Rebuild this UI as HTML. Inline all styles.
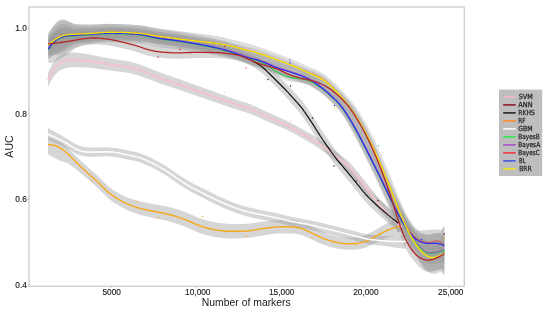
<!DOCTYPE html>
<html><head><meta charset="utf-8"><title>AUC vs number of markers</title>
<style>
html,body{margin:0;padding:0;background:#fff;}
body{width:550px;height:313px;overflow:hidden;font-family:"Liberation Sans",sans-serif;}
svg{display:block;}
</style></head><body>
<svg width="550" height="313" viewBox="0 0 550 313" font-family="Liberation Sans, sans-serif">
<rect width="550" height="313" fill="#ffffff"/>
<defs><linearGradient id="bg" gradientUnits="userSpaceOnUse" x1="0" y1="0" x2="550" y2="0">
<stop offset="0" stop-color="#999999" stop-opacity="0.4"/><stop offset="0.33" stop-color="#999999" stop-opacity="0.4"/>
<stop offset="0.45" stop-color="#999999" stop-opacity="0.31"/><stop offset="0.7" stop-color="#999999" stop-opacity="0.31"/>
<stop offset="0.745" stop-color="#999999" stop-opacity="0.4"/><stop offset="1" stop-color="#999999" stop-opacity="0.4"/></linearGradient>
<clipPath id="plot"><rect x="29" y="7" width="435" height="279"/></clipPath></defs>
<g clip-path="url(#plot)">
<g fill="#999999" fill-opacity="0.4" stroke="none">
<path d="M48.0,73.2 L49.0,71.0 L50.0,68.8 L51.0,66.7 L52.0,64.8 L53.0,63.1 L54.0,61.5 L55.0,60.1 L56.0,58.9 L57.0,57.9 L58.0,56.9 L59.0,56.1 L60.0,55.5 L61.0,54.9 L62.0,54.4 L63.0,53.9 L64.0,53.6 L65.0,53.3 L66.0,53.0 L67.0,52.8 L68.0,52.6 L69.0,52.5 L70.0,52.4 L71.0,52.4 L72.0,52.3 L73.0,52.4 L74.0,52.4 L75.0,52.5 L76.0,52.6 L77.0,52.7 L78.0,52.8 L79.0,53.0 L80.0,53.1 L81.0,53.2 L82.0,53.4 L83.0,53.5 L84.0,53.7 L85.0,53.8 L86.0,54.0 L87.0,54.1 L88.0,54.3 L89.0,54.5 L90.0,54.6 L91.0,54.8 L92.0,55.0 L93.0,55.2 L94.0,55.4 L95.0,55.6 L96.0,55.8 L97.0,56.0 L98.0,56.2 L99.0,56.4 L100.0,56.6 L101.0,56.8 L102.0,57.0 L103.0,57.2 L104.0,57.4 L105.0,57.6 L106.0,57.8 L107.0,58.0 L108.0,58.2 L109.0,58.3 L110.0,58.5 L111.0,58.7 L112.0,58.8 L113.0,59.0 L114.0,59.1 L115.0,59.3 L116.0,59.4 L117.0,59.6 L118.0,59.7 L119.0,59.9 L120.0,60.0 L121.0,60.2 L122.0,60.3 L123.0,60.5 L124.0,60.6 L125.0,60.8 L126.0,61.0 L127.0,61.2 L128.0,61.4 L129.0,61.6 L130.0,61.8 L131.0,62.0 L132.0,62.3 L133.0,62.5 L134.0,62.8 L135.0,63.1 L136.0,63.3 L137.0,63.6 L138.0,64.0 L139.0,64.3 L140.0,64.6 L141.0,65.0 L142.0,65.3 L143.0,65.7 L144.0,66.1 L145.0,66.5 L146.0,66.8 L147.0,67.2 L148.0,67.7 L149.0,68.1 L150.0,68.5 L151.0,68.9 L152.0,69.3 L153.0,69.7 L154.0,70.1 L155.0,70.5 L156.0,70.9 L157.0,71.3 L158.0,71.7 L159.0,72.0 L160.0,72.4 L161.0,72.8 L162.0,73.1 L163.0,73.5 L164.0,73.9 L165.0,74.2 L166.0,74.6 L167.0,74.9 L168.0,75.3 L169.0,75.6 L170.0,76.0 L171.0,76.3 L172.0,76.7 L173.0,77.0 L174.0,77.4 L175.0,77.7 L176.0,78.1 L177.0,78.4 L178.0,78.8 L179.0,79.1 L180.0,79.5 L181.0,79.8 L182.0,80.2 L183.0,80.6 L184.0,80.9 L185.0,81.3 L186.0,81.6 L187.0,82.0 L188.0,82.3 L189.0,82.7 L190.0,83.0 L191.0,83.4 L192.0,83.7 L193.0,84.1 L194.0,84.5 L195.0,84.8 L196.0,85.2 L197.0,85.5 L198.0,85.9 L199.0,86.2 L200.0,86.6 L201.0,87.0 L202.0,87.3 L203.0,87.7 L204.0,88.0 L205.0,88.4 L206.0,88.8 L207.0,89.1 L208.0,89.5 L209.0,89.8 L210.0,90.2 L211.0,90.6 L212.0,90.9 L213.0,91.3 L214.0,91.7 L215.0,92.0 L216.0,92.4 L217.0,92.7 L218.0,93.1 L219.0,93.5 L220.0,93.8 L221.0,94.2 L222.0,94.5 L223.0,94.9 L224.0,95.3 L225.0,95.6 L226.0,96.0 L227.0,96.4 L228.0,96.7 L229.0,97.1 L230.0,97.4 L231.0,97.8 L232.0,98.1 L233.0,98.5 L234.0,98.8 L235.0,99.2 L236.0,99.5 L237.0,99.9 L238.0,100.2 L239.0,100.5 L240.0,100.8 L241.0,101.2 L242.0,101.5 L243.0,101.8 L244.0,102.1 L245.0,102.4 L246.0,102.8 L247.0,103.1 L248.0,103.4 L249.0,103.8 L250.0,104.2 L251.0,104.6 L252.0,105.0 L253.0,105.4 L254.0,105.9 L255.0,106.3 L256.0,106.8 L257.0,107.2 L258.0,107.7 L259.0,108.2 L260.0,108.7 L261.0,109.1 L262.0,109.6 L263.0,110.1 L264.0,110.6 L265.0,111.0 L266.0,111.5 L267.0,112.0 L268.0,112.4 L269.0,112.9 L270.0,113.3 L271.0,113.8 L272.0,114.2 L273.0,114.7 L274.0,115.1 L275.0,115.5 L276.0,116.0 L277.0,116.4 L278.0,116.9 L279.0,117.3 L280.0,117.8 L281.0,118.2 L282.0,118.7 L283.0,119.1 L284.0,119.6 L285.0,120.1 L286.0,120.5 L287.0,121.0 L288.0,121.5 L289.0,122.0 L290.0,122.5 L291.0,123.0 L292.0,123.5 L293.0,124.1 L294.0,124.6 L295.0,125.1 L296.0,125.7 L297.0,126.2 L298.0,126.8 L299.0,127.4 L300.0,127.9 L301.0,128.5 L302.0,129.1 L303.0,129.6 L304.0,130.2 L305.0,130.8 L306.0,131.3 L307.0,131.9 L308.0,132.5 L309.0,133.0 L310.0,133.6 L311.0,134.2 L312.0,134.8 L313.0,135.3 L314.0,135.9 L315.0,136.5 L316.0,137.1 L317.0,137.8 L318.0,138.4 L319.0,139.1 L320.0,139.7 L321.0,140.4 L322.0,141.1 L323.0,141.8 L324.0,142.6 L325.0,143.3 L326.0,144.1 L327.0,144.8 L328.0,145.5 L329.0,146.3 L330.0,147.0 L331.0,147.8 L332.0,148.5 L333.0,149.3 L334.0,150.0 L335.0,150.8 L336.0,151.5 L337.0,152.3 L338.0,153.0 L339.0,153.8 L340.0,154.5 L341.0,155.3 L342.0,156.0 L343.0,156.8 L344.0,157.6 L345.0,158.4 L346.0,159.2 L347.0,160.1 L348.0,161.0 L349.0,162.0 L350.0,163.0 L351.0,164.1 L352.0,165.2 L353.0,166.3 L354.0,167.5 L355.0,168.7 L356.0,169.9 L357.0,171.1 L358.0,172.3 L359.0,173.5 L360.0,174.8 L361.0,176.0 L362.0,177.3 L363.0,178.5 L364.0,179.8 L365.0,181.1 L366.0,182.4 L367.0,183.6 L368.0,184.9 L369.0,186.1 L370.0,187.4 L371.0,188.7 L372.0,189.9 L373.0,191.1 L374.0,192.3 L375.0,193.6 L376.0,194.8 L377.0,195.9 L378.0,197.1 L379.0,198.2 L380.0,199.4 L381.0,200.5 L382.0,201.6 L383.0,202.6 L384.0,203.7 L385.0,204.7 L386.0,205.8 L387.0,206.8 L388.0,207.9 L389.0,208.9 L390.0,209.9 L391.0,210.9 L392.0,211.9 L393.0,212.9 L394.0,213.8 L395.0,214.8 L396.0,215.7 L397.0,216.6 L398.0,217.5 L399.0,218.3 L400.0,219.2 L401.0,220.0 L402.0,220.9 L402.0,233.9 L401.0,233.0 L400.0,232.2 L399.0,231.3 L398.0,230.3 L397.0,229.4 L396.0,228.4 L395.0,227.4 L394.0,226.4 L393.0,225.4 L392.0,224.4 L391.0,223.3 L390.0,222.3 L389.0,221.2 L388.0,220.1 L387.0,219.0 L386.0,217.9 L385.0,216.8 L384.0,215.7 L383.0,214.6 L382.0,213.5 L381.0,212.3 L380.0,211.1 L379.0,210.0 L378.0,208.8 L377.0,207.6 L376.0,206.3 L375.0,205.1 L374.0,203.8 L373.0,202.5 L372.0,201.3 L371.0,200.0 L370.0,198.7 L369.0,197.4 L368.0,196.0 L367.0,194.7 L366.0,193.4 L365.0,192.1 L364.0,190.8 L363.0,189.5 L362.0,188.2 L361.0,186.9 L360.0,185.6 L359.0,184.3 L358.0,183.0 L357.0,181.7 L356.0,180.5 L355.0,179.2 L354.0,178.0 L353.0,176.8 L352.0,175.6 L351.0,174.5 L350.0,173.4 L349.0,172.3 L348.0,171.3 L347.0,170.4 L346.0,169.5 L345.0,168.6 L344.0,167.7 L343.0,166.9 L342.0,166.1 L341.0,165.3 L340.0,164.5 L339.0,163.7 L338.0,163.0 L337.0,162.2 L336.0,161.4 L335.0,160.6 L334.0,159.8 L333.0,159.0 L332.0,158.2 L331.0,157.5 L330.0,156.7 L329.0,155.9 L328.0,155.1 L327.0,154.4 L326.0,153.6 L325.0,152.8 L324.0,152.0 L323.0,151.3 L322.0,150.5 L321.0,149.8 L320.0,149.1 L319.0,148.4 L318.0,147.7 L317.0,147.0 L316.0,146.4 L315.0,145.7 L314.0,145.1 L313.0,144.5 L312.0,143.9 L311.0,143.3 L310.0,142.7 L309.0,142.1 L308.0,141.5 L307.0,141.0 L306.0,140.4 L305.0,139.8 L304.0,139.2 L303.0,138.6 L302.0,138.1 L301.0,137.5 L300.0,136.9 L299.0,136.4 L298.0,135.8 L297.0,135.2 L296.0,134.7 L295.0,134.2 L294.0,133.6 L293.0,133.1 L292.0,132.6 L291.0,132.1 L290.0,131.6 L289.0,131.1 L288.0,130.6 L287.0,130.1 L286.0,129.6 L285.0,129.1 L284.0,128.7 L283.0,128.2 L282.0,127.8 L281.0,127.3 L280.0,126.9 L279.0,126.5 L278.0,126.0 L277.0,125.6 L276.0,125.2 L275.0,124.8 L274.0,124.3 L273.0,123.9 L272.0,123.5 L271.0,123.1 L270.0,122.6 L269.0,122.2 L268.0,121.8 L267.0,121.3 L266.0,120.9 L265.0,120.4 L264.0,119.9 L263.0,119.5 L262.0,119.0 L261.0,118.6 L260.0,118.1 L259.0,117.6 L258.0,117.2 L257.0,116.7 L256.0,116.3 L255.0,115.8 L254.0,115.4 L253.0,115.0 L252.0,114.6 L251.0,114.2 L250.0,113.8 L249.0,113.4 L248.0,113.1 L247.0,112.7 L246.0,112.4 L245.0,112.1 L244.0,111.8 L243.0,111.5 L242.0,111.2 L241.0,110.9 L240.0,110.6 L239.0,110.3 L238.0,110.0 L237.0,109.6 L236.0,109.3 L235.0,109.0 L234.0,108.7 L233.0,108.3 L232.0,108.0 L231.0,107.7 L230.0,107.3 L229.0,107.0 L228.0,106.6 L227.0,106.3 L226.0,105.9 L225.0,105.6 L224.0,105.2 L223.0,104.9 L222.0,104.5 L221.0,104.2 L220.0,103.8 L219.0,103.5 L218.0,103.2 L217.0,102.8 L216.0,102.5 L215.0,102.1 L214.0,101.8 L213.0,101.4 L212.0,101.1 L211.0,100.7 L210.0,100.4 L209.0,100.0 L208.0,99.7 L207.0,99.3 L206.0,99.0 L205.0,98.7 L204.0,98.3 L203.0,98.0 L202.0,97.6 L201.0,97.3 L200.0,96.9 L199.0,96.6 L198.0,96.2 L197.0,95.9 L196.0,95.6 L195.0,95.2 L194.0,94.9 L193.0,94.5 L192.0,94.2 L191.0,93.9 L190.0,93.5 L189.0,93.2 L188.0,92.8 L187.0,92.5 L186.0,92.2 L185.0,91.8 L184.0,91.5 L183.0,91.2 L182.0,90.8 L181.0,90.5 L180.0,90.2 L179.0,89.8 L178.0,89.5 L177.0,89.1 L176.0,88.8 L175.0,88.5 L174.0,88.1 L173.0,87.8 L172.0,87.5 L171.0,87.1 L170.0,86.8 L169.0,86.5 L168.0,86.1 L167.0,85.8 L166.0,85.5 L165.0,85.1 L164.0,84.8 L163.0,84.4 L162.0,84.1 L161.0,83.8 L160.0,83.4 L159.0,83.1 L158.0,82.7 L157.0,82.3 L156.0,82.0 L155.0,81.6 L154.0,81.2 L153.0,80.8 L152.0,80.4 L151.0,80.0 L150.0,79.6 L149.0,79.2 L148.0,78.8 L147.0,78.5 L146.0,78.1 L145.0,77.7 L144.0,77.3 L143.0,77.0 L142.0,76.6 L141.0,76.3 L140.0,75.9 L139.0,75.6 L138.0,75.3 L137.0,75.0 L136.0,74.7 L135.0,74.5 L134.0,74.2 L133.0,74.0 L132.0,73.7 L131.0,73.5 L130.0,73.3 L129.0,73.1 L128.0,72.9 L127.0,72.7 L126.0,72.6 L125.0,72.4 L124.0,72.3 L123.0,72.1 L122.0,72.0 L121.0,71.8 L120.0,71.7 L119.0,71.6 L118.0,71.5 L117.0,71.4 L116.0,71.2 L115.0,71.1 L114.0,71.0 L113.0,70.9 L112.0,70.8 L111.0,70.6 L110.0,70.5 L109.0,70.4 L108.0,70.2 L107.0,70.1 L106.0,70.0 L105.0,69.8 L104.0,69.7 L103.0,69.5 L102.0,69.4 L101.0,69.2 L100.0,69.1 L99.0,68.9 L98.0,68.8 L97.0,68.7 L96.0,68.5 L95.0,68.4 L94.0,68.3 L93.0,68.1 L92.0,68.0 L91.0,67.9 L90.0,67.8 L89.0,67.7 L88.0,67.7 L87.0,67.6 L86.0,67.5 L85.0,67.5 L84.0,67.4 L83.0,67.4 L82.0,67.4 L81.0,67.3 L80.0,67.3 L79.0,67.2 L78.0,67.2 L77.0,67.1 L76.0,67.1 L75.0,67.1 L74.0,67.1 L73.0,67.1 L72.0,67.1 L71.0,67.2 L70.0,67.3 L69.0,67.5 L68.0,67.7 L67.0,67.9 L66.0,68.1 L65.0,68.4 L64.0,68.7 L63.0,69.1 L62.0,69.5 L61.0,70.0 L60.0,70.6 L59.0,71.3 L58.0,72.0 L57.0,72.9 L56.0,73.9 L55.0,75.0 L54.0,76.3 L53.0,77.7 L52.0,79.4 L51.0,81.1 L50.0,83.1 L49.0,85.1 L48.0,87.2Z"/>
<path d="M48.3,34.8 L49.3,34.3 L50.3,33.8 L51.3,33.3 L52.3,32.8 L53.3,32.4 L54.3,32.0 L55.3,31.6 L56.3,31.3 L57.3,31.0 L58.3,30.8 L59.3,30.7 L60.3,30.6 L61.3,30.6 L62.3,30.6 L63.3,30.6 L64.3,30.7 L65.3,30.9 L66.3,31.2 L67.3,31.4 L68.3,31.7 L69.3,31.9 L70.3,32.0 L71.3,32.2 L72.3,32.4 L73.3,32.5 L74.3,32.6 L75.3,32.6 L76.3,32.6 L77.3,32.5 L78.3,32.5 L79.3,32.4 L80.3,32.3 L81.3,32.2 L82.3,32.1 L83.3,32.0 L84.3,31.9 L85.3,31.8 L86.3,31.7 L87.3,31.7 L88.3,31.6 L89.3,31.6 L90.3,31.5 L91.3,31.5 L92.3,31.5 L93.3,31.5 L94.3,31.5 L95.3,31.5 L96.3,31.6 L97.3,31.7 L98.3,31.7 L99.3,31.8 L100.3,31.9 L101.3,32.0 L102.3,32.1 L103.3,32.3 L104.3,32.4 L105.3,32.5 L106.3,32.7 L107.3,32.8 L108.3,33.0 L109.3,33.2 L110.3,33.3 L111.3,33.5 L112.3,33.7 L113.3,33.9 L114.3,34.1 L115.3,34.3 L116.3,34.6 L117.3,34.8 L118.3,35.0 L119.3,35.2 L120.3,35.5 L121.3,35.7 L122.3,35.9 L123.3,36.2 L124.3,36.4 L125.3,36.7 L126.3,36.9 L127.3,37.2 L128.3,37.5 L129.3,37.7 L130.3,38.0 L131.3,38.3 L132.3,38.5 L133.3,38.8 L134.3,39.1 L135.3,39.4 L136.3,39.7 L137.3,40.0 L138.3,40.3 L139.3,40.7 L140.3,41.0 L141.3,41.4 L142.3,41.7 L143.3,42.1 L144.3,42.5 L145.3,42.8 L146.3,43.1 L147.3,43.4 L148.3,43.7 L149.3,44.0 L150.3,44.3 L151.3,44.5 L152.3,44.7 L153.3,45.0 L154.3,45.1 L155.3,45.3 L156.3,45.5 L157.3,45.6 L158.3,45.8 L159.3,45.9 L160.3,46.0 L161.3,46.1 L162.3,46.2 L163.3,46.3 L164.3,46.4 L165.3,46.4 L166.3,46.5 L167.3,46.6 L168.3,46.7 L169.3,46.7 L170.3,46.8 L171.3,46.8 L172.3,46.9 L173.3,46.9 L174.3,47.0 L175.3,47.0 L176.3,47.0 L177.3,47.0 L178.3,47.0 L179.3,47.0 L180.3,47.0 L181.3,47.0 L182.3,47.0 L183.3,47.0 L184.3,46.9 L185.3,46.9 L186.3,46.9 L187.3,46.8 L188.3,46.8 L189.3,46.8 L190.3,46.7 L191.3,46.7 L192.3,46.7 L193.3,46.6 L194.3,46.6 L195.3,46.6 L196.3,46.6 L197.3,46.6 L198.3,46.6 L199.3,46.6 L200.3,46.6 L201.3,46.6 L202.3,46.6 L203.3,46.7 L204.3,46.7 L205.3,46.7 L206.3,46.7 L207.3,46.8 L208.3,46.8 L209.3,46.8 L210.3,46.9 L211.3,46.9 L212.3,47.0 L213.3,47.0 L214.3,47.0 L215.3,47.1 L216.3,47.1 L217.3,47.2 L218.3,47.2 L219.3,47.3 L220.3,47.4 L221.3,47.4 L222.3,47.5 L223.3,47.6 L224.3,47.7 L225.3,47.8 L226.3,48.0 L227.3,48.1 L228.3,48.3 L229.3,48.4 L230.3,48.6 L231.3,48.7 L232.3,48.9 L233.3,49.1 L234.3,49.3 L235.3,49.5 L236.3,49.7 L237.3,49.9 L238.3,50.2 L239.3,50.5 L240.3,50.8 L241.3,51.1 L242.3,51.5 L243.3,51.9 L244.3,52.3 L245.3,52.8 L246.3,53.2 L247.3,53.7 L248.3,54.1 L249.3,54.6 L250.3,55.0 L251.3,55.5 L252.3,55.9 L253.3,56.3 L254.3,56.8 L255.3,57.2 L256.3,57.6 L257.3,58.0 L258.3,58.4 L259.3,58.7 L260.3,59.0 L261.3,59.4 L262.3,59.7 L263.3,60.0 L264.3,60.3 L265.3,60.6 L266.3,60.9 L267.3,61.1 L268.3,61.4 L269.3,61.7 L270.3,62.0 L271.3,62.3 L272.3,62.6 L273.3,62.9 L274.3,63.2 L275.3,63.6 L276.3,63.9 L277.3,64.3 L278.3,64.7 L279.3,65.1 L280.3,65.6 L281.3,66.1 L282.3,66.6 L283.3,67.1 L284.3,67.6 L285.3,68.1 L286.3,68.6 L287.3,69.1 L288.3,69.5 L289.3,69.9 L290.3,70.3 L291.3,70.7 L292.3,71.1 L293.3,71.4 L294.3,71.7 L295.3,72.0 L296.3,72.3 L297.3,72.6 L298.3,72.9 L299.3,73.1 L300.3,73.4 L301.3,73.6 L302.3,73.9 L303.3,74.1 L304.3,74.3 L305.3,74.5 L306.3,74.8 L307.3,75.0 L308.3,75.2 L309.3,75.4 L310.3,75.6 L311.3,75.9 L312.3,76.1 L313.3,76.4 L314.3,76.7 L315.3,77.0 L316.3,77.3 L317.3,77.7 L318.3,78.1 L319.3,78.5 L320.3,78.9 L321.3,79.4 L322.3,79.8 L323.3,80.3 L324.3,80.8 L325.3,81.3 L326.3,81.9 L327.3,82.4 L328.3,83.0 L329.3,83.7 L330.3,84.3 L331.3,85.0 L332.3,85.7 L333.3,86.5 L334.3,87.2 L335.3,88.0 L336.3,88.9 L337.3,89.7 L338.3,90.6 L339.3,91.5 L340.3,92.3 L341.3,93.2 L342.3,94.1 L343.3,95.0 L344.3,95.9 L345.3,96.9 L346.3,97.9 L347.3,99.0 L348.3,100.1 L349.3,101.3 L350.3,102.6 L351.3,103.8 L352.3,105.2 L353.3,106.6 L354.3,108.0 L355.3,109.5 L356.3,111.0 L357.3,112.5 L358.3,114.1 L359.3,115.8 L360.3,117.4 L361.3,119.1 L362.3,120.9 L363.3,122.6 L364.3,124.5 L365.3,126.3 L366.3,128.2 L367.3,130.1 L368.3,132.1 L369.3,134.2 L370.3,136.2 L371.3,138.3 L372.3,140.5 L373.3,142.7 L374.3,144.9 L375.3,147.2 L376.3,149.5 L377.3,151.9 L378.3,154.3 L379.3,156.7 L380.3,159.2 L381.3,161.7 L382.3,164.3 L383.3,166.9 L384.3,169.5 L385.3,172.1 L386.3,174.8 L387.3,177.5 L388.3,180.3 L389.3,183.2 L390.3,186.1 L391.3,189.1 L392.3,192.1 L393.3,195.2 L394.3,198.4 L395.3,201.6 L396.3,204.8 L397.3,208.0 L398.3,211.1 L399.3,214.2 L400.3,217.1 L401.3,219.9 L402.3,222.6 L403.3,225.1 L404.3,227.4 L405.3,229.6 L406.3,231.7 L407.3,233.7 L408.3,235.5 L409.3,237.3 L410.3,238.9 L411.3,240.4 L412.3,241.8 L413.3,243.1 L414.3,244.2 L415.3,245.3 L416.3,246.2 L417.3,246.9 L418.3,247.4 L419.3,247.8 L420.3,248.0 L421.3,248.2 L422.3,248.4 L423.3,248.4 L424.3,248.5 L425.3,248.6 L426.3,248.6 L427.3,248.5 L428.3,248.4 L429.3,248.2 L430.3,248.0 L431.3,247.7 L432.3,247.3 L433.3,246.9 L434.3,246.5 L435.3,246.1 L436.3,245.7 L437.3,245.2 L438.3,244.7 L439.3,244.2 L440.3,243.6 L441.3,242.6 L442.3,241.2 L443.3,239.3 L444.3,237.3 L444.3,270.3 L443.3,269.4 L442.3,268.7 L441.3,268.4 L440.3,268.5 L439.3,269.0 L438.3,269.5 L437.3,270.0 L436.3,270.4 L435.3,270.9 L434.3,271.2 L433.3,271.6 L432.3,271.8 L431.3,272.0 L430.3,272.1 L429.3,272.0 L428.3,271.9 L427.3,271.8 L426.3,271.5 L425.3,271.1 L424.3,270.7 L423.3,270.1 L422.3,269.4 L421.3,268.6 L420.3,267.7 L419.3,266.8 L418.3,265.8 L417.3,264.8 L416.3,263.7 L415.3,262.6 L414.3,261.5 L413.3,260.4 L412.3,259.1 L411.3,257.8 L410.3,256.4 L409.3,254.9 L408.3,253.2 L407.3,251.5 L406.3,249.6 L405.3,247.6 L404.3,245.5 L403.3,243.2 L402.3,240.8 L401.3,238.2 L400.3,235.5 L399.3,232.7 L398.3,229.7 L397.3,226.7 L396.3,223.6 L395.3,220.4 L394.3,217.1 L393.3,213.9 L392.3,210.7 L391.3,207.5 L390.3,204.4 L389.3,201.4 L388.3,198.3 L387.3,195.4 L386.3,192.4 L385.3,189.6 L384.3,186.7 L383.3,183.9 L382.3,181.2 L381.3,178.4 L380.3,175.8 L379.3,173.2 L378.3,170.6 L377.3,168.1 L376.3,165.6 L375.3,163.2 L374.3,160.8 L373.3,158.4 L372.3,156.1 L371.3,153.9 L370.3,151.7 L369.3,149.5 L368.3,147.4 L367.3,145.3 L366.3,143.2 L365.3,141.2 L364.3,139.2 L363.3,137.3 L362.3,135.4 L361.3,133.5 L360.3,131.7 L359.3,129.9 L358.3,128.1 L357.3,126.3 L356.3,124.6 L355.3,122.9 L354.3,121.2 L353.3,119.5 L352.3,117.9 L351.3,116.4 L350.3,114.9 L349.3,113.4 L348.3,112.0 L347.3,110.7 L346.3,109.4 L345.3,108.2 L344.3,107.0 L343.3,105.9 L342.3,104.9 L341.3,103.9 L340.3,102.9 L339.3,101.9 L338.3,100.9 L337.3,100.0 L336.3,99.0 L335.3,98.1 L334.3,97.2 L333.3,96.4 L332.3,95.5 L331.3,94.7 L330.3,94.0 L329.3,93.3 L328.3,92.6 L327.3,92.0 L326.3,91.3 L325.3,90.7 L324.3,90.2 L323.3,89.6 L322.3,89.1 L321.3,88.7 L320.3,88.2 L319.3,87.8 L318.3,87.4 L317.3,87.0 L316.3,86.6 L315.3,86.3 L314.3,86.0 L313.3,85.7 L312.3,85.4 L311.3,85.2 L310.3,84.9 L309.3,84.7 L308.3,84.5 L307.3,84.3 L306.3,84.1 L305.3,83.8 L304.3,83.6 L303.3,83.4 L302.3,83.2 L301.3,82.9 L300.3,82.7 L299.3,82.4 L298.3,82.2 L297.3,81.9 L296.3,81.6 L295.3,81.3 L294.3,81.0 L293.3,80.7 L292.3,80.4 L291.3,80.0 L290.3,79.7 L289.3,79.3 L288.3,78.9 L287.3,78.4 L286.3,78.0 L285.3,77.5 L284.3,77.0 L283.3,76.5 L282.3,76.0 L281.3,75.5 L280.3,75.0 L279.3,74.6 L278.3,74.2 L277.3,73.8 L276.3,73.4 L275.3,73.1 L274.3,72.7 L273.3,72.4 L272.3,72.1 L271.3,71.9 L270.3,71.6 L269.3,71.3 L268.3,71.0 L267.3,70.8 L266.3,70.5 L265.3,70.2 L264.3,70.0 L263.3,69.7 L262.3,69.4 L261.3,69.1 L260.3,68.8 L259.3,68.5 L258.3,68.1 L257.3,67.8 L256.3,67.4 L255.3,67.0 L254.3,66.6 L253.3,66.2 L252.3,65.8 L251.3,65.4 L250.3,65.0 L249.3,64.5 L248.3,64.1 L247.3,63.7 L246.3,63.3 L245.3,62.9 L244.3,62.5 L243.3,62.1 L242.3,61.7 L241.3,61.3 L240.3,61.0 L239.3,60.7 L238.3,60.5 L237.3,60.3 L236.3,60.1 L235.3,59.9 L234.3,59.7 L233.3,59.5 L232.3,59.4 L231.3,59.3 L230.3,59.1 L229.3,59.0 L228.3,58.9 L227.3,58.8 L226.3,58.7 L225.3,58.6 L224.3,58.5 L223.3,58.4 L222.3,58.4 L221.3,58.3 L220.3,58.3 L219.3,58.2 L218.3,58.2 L217.3,58.2 L216.3,58.1 L215.3,58.1 L214.3,58.1 L213.3,58.1 L212.3,58.1 L211.3,58.1 L210.3,58.1 L209.3,58.0 L208.3,58.0 L207.3,58.0 L206.3,58.0 L205.3,58.0 L204.3,58.0 L203.3,58.0 L202.3,58.0 L201.3,58.0 L200.3,58.0 L199.3,58.0 L198.3,58.0 L197.3,58.0 L196.3,58.1 L195.3,58.1 L194.3,58.1 L193.3,58.2 L192.3,58.2 L191.3,58.2 L190.3,58.3 L189.3,58.3 L188.3,58.4 L187.3,58.4 L186.3,58.5 L185.3,58.5 L184.3,58.6 L183.3,58.6 L182.3,58.6 L181.3,58.7 L180.3,58.7 L179.3,58.7 L178.3,58.7 L177.3,58.7 L176.3,58.7 L175.3,58.7 L174.3,58.7 L173.3,58.7 L172.3,58.6 L171.3,58.6 L170.3,58.5 L169.3,58.5 L168.3,58.4 L167.3,58.4 L166.3,58.3 L165.3,58.2 L164.3,58.2 L163.3,58.1 L162.3,58.0 L161.3,57.9 L160.3,57.8 L159.3,57.7 L158.3,57.6 L157.3,57.5 L156.3,57.4 L155.3,57.2 L154.3,57.0 L153.3,56.8 L152.3,56.6 L151.3,56.4 L150.3,56.2 L149.3,55.9 L148.3,55.7 L147.3,55.4 L146.3,55.1 L145.3,54.8 L144.3,54.4 L143.3,54.1 L142.3,53.7 L141.3,53.4 L140.3,53.0 L139.3,52.7 L138.3,52.4 L137.3,52.1 L136.3,51.8 L135.3,51.5 L134.3,51.2 L133.3,50.9 L132.3,50.6 L131.3,50.4 L130.3,50.1 L129.3,49.9 L128.3,49.6 L127.3,49.4 L126.3,49.1 L125.3,48.9 L124.3,48.6 L123.3,48.4 L122.3,48.2 L121.3,47.9 L120.3,47.7 L119.3,47.5 L118.3,47.3 L117.3,47.1 L116.3,46.9 L115.3,46.7 L114.3,46.5 L113.3,46.3 L112.3,46.1 L111.3,46.0 L110.3,45.8 L109.3,45.6 L108.3,45.5 L107.3,45.3 L106.3,45.2 L105.3,45.1 L104.3,45.0 L103.3,44.9 L102.3,44.8 L101.3,44.7 L100.3,44.6 L99.3,44.6 L98.3,44.5 L97.3,44.5 L96.3,44.5 L95.3,44.4 L94.3,44.5 L93.3,44.5 L92.3,44.5 L91.3,44.6 L90.3,44.7 L89.3,44.8 L88.3,44.9 L87.3,45.0 L86.3,45.1 L85.3,45.3 L84.3,45.5 L83.3,45.6 L82.3,45.8 L81.3,46.0 L80.3,46.2 L79.3,46.5 L78.3,46.7 L77.3,47.0 L76.3,47.3 L75.3,47.6 L74.3,48.0 L73.3,48.4 L72.3,48.9 L71.3,49.4 L70.3,49.9 L69.3,50.4 L68.3,51.0 L67.3,51.5 L66.3,52.1 L65.3,52.7 L64.3,53.2 L63.3,53.6 L62.3,53.9 L61.3,54.2 L60.3,54.4 L59.3,54.6 L58.3,54.8 L57.3,54.8 L56.3,54.8 L55.3,54.7 L54.3,54.5 L53.3,54.4 L52.3,54.1 L51.3,53.9 L50.3,53.7 L49.3,53.4 L48.3,53.0Z" fill="url(#bg)" fill-opacity="1"/>
<path d="M48.3,39.9 L49.3,39.0 L50.3,38.0 L51.3,37.1 L52.3,36.2 L53.3,35.4 L54.3,34.6 L55.3,34.0 L56.3,33.4 L57.3,32.9 L58.3,32.5 L59.3,32.2 L60.3,31.9 L61.3,31.8 L62.3,31.7 L63.3,31.6 L64.3,31.6 L65.3,31.6 L66.3,31.6 L67.3,31.6 L68.3,31.7 L69.3,31.7 L70.3,31.7 L71.3,31.8 L72.3,31.8 L73.3,31.8 L74.3,31.8 L75.3,31.7 L76.3,31.7 L77.3,31.6 L78.3,31.6 L79.3,31.5 L80.3,31.5 L81.3,31.4 L82.3,31.4 L83.3,31.3 L84.3,31.3 L85.3,31.2 L86.3,31.2 L87.3,31.1 L88.3,31.1 L89.3,31.1 L90.3,31.0 L91.3,31.0 L92.3,30.9 L93.3,30.9 L94.3,30.9 L95.3,30.8 L96.3,30.8 L97.3,30.7 L98.3,30.7 L99.3,30.7 L100.3,30.7 L101.3,30.6 L102.3,30.6 L103.3,30.6 L104.3,30.6 L105.3,30.5 L106.3,30.5 L107.3,30.5 L108.3,30.5 L109.3,30.5 L110.3,30.5 L111.3,30.5 L112.3,30.5 L113.3,30.5 L114.3,30.5 L115.3,30.6 L116.3,30.6 L117.3,30.6 L118.3,30.6 L119.3,30.6 L120.3,30.7 L121.3,30.7 L122.3,30.7 L123.3,30.8 L124.3,30.8 L125.3,30.8 L126.3,30.9 L127.3,30.9 L128.3,31.0 L129.3,31.0 L130.3,31.1 L131.3,31.1 L132.3,31.2 L133.3,31.2 L134.3,31.3 L135.3,31.3 L136.3,31.4 L137.3,31.5 L138.3,31.6 L139.3,31.7 L140.3,31.8 L141.3,31.9 L142.3,32.0 L143.3,32.2 L144.3,32.3 L145.3,32.5 L146.3,32.7 L147.3,32.9 L148.3,33.1 L149.3,33.3 L150.3,33.5 L151.3,33.7 L152.3,33.9 L153.3,34.1 L154.3,34.3 L155.3,34.5 L156.3,34.7 L157.3,34.9 L158.3,35.0 L159.3,35.2 L160.3,35.4 L161.3,35.5 L162.3,35.7 L163.3,35.8 L164.3,36.0 L165.3,36.1 L166.3,36.3 L167.3,36.4 L168.3,36.5 L169.3,36.7 L170.3,36.8 L171.3,37.0 L172.3,37.1 L173.3,37.3 L174.3,37.4 L175.3,37.6 L176.3,37.7 L177.3,37.9 L178.3,38.1 L179.3,38.2 L180.3,38.4 L181.3,38.5 L182.3,38.7 L183.3,38.9 L184.3,39.0 L185.3,39.2 L186.3,39.4 L187.3,39.5 L188.3,39.7 L189.3,39.9 L190.3,40.1 L191.3,40.2 L192.3,40.4 L193.3,40.6 L194.3,40.8 L195.3,41.0 L196.3,41.2 L197.3,41.4 L198.3,41.6 L199.3,41.8 L200.3,42.0 L201.3,42.2 L202.3,42.4 L203.3,42.7 L204.3,42.9 L205.3,43.1 L206.3,43.4 L207.3,43.6 L208.3,43.9 L209.3,44.1 L210.3,44.4 L211.3,44.6 L212.3,44.8 L213.3,45.1 L214.3,45.3 L215.3,45.6 L216.3,45.8 L217.3,46.1 L218.3,46.3 L219.3,46.6 L220.3,46.8 L221.3,47.1 L222.3,47.3 L223.3,47.6 L224.3,47.8 L225.3,48.0 L226.3,48.3 L227.3,48.5 L228.3,48.8 L229.3,49.0 L230.3,49.3 L231.3,49.5 L232.3,49.8 L233.3,50.1 L234.3,50.3 L235.3,50.6 L236.3,50.9 L237.3,51.2 L238.3,51.5 L239.3,51.8 L240.3,52.1 L241.3,52.4 L242.3,52.7 L243.3,53.0 L244.3,53.3 L245.3,53.6 L246.3,53.9 L247.3,54.1 L248.3,54.4 L249.3,54.7 L250.3,55.0 L251.3,55.4 L252.3,55.7 L253.3,56.1 L254.3,56.5 L255.3,56.9 L256.3,57.3 L257.3,57.8 L258.3,58.4 L259.3,59.0 L260.3,59.6 L261.3,60.3 L262.3,61.1 L263.3,61.8 L264.3,62.6 L265.3,63.5 L266.3,64.3 L267.3,65.2 L268.3,66.2 L269.3,67.1 L270.3,68.1 L271.3,69.0 L272.3,70.0 L273.3,71.0 L274.3,71.9 L275.3,72.9 L276.3,73.9 L277.3,74.9 L278.3,75.8 L279.3,76.8 L280.3,77.8 L281.3,78.7 L282.3,79.7 L283.3,80.7 L284.3,81.7 L285.3,82.7 L286.3,83.7 L287.3,84.7 L288.3,85.8 L289.3,86.9 L290.3,87.9 L291.3,89.0 L292.3,90.1 L293.3,91.1 L294.3,92.2 L295.3,93.3 L296.3,94.3 L297.3,95.4 L298.3,96.5 L299.3,97.6 L300.3,98.8 L301.3,100.0 L302.3,101.3 L303.3,102.6 L304.3,103.9 L305.3,105.3 L306.3,106.7 L307.3,108.1 L308.3,109.6 L309.3,111.0 L310.3,112.5 L311.3,114.0 L312.3,115.5 L313.3,117.0 L314.3,118.6 L315.3,120.1 L316.3,121.7 L317.3,123.3 L318.3,124.9 L319.3,126.4 L320.3,128.0 L321.3,129.5 L322.3,131.0 L323.3,132.5 L324.3,134.0 L325.3,135.5 L326.3,137.0 L327.3,138.4 L328.3,139.9 L329.3,141.4 L330.3,142.8 L331.3,144.3 L332.3,145.7 L333.3,147.1 L334.3,148.4 L335.3,149.8 L336.3,151.1 L337.3,152.3 L338.3,153.6 L339.3,154.8 L340.3,156.0 L341.3,157.2 L342.3,158.4 L343.3,159.6 L344.3,160.8 L345.3,162.0 L346.3,163.2 L347.3,164.4 L348.3,165.6 L349.3,166.8 L350.3,168.0 L351.3,169.2 L352.3,170.4 L353.3,171.6 L354.3,172.9 L355.3,174.1 L356.3,175.4 L357.3,176.6 L358.3,177.9 L359.3,179.1 L360.3,180.4 L361.3,181.6 L362.3,182.8 L363.3,184.0 L364.3,185.1 L365.3,186.3 L366.3,187.4 L367.3,188.4 L368.3,189.5 L369.3,190.5 L370.3,191.4 L371.3,192.4 L372.3,193.3 L373.3,194.3 L374.3,195.2 L375.3,196.1 L376.3,197.0 L377.3,197.8 L378.3,198.7 L379.3,199.6 L380.3,200.4 L381.3,201.3 L382.3,202.1 L383.3,202.9 L384.3,203.8 L385.3,204.6 L386.3,205.4 L387.3,206.2 L388.3,207.0 L389.3,207.8 L390.3,208.6 L391.3,209.4 L392.3,210.2 L393.3,211.0 L394.3,211.8 L395.3,212.5 L396.3,213.3 L397.3,214.1 L398.3,214.9 L398.3,231.7 L397.3,230.8 L396.3,230.0 L395.3,229.1 L394.3,228.3 L393.3,227.4 L392.3,226.6 L391.3,225.7 L390.3,224.8 L389.3,224.0 L388.3,223.1 L387.3,222.2 L386.3,221.4 L385.3,220.5 L384.3,219.6 L383.3,218.7 L382.3,217.9 L381.3,217.0 L380.3,216.1 L379.3,215.2 L378.3,214.3 L377.3,213.4 L376.3,212.4 L375.3,211.5 L374.3,210.6 L373.3,209.6 L372.3,208.7 L371.3,207.7 L370.3,206.7 L369.3,205.7 L368.3,204.7 L367.3,203.6 L366.3,202.6 L365.3,201.4 L364.3,200.3 L363.3,199.1 L362.3,197.9 L361.3,196.7 L360.3,195.5 L359.3,194.2 L358.3,193.0 L357.3,191.7 L356.3,190.4 L355.3,189.2 L354.3,187.9 L353.3,186.7 L352.3,185.4 L351.3,184.2 L350.3,183.0 L349.3,181.8 L348.3,180.6 L347.3,179.4 L346.3,178.2 L345.3,177.0 L344.3,175.8 L343.3,174.6 L342.3,173.4 L341.3,172.2 L340.3,171.0 L339.3,169.8 L338.3,168.6 L337.3,167.4 L336.3,166.1 L335.3,164.9 L334.3,163.6 L333.3,162.3 L332.3,161.0 L331.3,159.7 L330.3,158.3 L329.3,156.9 L328.3,155.5 L327.3,154.1 L326.3,152.7 L325.3,151.3 L324.3,149.9 L323.3,148.4 L322.3,147.0 L321.3,145.5 L320.3,144.0 L319.3,142.4 L318.3,140.8 L317.3,139.2 L316.3,137.6 L315.3,136.0 L314.3,134.4 L313.3,132.8 L312.3,131.3 L311.3,129.7 L310.3,128.2 L309.3,126.6 L308.3,125.1 L307.3,123.6 L306.3,122.1 L305.3,120.6 L304.3,119.1 L303.3,117.7 L302.3,116.3 L301.3,114.9 L300.3,113.6 L299.3,112.4 L298.3,111.2 L297.3,110.0 L296.3,108.8 L295.3,107.7 L294.3,106.5 L293.3,105.4 L292.3,104.2 L291.3,103.1 L290.3,102.0 L289.3,100.8 L288.3,99.7 L287.3,98.6 L286.3,97.5 L285.3,96.4 L284.3,95.3 L283.3,94.3 L282.3,93.3 L281.3,92.2 L280.3,91.2 L279.3,90.2 L278.3,89.2 L277.3,88.1 L276.3,87.1 L275.3,86.1 L274.3,85.0 L273.3,84.0 L272.3,83.0 L271.3,81.9 L270.3,80.9 L269.3,79.9 L268.3,78.9 L267.3,77.9 L266.3,76.9 L265.3,76.0 L264.3,75.0 L263.3,74.1 L262.3,73.3 L261.3,72.4 L260.3,71.7 L259.3,70.9 L258.3,70.2 L257.3,69.4 L256.3,68.7 L255.3,68.1 L254.3,67.4 L253.3,66.8 L252.3,66.2 L251.3,65.6 L250.3,65.0 L249.3,64.4 L248.3,63.9 L247.3,63.3 L246.3,62.8 L245.3,62.3 L244.3,61.8 L243.3,61.4 L242.3,60.9 L241.3,60.5 L240.3,60.1 L239.3,59.7 L238.3,59.4 L237.3,59.1 L236.3,58.7 L235.3,58.4 L234.3,58.1 L233.3,57.8 L232.3,57.5 L231.3,57.2 L230.3,56.9 L229.3,56.6 L228.3,56.3 L227.3,56.0 L226.3,55.7 L225.3,55.5 L224.3,55.2 L223.3,54.9 L222.3,54.6 L221.3,54.4 L220.3,54.1 L219.3,53.8 L218.3,53.6 L217.3,53.3 L216.3,53.0 L215.3,52.7 L214.3,52.5 L213.3,52.2 L212.3,51.9 L211.3,51.7 L210.3,51.4 L209.3,51.2 L208.3,50.9 L207.3,50.7 L206.3,50.4 L205.3,50.2 L204.3,49.9 L203.3,49.7 L202.3,49.4 L201.3,49.2 L200.3,49.0 L199.3,48.8 L198.3,48.6 L197.3,48.4 L196.3,48.2 L195.3,48.0 L194.3,47.8 L193.3,47.6 L192.3,47.4 L191.3,47.2 L190.3,47.1 L189.3,46.9 L188.3,46.7 L187.3,46.5 L186.3,46.4 L185.3,46.2 L184.3,46.0 L183.3,45.9 L182.3,45.7 L181.3,45.5 L180.3,45.4 L179.3,45.2 L178.3,45.1 L177.3,44.9 L176.3,44.7 L175.3,44.6 L174.3,44.4 L173.3,44.3 L172.3,44.1 L171.3,44.0 L170.3,43.8 L169.3,43.7 L168.3,43.5 L167.3,43.4 L166.3,43.3 L165.3,43.1 L164.3,43.0 L163.3,42.8 L162.3,42.7 L161.3,42.5 L160.3,42.4 L159.3,42.2 L158.3,42.0 L157.3,41.9 L156.3,41.7 L155.3,41.5 L154.3,41.3 L153.3,41.1 L152.3,40.9 L151.3,40.7 L150.3,40.5 L149.3,40.3 L148.3,40.1 L147.3,39.9 L146.3,39.7 L145.3,39.5 L144.3,39.3 L143.3,39.2 L142.3,39.0 L141.3,38.9 L140.3,38.8 L139.3,38.7 L138.3,38.6 L137.3,38.5 L136.3,38.4 L135.3,38.3 L134.3,38.3 L133.3,38.2 L132.3,38.2 L131.3,38.1 L130.3,38.1 L129.3,38.0 L128.3,38.0 L127.3,37.9 L126.3,37.9 L125.3,37.8 L124.3,37.8 L123.3,37.8 L122.3,37.7 L121.3,37.7 L120.3,37.7 L119.3,37.6 L118.3,37.6 L117.3,37.6 L116.3,37.6 L115.3,37.6 L114.3,37.5 L113.3,37.5 L112.3,37.5 L111.3,37.5 L110.3,37.5 L109.3,37.5 L108.3,37.5 L107.3,37.5 L106.3,37.5 L105.3,37.6 L104.3,37.6 L103.3,37.6 L102.3,37.7 L101.3,37.7 L100.3,37.7 L99.3,37.8 L98.3,37.8 L97.3,37.9 L96.3,37.9 L95.3,38.0 L94.3,38.1 L93.3,38.1 L92.3,38.2 L91.3,38.3 L90.3,38.3 L89.3,38.4 L88.3,38.5 L87.3,38.6 L86.3,38.7 L85.3,38.7 L84.3,38.8 L83.3,38.9 L82.3,39.0 L81.3,39.1 L80.3,39.2 L79.3,39.3 L78.3,39.4 L77.3,39.5 L76.3,39.6 L75.3,39.7 L74.3,39.8 L73.3,40.0 L72.3,40.2 L71.3,40.4 L70.3,40.6 L69.3,40.9 L68.3,41.2 L67.3,41.5 L66.3,41.8 L65.3,42.1 L64.3,42.4 L63.3,42.7 L62.3,43.1 L61.3,43.4 L60.3,43.7 L59.3,44.1 L58.3,44.4 L57.3,44.8 L56.3,45.3 L55.3,45.8 L54.3,46.3 L53.3,46.9 L52.3,47.5 L51.3,48.1 L50.3,48.8 L49.3,49.4 L48.3,50.1Z"/>
<path d="M48.0,137.5 L49.0,137.7 L50.0,137.9 L51.0,138.2 L52.0,138.4 L53.0,138.7 L54.0,139.1 L55.0,139.4 L56.0,139.9 L57.0,140.3 L58.0,140.8 L59.0,141.4 L60.0,142.0 L61.0,142.6 L62.0,143.2 L63.0,143.9 L64.0,144.7 L65.0,145.5 L66.0,146.3 L67.0,147.2 L68.0,148.1 L69.0,149.0 L70.0,150.0 L71.0,150.9 L72.0,151.9 L73.0,152.9 L74.0,153.9 L75.0,155.0 L76.0,156.0 L77.0,157.0 L78.0,158.0 L79.0,158.9 L80.0,159.9 L81.0,160.9 L82.0,161.8 L83.0,162.8 L84.0,163.7 L85.0,164.6 L86.0,165.6 L87.0,166.5 L88.0,167.4 L89.0,168.3 L90.0,169.1 L91.0,170.0 L92.0,170.9 L93.0,171.7 L94.0,172.6 L95.0,173.5 L96.0,174.4 L97.0,175.3 L98.0,176.2 L99.0,177.2 L100.0,178.2 L101.0,179.2 L102.0,180.2 L103.0,181.3 L104.0,182.3 L105.0,183.3 L106.0,184.2 L107.0,185.1 L108.0,186.0 L109.0,186.9 L110.0,187.7 L111.0,188.4 L112.0,189.1 L113.0,189.8 L114.0,190.5 L115.0,191.1 L116.0,191.7 L117.0,192.3 L118.0,192.9 L119.0,193.5 L120.0,194.0 L121.0,194.5 L122.0,195.0 L123.0,195.5 L124.0,196.0 L125.0,196.5 L126.0,196.9 L127.0,197.3 L128.0,197.7 L129.0,198.1 L130.0,198.5 L131.0,198.8 L132.0,199.1 L133.0,199.5 L134.0,199.8 L135.0,200.1 L136.0,200.4 L137.0,200.6 L138.0,200.9 L139.0,201.1 L140.0,201.4 L141.0,201.6 L142.0,201.8 L143.0,202.0 L144.0,202.2 L145.0,202.4 L146.0,202.6 L147.0,202.8 L148.0,203.0 L149.0,203.2 L150.0,203.4 L151.0,203.6 L152.0,203.8 L153.0,204.0 L154.0,204.2 L155.0,204.3 L156.0,204.5 L157.0,204.7 L158.0,204.8 L159.0,205.0 L160.0,205.2 L161.0,205.4 L162.0,205.6 L163.0,205.7 L164.0,205.9 L165.0,206.1 L166.0,206.4 L167.0,206.6 L168.0,206.8 L169.0,207.0 L170.0,207.3 L171.0,207.5 L172.0,207.8 L173.0,208.1 L174.0,208.4 L175.0,208.7 L176.0,209.0 L177.0,209.3 L178.0,209.6 L179.0,209.9 L180.0,210.2 L181.0,210.6 L182.0,210.9 L183.0,211.3 L184.0,211.6 L185.0,212.0 L186.0,212.4 L187.0,212.8 L188.0,213.2 L189.0,213.6 L190.0,214.0 L191.0,214.5 L192.0,214.9 L193.0,215.4 L194.0,215.8 L195.0,216.3 L196.0,216.7 L197.0,217.1 L198.0,217.5 L199.0,217.9 L200.0,218.3 L201.0,218.6 L202.0,218.9 L203.0,219.3 L204.0,219.6 L205.0,219.9 L206.0,220.1 L207.0,220.4 L208.0,220.7 L209.0,220.9 L210.0,221.2 L211.0,221.4 L212.0,221.6 L213.0,221.8 L214.0,222.0 L215.0,222.2 L216.0,222.4 L217.0,222.6 L218.0,222.7 L219.0,222.9 L220.0,223.0 L221.0,223.2 L222.0,223.3 L223.0,223.4 L224.0,223.5 L225.0,223.6 L226.0,223.7 L227.0,223.7 L228.0,223.8 L229.0,223.8 L230.0,223.9 L231.0,223.9 L232.0,223.9 L233.0,223.9 L234.0,223.9 L235.0,223.9 L236.0,223.9 L237.0,223.9 L238.0,223.9 L239.0,223.9 L240.0,223.9 L241.0,223.9 L242.0,223.9 L243.0,223.9 L244.0,223.9 L245.0,223.8 L246.0,223.8 L247.0,223.7 L248.0,223.7 L249.0,223.6 L250.0,223.5 L251.0,223.4 L252.0,223.3 L253.0,223.1 L254.0,223.0 L255.0,222.8 L256.0,222.6 L257.0,222.5 L258.0,222.3 L259.0,222.2 L260.0,222.0 L261.0,221.8 L262.0,221.7 L263.0,221.5 L264.0,221.4 L265.0,221.2 L266.0,221.1 L267.0,221.0 L268.0,220.9 L269.0,220.8 L270.0,220.7 L271.0,220.6 L272.0,220.5 L273.0,220.4 L274.0,220.4 L275.0,220.3 L276.0,220.3 L277.0,220.2 L278.0,220.2 L279.0,220.1 L280.0,220.1 L281.0,220.1 L282.0,220.1 L283.0,220.1 L284.0,220.1 L285.0,220.1 L286.0,220.1 L287.0,220.1 L288.0,220.1 L289.0,220.1 L290.0,220.2 L291.0,220.3 L292.0,220.3 L293.0,220.4 L294.0,220.5 L295.0,220.7 L296.0,220.8 L297.0,221.0 L298.0,221.2 L299.0,221.4 L300.0,221.7 L301.0,222.0 L302.0,222.3 L303.0,222.7 L304.0,223.1 L305.0,223.5 L306.0,223.9 L307.0,224.4 L308.0,224.8 L309.0,225.3 L310.0,225.8 L311.0,226.3 L312.0,226.8 L313.0,227.3 L314.0,227.8 L315.0,228.3 L316.0,228.8 L317.0,229.3 L318.0,229.8 L319.0,230.3 L320.0,230.7 L321.0,231.2 L322.0,231.6 L323.0,232.0 L324.0,232.4 L325.0,232.8 L326.0,233.2 L327.0,233.6 L328.0,233.9 L329.0,234.3 L330.0,234.6 L331.0,234.9 L332.0,235.2 L333.0,235.4 L334.0,235.7 L335.0,235.9 L336.0,236.1 L337.0,236.4 L338.0,236.6 L339.0,236.7 L340.0,236.9 L341.0,237.1 L342.0,237.2 L343.0,237.4 L344.0,237.5 L345.0,237.6 L346.0,237.7 L347.0,237.8 L348.0,237.8 L349.0,237.8 L350.0,237.8 L351.0,237.8 L352.0,237.8 L353.0,237.7 L354.0,237.6 L355.0,237.6 L356.0,237.5 L357.0,237.3 L358.0,237.2 L359.0,237.0 L360.0,236.8 L361.0,236.6 L362.0,236.3 L363.0,236.0 L364.0,235.7 L365.0,235.3 L366.0,234.9 L367.0,234.5 L368.0,234.0 L369.0,233.6 L370.0,233.1 L371.0,232.6 L372.0,232.0 L373.0,231.5 L374.0,230.9 L375.0,230.3 L376.0,229.7 L377.0,229.1 L378.0,228.5 L379.0,227.9 L380.0,227.3 L381.0,226.7 L382.0,226.1 L383.0,225.5 L384.0,224.9 L385.0,224.3 L386.0,223.7 L387.0,223.2 L388.0,222.7 L389.0,222.2 L390.0,221.7 L391.0,221.2 L392.0,220.7 L393.0,220.3 L394.0,219.9 L395.0,219.5 L396.0,219.1 L397.0,218.7 L398.0,218.3 L399.0,218.0 L400.0,217.6 L400.0,235.1 L399.0,235.2 L398.0,235.3 L397.0,235.4 L396.0,235.6 L395.0,235.7 L394.0,235.9 L393.0,236.1 L392.0,236.3 L391.0,236.6 L390.0,236.8 L389.0,237.1 L388.0,237.4 L387.0,237.8 L386.0,238.1 L385.0,238.5 L384.0,238.9 L383.0,239.4 L382.0,239.8 L381.0,240.3 L380.0,240.7 L379.0,241.2 L378.0,241.7 L377.0,242.2 L376.0,242.8 L375.0,243.3 L374.0,243.8 L373.0,244.3 L372.0,244.8 L371.0,245.3 L370.0,245.8 L369.0,246.2 L368.0,246.6 L367.0,247.0 L366.0,247.4 L365.0,247.7 L364.0,248.0 L363.0,248.3 L362.0,248.6 L361.0,248.8 L360.0,249.0 L359.0,249.2 L358.0,249.3 L357.0,249.4 L356.0,249.5 L355.0,249.6 L354.0,249.7 L353.0,249.7 L352.0,249.8 L351.0,249.8 L350.0,249.8 L349.0,249.8 L348.0,249.8 L347.0,249.8 L346.0,249.7 L345.0,249.6 L344.0,249.5 L343.0,249.4 L342.0,249.3 L341.0,249.2 L340.0,249.0 L339.0,248.8 L338.0,248.7 L337.0,248.5 L336.0,248.3 L335.0,248.1 L334.0,247.9 L333.0,247.6 L332.0,247.4 L331.0,247.1 L330.0,246.8 L329.0,246.5 L328.0,246.2 L327.0,245.9 L326.0,245.6 L325.0,245.2 L324.0,244.8 L323.0,244.5 L322.0,244.1 L321.0,243.7 L320.0,243.2 L319.0,242.8 L318.0,242.4 L317.0,241.9 L316.0,241.4 L315.0,240.9 L314.0,240.5 L313.0,240.0 L312.0,239.5 L311.0,239.0 L310.0,238.6 L309.0,238.1 L308.0,237.7 L307.0,237.2 L306.0,236.8 L305.0,236.4 L304.0,236.0 L303.0,235.6 L302.0,235.3 L301.0,235.0 L300.0,234.7 L299.0,234.5 L298.0,234.2 L297.0,234.1 L296.0,233.9 L295.0,233.8 L294.0,233.7 L293.0,233.6 L292.0,233.5 L291.0,233.4 L290.0,233.4 L289.0,233.4 L288.0,233.4 L287.0,233.4 L286.0,233.4 L285.0,233.4 L284.0,233.4 L283.0,233.4 L282.0,233.5 L281.0,233.5 L280.0,233.5 L279.0,233.6 L278.0,233.6 L277.0,233.7 L276.0,233.8 L275.0,233.8 L274.0,233.9 L273.0,234.0 L272.0,234.1 L271.0,234.2 L270.0,234.3 L269.0,234.5 L268.0,234.6 L267.0,234.7 L266.0,234.9 L265.0,235.0 L264.0,235.2 L263.0,235.4 L262.0,235.5 L261.0,235.7 L260.0,235.9 L259.0,236.1 L258.0,236.3 L257.0,236.5 L256.0,236.6 L255.0,236.8 L254.0,237.0 L253.0,237.2 L252.0,237.3 L251.0,237.5 L250.0,237.6 L249.0,237.7 L248.0,237.8 L247.0,237.9 L246.0,238.0 L245.0,238.1 L244.0,238.1 L243.0,238.2 L242.0,238.2 L241.0,238.3 L240.0,238.3 L239.0,238.3 L238.0,238.3 L237.0,238.3 L236.0,238.4 L235.0,238.4 L234.0,238.4 L233.0,238.4 L232.0,238.4 L231.0,238.4 L230.0,238.4 L229.0,238.4 L228.0,238.4 L227.0,238.3 L226.0,238.3 L225.0,238.2 L224.0,238.1 L223.0,238.0 L222.0,237.9 L221.0,237.8 L220.0,237.7 L219.0,237.6 L218.0,237.4 L217.0,237.3 L216.0,237.1 L215.0,236.9 L214.0,236.8 L213.0,236.6 L212.0,236.4 L211.0,236.1 L210.0,235.9 L209.0,235.7 L208.0,235.5 L207.0,235.2 L206.0,234.9 L205.0,234.7 L204.0,234.4 L203.0,234.1 L202.0,233.7 L201.0,233.4 L200.0,233.1 L199.0,232.7 L198.0,232.3 L197.0,231.9 L196.0,231.5 L195.0,231.0 L194.0,230.6 L193.0,230.1 L192.0,229.7 L191.0,229.2 L190.0,228.8 L189.0,228.3 L188.0,227.9 L187.0,227.5 L186.0,227.1 L185.0,226.7 L184.0,226.3 L183.0,225.9 L182.0,225.5 L181.0,225.2 L180.0,224.8 L179.0,224.5 L178.0,224.1 L177.0,223.8 L176.0,223.4 L175.0,223.1 L174.0,222.8 L173.0,222.5 L172.0,222.2 L171.0,221.9 L170.0,221.6 L169.0,221.4 L168.0,221.1 L167.0,220.8 L166.0,220.6 L165.0,220.4 L164.0,220.1 L163.0,219.9 L162.0,219.7 L161.0,219.5 L160.0,219.3 L159.0,219.1 L158.0,218.9 L157.0,218.7 L156.0,218.5 L155.0,218.3 L154.0,218.1 L153.0,217.9 L152.0,217.6 L151.0,217.4 L150.0,217.2 L149.0,217.0 L148.0,216.8 L147.0,216.5 L146.0,216.3 L145.0,216.1 L144.0,215.8 L143.0,215.6 L142.0,215.3 L141.0,215.0 L140.0,214.8 L139.0,214.5 L138.0,214.2 L137.0,213.8 L136.0,213.5 L135.0,213.2 L134.0,212.8 L133.0,212.4 L132.0,212.0 L131.0,211.6 L130.0,211.2 L129.0,210.8 L128.0,210.4 L127.0,209.9 L126.0,209.4 L125.0,208.9 L124.0,208.4 L123.0,207.9 L122.0,207.4 L121.0,206.8 L120.0,206.3 L119.0,205.7 L118.0,205.1 L117.0,204.5 L116.0,203.8 L115.0,203.2 L114.0,202.5 L113.0,201.9 L112.0,201.2 L111.0,200.4 L110.0,199.7 L109.0,198.9 L108.0,198.0 L107.0,197.1 L106.0,196.2 L105.0,195.3 L104.0,194.3 L103.0,193.3 L102.0,192.2 L101.0,191.2 L100.0,190.2 L99.0,189.2 L98.0,188.2 L97.0,187.3 L96.0,186.4 L95.0,185.5 L94.0,184.6 L93.0,183.7 L92.0,182.9 L91.0,182.0 L90.0,181.1 L89.0,180.3 L88.0,179.4 L87.0,178.5 L86.0,177.7 L85.0,176.8 L84.0,176.0 L83.0,175.1 L82.0,174.2 L81.0,173.4 L80.0,172.5 L79.0,171.6 L78.0,170.8 L77.0,169.9 L76.0,169.1 L75.0,168.3 L74.0,167.6 L73.0,166.9 L72.0,166.2 L71.0,165.5 L70.0,164.8 L69.0,164.2 L68.0,163.6 L67.0,163.1 L66.0,162.6 L65.0,162.2 L64.0,161.9 L63.0,161.6 L62.0,161.3 L61.0,161.0 L60.0,160.6 L59.0,160.3 L58.0,159.8 L57.0,159.3 L56.0,158.8 L55.0,158.2 L54.0,157.7 L53.0,157.1 L52.0,156.6 L51.0,156.1 L50.0,155.5 L49.0,154.8 L48.0,154.2Z"/>
<path d="M48.0,128.0 L49.0,128.6 L50.0,129.1 L51.0,129.7 L52.0,130.2 L53.0,130.8 L54.0,131.4 L55.0,131.9 L56.0,132.5 L57.0,133.0 L58.0,133.6 L59.0,134.2 L60.0,134.7 L61.0,135.3 L62.0,135.8 L63.0,136.4 L64.0,136.9 L65.0,137.5 L66.0,138.1 L67.0,138.7 L68.0,139.3 L69.0,139.9 L70.0,140.5 L71.0,141.2 L72.0,141.8 L73.0,142.5 L74.0,143.1 L75.0,143.7 L76.0,144.2 L77.0,144.7 L78.0,145.2 L79.0,145.6 L80.0,145.9 L81.0,146.2 L82.0,146.5 L83.0,146.8 L84.0,147.0 L85.0,147.1 L86.0,147.3 L87.0,147.4 L88.0,147.5 L89.0,147.5 L90.0,147.6 L91.0,147.6 L92.0,147.6 L93.0,147.6 L94.0,147.6 L95.0,147.5 L96.0,147.5 L97.0,147.5 L98.0,147.5 L99.0,147.5 L100.0,147.4 L101.0,147.4 L102.0,147.4 L103.0,147.4 L104.0,147.4 L105.0,147.3 L106.0,147.3 L107.0,147.3 L108.0,147.3 L109.0,147.4 L110.0,147.4 L111.0,147.5 L112.0,147.6 L113.0,147.7 L114.0,147.8 L115.0,147.9 L116.0,148.1 L117.0,148.2 L118.0,148.4 L119.0,148.6 L120.0,148.8 L121.0,149.0 L122.0,149.2 L123.0,149.4 L124.0,149.7 L125.0,149.9 L126.0,150.1 L127.0,150.3 L128.0,150.5 L129.0,150.7 L130.0,150.8 L131.0,151.0 L132.0,151.2 L133.0,151.4 L134.0,151.6 L135.0,151.9 L136.0,152.1 L137.0,152.4 L138.0,152.6 L139.0,152.9 L140.0,153.3 L141.0,153.6 L142.0,154.0 L143.0,154.4 L144.0,154.8 L145.0,155.2 L146.0,155.6 L147.0,156.1 L148.0,156.5 L149.0,157.0 L150.0,157.5 L151.0,157.9 L152.0,158.4 L153.0,158.9 L154.0,159.4 L155.0,159.9 L156.0,160.4 L157.0,161.0 L158.0,161.5 L159.0,162.1 L160.0,162.6 L161.0,163.2 L162.0,163.8 L163.0,164.4 L164.0,165.0 L165.0,165.6 L166.0,166.2 L167.0,166.8 L168.0,167.5 L169.0,168.1 L170.0,168.8 L171.0,169.5 L172.0,170.2 L173.0,170.8 L174.0,171.5 L175.0,172.2 L176.0,172.9 L177.0,173.6 L178.0,174.3 L179.0,175.0 L180.0,175.7 L181.0,176.3 L182.0,177.0 L183.0,177.6 L184.0,178.3 L185.0,178.9 L186.0,179.5 L187.0,180.1 L188.0,180.7 L189.0,181.3 L190.0,181.8 L191.0,182.4 L192.0,182.9 L193.0,183.4 L194.0,183.9 L195.0,184.4 L196.0,184.9 L197.0,185.4 L198.0,185.9 L199.0,186.4 L200.0,187.0 L201.0,187.5 L202.0,188.0 L203.0,188.5 L204.0,189.1 L205.0,189.6 L206.0,190.1 L207.0,190.6 L208.0,191.1 L209.0,191.6 L210.0,192.1 L211.0,192.6 L212.0,193.1 L213.0,193.6 L214.0,194.1 L215.0,194.6 L216.0,195.0 L217.0,195.5 L218.0,196.0 L219.0,196.4 L220.0,196.9 L221.0,197.3 L222.0,197.8 L223.0,198.2 L224.0,198.6 L225.0,199.1 L226.0,199.5 L227.0,199.9 L228.0,200.3 L229.0,200.8 L230.0,201.2 L231.0,201.6 L232.0,202.0 L233.0,202.4 L234.0,202.7 L235.0,203.1 L236.0,203.5 L237.0,203.8 L238.0,204.2 L239.0,204.5 L240.0,204.9 L241.0,205.2 L242.0,205.5 L243.0,205.8 L244.0,206.1 L245.0,206.4 L246.0,206.7 L247.0,206.9 L248.0,207.2 L249.0,207.5 L250.0,207.7 L251.0,208.0 L252.0,208.2 L253.0,208.4 L254.0,208.6 L255.0,208.8 L256.0,209.1 L257.0,209.3 L258.0,209.5 L259.0,209.7 L260.0,209.9 L261.0,210.1 L262.0,210.3 L263.0,210.5 L264.0,210.7 L265.0,210.9 L266.0,211.1 L267.0,211.3 L268.0,211.5 L269.0,211.7 L270.0,211.9 L271.0,212.1 L272.0,212.3 L273.0,212.5 L274.0,212.7 L275.0,212.9 L276.0,213.1 L277.0,213.3 L278.0,213.5 L279.0,213.8 L280.0,214.0 L281.0,214.3 L282.0,214.5 L283.0,214.8 L284.0,215.1 L285.0,215.3 L286.0,215.6 L287.0,215.8 L288.0,216.1 L289.0,216.3 L290.0,216.5 L291.0,216.7 L292.0,216.9 L293.0,217.1 L294.0,217.3 L295.0,217.5 L296.0,217.7 L297.0,217.9 L298.0,218.1 L299.0,218.2 L300.0,218.4 L301.0,218.6 L302.0,218.8 L303.0,219.0 L304.0,219.1 L305.0,219.3 L306.0,219.5 L307.0,219.7 L308.0,219.9 L309.0,220.1 L310.0,220.3 L311.0,220.6 L312.0,220.8 L313.0,221.0 L314.0,221.2 L315.0,221.4 L316.0,221.7 L317.0,221.9 L318.0,222.1 L319.0,222.4 L320.0,222.6 L321.0,222.9 L322.0,223.1 L323.0,223.3 L324.0,223.6 L325.0,223.8 L326.0,224.1 L327.0,224.3 L328.0,224.5 L329.0,224.8 L330.0,225.0 L331.0,225.3 L332.0,225.5 L333.0,225.7 L334.0,226.0 L335.0,226.2 L336.0,226.5 L337.0,226.7 L338.0,227.0 L339.0,227.2 L340.0,227.5 L341.0,227.7 L342.0,228.0 L343.0,228.2 L344.0,228.5 L345.0,228.7 L346.0,228.9 L347.0,229.2 L348.0,229.4 L349.0,229.7 L350.0,230.0 L351.0,230.2 L352.0,230.5 L353.0,230.8 L354.0,231.0 L355.0,231.3 L356.0,231.6 L357.0,231.9 L358.0,232.1 L359.0,232.4 L360.0,232.7 L361.0,232.9 L362.0,233.1 L363.0,233.4 L364.0,233.6 L365.0,233.8 L366.0,234.0 L367.0,234.2 L368.0,234.3 L369.0,234.5 L370.0,234.6 L371.0,234.8 L372.0,234.9 L373.0,235.0 L374.0,235.1 L375.0,235.2 L376.0,235.4 L377.0,235.5 L378.0,235.6 L379.0,235.7 L380.0,235.7 L381.0,235.8 L382.0,235.9 L383.0,235.9 L384.0,236.0 L385.0,236.0 L386.0,236.0 L387.0,236.0 L388.0,235.9 L389.0,235.9 L390.0,235.9 L391.0,235.8 L392.0,235.7 L393.0,235.7 L394.0,235.6 L395.0,235.5 L396.0,235.4 L397.0,235.3 L398.0,235.2 L399.0,235.0 L400.0,234.9 L401.0,234.7 L402.0,234.5 L403.0,234.4 L404.0,234.2 L405.0,234.0 L406.0,233.8 L406.0,248.8 L405.0,248.7 L404.0,248.6 L403.0,248.6 L402.0,248.5 L401.0,248.3 L400.0,248.2 L399.0,248.1 L398.0,248.0 L397.0,247.8 L396.0,247.7 L395.0,247.5 L394.0,247.3 L393.0,247.2 L392.0,247.0 L391.0,246.9 L390.0,246.7 L389.0,246.5 L388.0,246.4 L387.0,246.2 L386.0,246.1 L385.0,245.9 L384.0,245.8 L383.0,245.7 L382.0,245.6 L381.0,245.5 L380.0,245.3 L379.0,245.2 L378.0,245.1 L377.0,245.0 L376.0,244.9 L375.0,244.8 L374.0,244.7 L373.0,244.5 L372.0,244.4 L371.0,244.3 L370.0,244.1 L369.0,244.0 L368.0,243.8 L367.0,243.6 L366.0,243.5 L365.0,243.3 L364.0,243.0 L363.0,242.8 L362.0,242.6 L361.0,242.3 L360.0,242.1 L359.0,241.8 L358.0,241.5 L357.0,241.2 L356.0,241.0 L355.0,240.7 L354.0,240.4 L353.0,240.1 L352.0,239.8 L351.0,239.6 L350.0,239.3 L349.0,239.0 L348.0,238.8 L347.0,238.5 L346.0,238.3 L345.0,238.0 L344.0,237.8 L343.0,237.5 L342.0,237.3 L341.0,237.0 L340.0,236.7 L339.0,236.5 L338.0,236.2 L337.0,236.0 L336.0,235.7 L335.0,235.5 L334.0,235.2 L333.0,235.0 L332.0,234.8 L331.0,234.5 L330.0,234.3 L329.0,234.0 L328.0,233.8 L327.0,233.5 L326.0,233.3 L325.0,233.0 L324.0,232.8 L323.0,232.6 L322.0,232.3 L321.0,232.1 L320.0,231.8 L319.0,231.6 L318.0,231.4 L317.0,231.1 L316.0,230.9 L315.0,230.7 L314.0,230.4 L313.0,230.2 L312.0,230.0 L311.0,229.8 L310.0,229.5 L309.0,229.3 L308.0,229.1 L307.0,228.9 L306.0,228.7 L305.0,228.5 L304.0,228.3 L303.0,228.2 L302.0,228.0 L301.0,227.8 L300.0,227.6 L299.0,227.4 L298.0,227.3 L297.0,227.1 L296.0,226.9 L295.0,226.7 L294.0,226.5 L293.0,226.3 L292.0,226.2 L291.0,225.9 L290.0,225.7 L289.0,225.5 L288.0,225.3 L287.0,225.0 L286.0,224.8 L285.0,224.5 L284.0,224.3 L283.0,224.0 L282.0,223.7 L281.0,223.5 L280.0,223.2 L279.0,223.0 L278.0,222.7 L277.0,222.5 L276.0,222.3 L275.0,222.1 L274.0,221.9 L273.0,221.7 L272.0,221.5 L271.0,221.3 L270.0,221.1 L269.0,220.9 L268.0,220.7 L267.0,220.5 L266.0,220.3 L265.0,220.1 L264.0,219.9 L263.0,219.8 L262.0,219.6 L261.0,219.4 L260.0,219.2 L259.0,219.0 L258.0,218.8 L257.0,218.5 L256.0,218.3 L255.0,218.1 L254.0,217.9 L253.0,217.7 L252.0,217.5 L251.0,217.2 L250.0,217.0 L249.0,216.8 L248.0,216.5 L247.0,216.3 L246.0,216.0 L245.0,215.7 L244.0,215.4 L243.0,215.1 L242.0,214.8 L241.0,214.5 L240.0,214.2 L239.0,213.9 L238.0,213.5 L237.0,213.2 L236.0,212.8 L235.0,212.5 L234.0,212.1 L233.0,211.7 L232.0,211.3 L231.0,210.9 L230.0,210.5 L229.0,210.1 L228.0,209.7 L227.0,209.3 L226.0,208.9 L225.0,208.4 L224.0,208.0 L223.0,207.6 L222.0,207.1 L221.0,206.7 L220.0,206.2 L219.0,205.8 L218.0,205.3 L217.0,204.9 L216.0,204.4 L215.0,203.9 L214.0,203.5 L213.0,203.0 L212.0,202.5 L211.0,202.0 L210.0,201.5 L209.0,201.0 L208.0,200.5 L207.0,200.0 L206.0,199.5 L205.0,199.0 L204.0,198.5 L203.0,197.9 L202.0,197.4 L201.0,196.9 L200.0,196.4 L199.0,195.8 L198.0,195.3 L197.0,194.8 L196.0,194.3 L195.0,193.8 L194.0,193.3 L193.0,192.8 L192.0,192.3 L191.0,191.7 L190.0,191.2 L189.0,190.7 L188.0,190.1 L187.0,189.5 L186.0,188.9 L185.0,188.3 L184.0,187.6 L183.0,187.0 L182.0,186.3 L181.0,185.7 L180.0,185.0 L179.0,184.3 L178.0,183.6 L177.0,183.0 L176.0,182.3 L175.0,181.6 L174.0,180.9 L173.0,180.2 L172.0,179.5 L171.0,178.8 L170.0,178.1 L169.0,177.4 L168.0,176.8 L167.0,176.1 L166.0,175.5 L165.0,174.8 L164.0,174.2 L163.0,173.6 L162.0,173.0 L161.0,172.4 L160.0,171.9 L159.0,171.3 L158.0,170.7 L157.0,170.2 L156.0,169.7 L155.0,169.1 L154.0,168.6 L153.0,168.1 L152.0,167.6 L151.0,167.1 L150.0,166.6 L149.0,166.2 L148.0,165.7 L147.0,165.2 L146.0,164.8 L145.0,164.4 L144.0,163.9 L143.0,163.5 L142.0,163.1 L141.0,162.7 L140.0,162.4 L139.0,162.0 L138.0,161.7 L137.0,161.5 L136.0,161.2 L135.0,160.9 L134.0,160.7 L133.0,160.5 L132.0,160.3 L131.0,160.1 L130.0,159.9 L129.0,159.7 L128.0,159.5 L127.0,159.3 L126.0,159.1 L125.0,158.9 L124.0,158.7 L123.0,158.5 L122.0,158.3 L121.0,158.0 L120.0,157.8 L119.0,157.6 L118.0,157.4 L117.0,157.3 L116.0,157.1 L115.0,156.9 L114.0,156.8 L113.0,156.7 L112.0,156.6 L111.0,156.5 L110.0,156.4 L109.0,156.4 L108.0,156.3 L107.0,156.3 L106.0,156.3 L105.0,156.4 L104.0,156.4 L103.0,156.4 L102.0,156.4 L101.0,156.4 L100.0,156.5 L99.0,156.5 L98.0,156.5 L97.0,156.6 L96.0,156.6 L95.0,156.6 L94.0,156.7 L93.0,156.7 L92.0,156.7 L91.0,156.7 L90.0,156.7 L89.0,156.7 L88.0,156.7 L87.0,156.6 L86.0,156.5 L85.0,156.4 L84.0,156.2 L83.0,156.0 L82.0,155.8 L81.0,155.6 L80.0,155.3 L79.0,155.0 L78.0,154.6 L77.0,154.2 L76.0,153.7 L75.0,153.2 L74.0,152.6 L73.0,152.0 L72.0,151.4 L71.0,150.7 L70.0,150.1 L69.0,149.5 L68.0,148.9 L67.0,148.4 L66.0,147.9 L65.0,147.4 L64.0,146.9 L63.0,146.4 L62.0,146.0 L61.0,145.5 L60.0,145.1 L59.0,144.6 L58.0,144.2 L57.0,143.8 L56.0,143.3 L55.0,142.9 L54.0,142.5 L53.0,142.1 L52.0,141.7 L51.0,141.2 L50.0,140.8 L49.0,140.4 L48.0,140.0Z"/>
<path d="M48.3,41.6 L49.3,39.8 L50.3,38.1 L51.3,36.5 L52.3,35.0 L53.3,33.6 L54.3,32.4 L55.3,31.3 L56.3,30.3 L57.3,29.5 L58.3,28.8 L59.3,28.3 L60.3,27.9 L61.3,27.6 L62.3,27.3 L63.3,27.2 L64.3,27.1 L65.3,27.2 L66.3,27.4 L67.3,27.6 L68.3,27.9 L69.3,28.1 L70.3,28.3 L71.3,28.5 L72.3,28.7 L73.3,28.9 L74.3,29.1 L75.3,29.2 L76.3,29.3 L77.3,29.3 L78.3,29.3 L79.3,29.3 L80.3,29.3 L81.3,29.3 L82.3,29.3 L83.3,29.3 L84.3,29.3 L85.3,29.3 L86.3,29.2 L87.3,29.2 L88.3,29.2 L89.3,29.2 L90.3,29.1 L91.3,29.1 L92.3,29.1 L93.3,29.0 L94.3,29.0 L95.3,28.9 L96.3,28.9 L97.3,28.8 L98.3,28.7 L99.3,28.7 L100.3,28.6 L101.3,28.6 L102.3,28.5 L103.3,28.5 L104.3,28.4 L105.3,28.4 L106.3,28.4 L107.3,28.4 L108.3,28.3 L109.3,28.3 L110.3,28.3 L111.3,28.3 L112.3,28.3 L113.3,28.4 L114.3,28.4 L115.3,28.4 L116.3,28.4 L117.3,28.5 L118.3,28.5 L119.3,28.5 L120.3,28.5 L121.3,28.6 L122.3,28.6 L123.3,28.7 L124.3,28.7 L125.3,28.8 L126.3,28.8 L127.3,28.9 L128.3,28.9 L129.3,29.0 L130.3,29.0 L131.3,29.1 L132.3,29.1 L133.3,29.2 L134.3,29.2 L135.3,29.3 L136.3,29.4 L137.3,29.5 L138.3,29.6 L139.3,29.7 L140.3,29.8 L141.3,29.9 L142.3,30.1 L143.3,30.3 L144.3,30.5 L145.3,30.7 L146.3,30.9 L147.3,31.1 L148.3,31.4 L149.3,31.6 L150.3,31.9 L151.3,32.1 L152.3,32.3 L153.3,32.6 L154.3,32.8 L155.3,33.0 L156.3,33.2 L157.3,33.4 L158.3,33.6 L159.3,33.7 L160.3,33.9 L161.3,34.0 L162.3,34.2 L163.3,34.3 L164.3,34.4 L165.3,34.6 L166.3,34.7 L167.3,34.8 L168.3,35.0 L169.3,35.1 L170.3,35.2 L171.3,35.3 L172.3,35.5 L173.3,35.6 L174.3,35.7 L175.3,35.9 L176.3,36.0 L177.3,36.1 L178.3,36.3 L179.3,36.4 L180.3,36.6 L181.3,36.8 L182.3,36.9 L183.3,37.1 L184.3,37.3 L185.3,37.4 L186.3,37.6 L187.3,37.8 L188.3,38.0 L189.3,38.1 L190.3,38.3 L191.3,38.5 L192.3,38.7 L193.3,38.9 L194.3,39.0 L195.3,39.2 L196.3,39.4 L197.3,39.6 L198.3,39.8 L199.3,40.0 L200.3,40.2 L201.3,40.4 L202.3,40.6 L203.3,40.8 L204.3,41.0 L205.3,41.2 L206.3,41.4 L207.3,41.6 L208.3,41.8 L209.3,42.0 L210.3,42.2 L211.3,42.4 L212.3,42.6 L213.3,42.8 L214.3,43.1 L215.3,43.3 L216.3,43.5 L217.3,43.8 L218.3,44.0 L219.3,44.3 L220.3,44.6 L221.3,44.8 L222.3,45.1 L223.3,45.4 L224.3,45.7 L225.3,46.0 L226.3,46.3 L227.3,46.6 L228.3,46.9 L229.3,47.2 L230.3,47.6 L231.3,47.9 L232.3,48.2 L233.3,48.5 L234.3,48.9 L235.3,49.2 L236.3,49.6 L237.3,49.9 L238.3,50.3 L239.3,50.6 L240.3,51.0 L241.3,51.4 L242.3,51.8 L243.3,52.1 L244.3,52.5 L245.3,52.9 L246.3,53.2 L247.3,53.6 L248.3,53.9 L249.3,54.2 L250.3,54.5 L251.3,54.8 L252.3,55.1 L253.3,55.3 L254.3,55.6 L255.3,55.9 L256.3,56.2 L257.3,56.6 L258.3,56.9 L259.3,57.3 L260.3,57.7 L261.3,58.2 L262.3,58.6 L263.3,59.2 L264.3,59.7 L265.3,60.2 L266.3,60.8 L267.3,61.4 L268.3,62.0 L269.3,62.7 L270.3,63.3 L271.3,64.0 L272.3,64.7 L273.3,65.3 L274.3,66.0 L275.3,66.6 L276.3,67.3 L277.3,67.9 L278.3,68.5 L279.3,69.1 L280.3,69.6 L281.3,70.1 L282.3,70.6 L283.3,71.1 L284.3,71.5 L285.3,71.9 L286.3,72.2 L287.3,72.6 L288.3,72.9 L289.3,73.1 L290.3,73.4 L291.3,73.6 L292.3,73.7 L293.3,73.9 L294.3,74.0 L295.3,74.2 L296.3,74.3 L297.3,74.4 L298.3,74.5 L299.3,74.6 L300.3,74.7 L301.3,74.8 L302.3,75.0 L303.3,75.1 L304.3,75.3 L305.3,75.6 L306.3,75.8 L307.3,76.1 L308.3,76.5 L309.3,76.8 L310.3,77.3 L311.3,77.7 L312.3,78.2 L313.3,78.7 L314.3,79.3 L315.3,79.9 L316.3,80.5 L317.3,81.2 L318.3,81.9 L319.3,82.6 L320.3,83.3 L321.3,84.0 L322.3,84.8 L323.3,85.6 L324.3,86.3 L325.3,87.2 L326.3,88.0 L327.3,88.8 L328.3,89.7 L329.3,90.6 L330.3,91.5 L331.3,92.4 L332.3,93.3 L333.3,94.2 L334.3,95.1 L335.3,96.0 L336.3,97.0 L337.3,97.9 L338.3,99.0 L339.3,100.1 L340.3,101.2 L341.3,102.4 L342.3,103.7 L343.3,105.0 L344.3,106.4 L345.3,107.8 L346.3,109.2 L347.3,110.7 L348.3,112.2 L349.3,113.7 L350.3,115.2 L351.3,116.8 L352.3,118.4 L353.3,120.0 L354.3,121.6 L355.3,123.3 L356.3,125.0 L357.3,126.8 L358.3,128.5 L359.3,130.3 L360.3,132.2 L361.3,134.0 L362.3,135.9 L363.3,137.8 L364.3,139.7 L365.3,141.6 L366.3,143.5 L367.3,145.5 L368.3,147.4 L369.3,149.3 L370.3,151.2 L371.3,153.2 L372.3,155.1 L373.3,157.1 L374.3,159.1 L375.3,161.0 L376.3,163.0 L377.3,165.0 L378.3,167.0 L379.3,169.0 L380.3,171.0 L381.3,172.9 L382.3,174.9 L383.3,176.9 L384.3,178.9 L385.3,180.9 L386.3,182.9 L387.3,184.9 L388.3,186.9 L389.3,188.9 L390.3,190.9 L391.3,192.9 L392.3,194.9 L393.3,196.9 L394.3,198.9 L395.3,200.9 L396.3,202.9 L397.3,204.8 L398.3,206.7 L399.3,208.6 L400.3,210.5 L401.3,212.3 L402.3,214.1 L403.3,215.9 L404.3,217.6 L405.3,219.3 L406.3,221.1 L407.3,222.8 L408.3,224.5 L409.3,226.1 L410.3,227.7 L411.3,229.3 L412.3,230.9 L413.3,232.3 L414.3,233.6 L415.3,234.8 L416.3,236.0 L417.3,237.0 L418.3,237.9 L419.3,238.7 L420.3,239.3 L421.3,239.9 L422.3,240.5 L423.3,241.0 L424.3,241.6 L425.3,242.2 L426.3,242.7 L427.3,243.0 L428.3,243.1 L429.3,243.1 L430.3,243.0 L431.3,242.8 L432.3,242.7 L433.3,242.5 L434.3,242.3 L435.3,242.1 L436.3,242.0 L437.3,241.8 L438.3,241.5 L439.3,241.3 L440.3,240.9 L441.3,240.2 L442.3,239.1 L443.3,237.5 L444.3,235.9 L444.3,264.5 L443.3,263.6 L442.3,262.9 L441.3,262.5 L440.3,262.5 L439.3,262.7 L438.3,263.0 L437.3,263.2 L436.3,263.4 L435.3,263.6 L434.3,263.7 L433.3,263.8 L432.3,263.9 L431.3,263.9 L430.3,263.9 L429.3,263.8 L428.3,263.5 L427.3,263.1 L426.3,262.5 L425.3,261.7 L424.3,260.8 L423.3,259.8 L422.3,258.7 L421.3,257.6 L420.3,256.4 L419.3,255.1 L418.3,253.8 L417.3,252.5 L416.3,251.2 L415.3,249.9 L414.3,248.6 L413.3,247.3 L412.3,245.9 L411.3,244.4 L410.3,242.9 L409.3,241.4 L408.3,239.8 L407.3,238.2 L406.3,236.6 L405.3,234.9 L404.3,233.3 L403.3,231.6 L402.3,229.9 L401.3,228.2 L400.3,226.5 L399.3,224.7 L398.3,222.9 L397.3,221.0 L396.3,219.1 L395.3,217.1 L394.3,215.1 L393.3,213.1 L392.3,211.0 L391.3,208.9 L390.3,206.8 L389.3,204.7 L388.3,202.5 L387.3,200.4 L386.3,198.2 L385.3,196.0 L384.3,193.9 L383.3,191.7 L382.3,189.5 L381.3,187.4 L380.3,185.3 L379.3,183.2 L378.3,181.1 L377.3,179.0 L376.3,176.9 L375.3,174.8 L374.3,172.8 L373.3,170.7 L372.3,168.7 L371.3,166.6 L370.3,164.6 L369.3,162.6 L368.3,160.6 L367.3,158.6 L366.3,156.5 L365.3,154.5 L364.3,152.5 L363.3,150.5 L362.3,148.5 L361.3,146.5 L360.3,144.6 L359.3,142.6 L358.3,140.6 L357.3,138.7 L356.3,136.8 L355.3,134.9 L354.3,133.1 L353.3,131.3 L352.3,129.4 L351.3,127.7 L350.3,125.9 L349.3,124.2 L348.3,122.5 L347.3,120.8 L346.3,119.2 L345.3,117.5 L344.3,116.0 L343.3,114.5 L342.3,113.0 L341.3,111.7 L340.3,110.3 L339.3,109.1 L338.3,107.9 L337.3,106.8 L336.3,105.8 L335.3,104.7 L334.3,103.7 L333.3,102.8 L332.3,101.8 L331.3,100.8 L330.3,99.9 L329.3,98.9 L328.3,98.0 L327.3,97.1 L326.3,96.2 L325.3,95.3 L324.3,94.5 L323.3,93.7 L322.3,92.9 L321.3,92.1 L320.3,91.4 L319.3,90.6 L318.3,89.9 L317.3,89.2 L316.3,88.6 L315.3,88.0 L314.3,87.4 L313.3,86.8 L312.3,86.3 L311.3,85.8 L310.3,85.3 L309.3,84.9 L308.3,84.5 L307.3,84.2 L306.3,83.9 L305.3,83.6 L304.3,83.4 L303.3,83.2 L302.3,83.0 L301.3,82.9 L300.3,82.8 L299.3,82.6 L298.3,82.5 L297.3,82.4 L296.3,82.3 L295.3,82.2 L294.3,82.1 L293.3,82.0 L292.3,81.8 L291.3,81.7 L290.3,81.5 L289.3,81.2 L288.3,81.0 L287.3,80.7 L286.3,80.4 L285.3,80.0 L284.3,79.6 L283.3,79.2 L282.3,78.8 L281.3,78.3 L280.3,77.8 L279.3,77.3 L278.3,76.7 L277.3,76.1 L276.3,75.5 L275.3,74.9 L274.3,74.2 L273.3,73.6 L272.3,72.9 L271.3,72.3 L270.3,71.6 L269.3,71.0 L268.3,70.4 L267.3,69.8 L266.3,69.2 L265.3,68.6 L264.3,68.1 L263.3,67.6 L262.3,67.1 L261.3,66.6 L260.3,66.2 L259.3,65.8 L258.3,65.4 L257.3,65.1 L256.3,64.7 L255.3,64.4 L254.3,64.2 L253.3,63.9 L252.3,63.6 L251.3,63.4 L250.3,63.1 L249.3,62.9 L248.3,62.6 L247.3,62.3 L246.3,62.0 L245.3,61.6 L244.3,61.3 L243.3,60.9 L242.3,60.6 L241.3,60.2 L240.3,59.9 L239.3,59.5 L238.3,59.2 L237.3,58.9 L236.3,58.5 L235.3,58.2 L234.3,57.9 L233.3,57.6 L232.3,57.3 L231.3,57.0 L230.3,56.7 L229.3,56.4 L228.3,56.1 L227.3,55.8 L226.3,55.5 L225.3,55.3 L224.3,55.0 L223.3,54.7 L222.3,54.5 L221.3,54.2 L220.3,54.0 L219.3,53.7 L218.3,53.5 L217.3,53.3 L216.3,53.1 L215.3,52.9 L214.3,52.7 L213.3,52.5 L212.3,52.3 L211.3,52.1 L210.3,51.9 L209.3,51.7 L208.3,51.5 L207.3,51.3 L206.3,51.1 L205.3,50.9 L204.3,50.8 L203.3,50.6 L202.3,50.4 L201.3,50.2 L200.3,50.1 L199.3,49.9 L198.3,49.7 L197.3,49.5 L196.3,49.4 L195.3,49.2 L194.3,49.0 L193.3,48.8 L192.3,48.7 L191.3,48.5 L190.3,48.3 L189.3,48.1 L188.3,48.0 L187.3,47.8 L186.3,47.7 L185.3,47.5 L184.3,47.3 L183.3,47.2 L182.3,47.0 L181.3,46.9 L180.3,46.7 L179.3,46.6 L178.3,46.4 L177.3,46.3 L176.3,46.1 L175.3,46.0 L174.3,45.9 L173.3,45.8 L172.3,45.6 L171.3,45.5 L170.3,45.4 L169.3,45.3 L168.3,45.2 L167.3,45.0 L166.3,44.9 L165.3,44.8 L164.3,44.7 L163.3,44.6 L162.3,44.4 L161.3,44.3 L160.3,44.2 L159.3,44.0 L158.3,43.8 L157.3,43.7 L156.3,43.5 L155.3,43.3 L154.3,43.1 L153.3,42.9 L152.3,42.7 L151.3,42.4 L150.3,42.2 L149.3,42.0 L148.3,41.7 L147.3,41.5 L146.3,41.3 L145.3,41.1 L144.3,40.9 L143.3,40.7 L142.3,40.5 L141.3,40.3 L140.3,40.2 L139.3,40.1 L138.3,40.0 L137.3,39.9 L136.3,39.8 L135.3,39.8 L134.3,39.7 L133.3,39.7 L132.3,39.6 L131.3,39.6 L130.3,39.5 L129.3,39.5 L128.3,39.4 L127.3,39.4 L126.3,39.4 L125.3,39.3 L124.3,39.3 L123.3,39.3 L122.3,39.2 L121.3,39.2 L120.3,39.2 L119.3,39.2 L118.3,39.1 L117.3,39.1 L116.3,39.1 L115.3,39.1 L114.3,39.1 L113.3,39.1 L112.3,39.1 L111.3,39.1 L110.3,39.1 L109.3,39.1 L108.3,39.2 L107.3,39.2 L106.3,39.2 L105.3,39.3 L104.3,39.4 L103.3,39.4 L102.3,39.5 L101.3,39.6 L100.3,39.7 L99.3,39.7 L98.3,39.8 L97.3,39.9 L96.3,40.0 L95.3,40.1 L94.3,40.2 L93.3,40.3 L92.3,40.4 L91.3,40.5 L90.3,40.5 L89.3,40.6 L88.3,40.7 L87.3,40.8 L86.3,40.9 L85.3,40.9 L84.3,41.0 L83.3,41.1 L82.3,41.2 L81.3,41.3 L80.3,41.4 L79.3,41.6 L78.3,41.7 L77.3,41.8 L76.3,42.0 L75.3,42.2 L74.3,42.4 L73.3,42.7 L72.3,43.0 L71.3,43.4 L70.3,43.8 L69.3,44.2 L68.3,44.6 L67.3,45.1 L66.3,45.6 L65.3,46.1 L64.3,46.6 L63.3,47.1 L62.3,47.6 L61.3,48.0 L60.3,48.5 L59.3,49.0 L58.3,49.6 L57.3,50.1 L56.3,50.7 L55.3,51.3 L54.3,51.9 L53.3,52.6 L52.3,53.5 L51.3,54.4 L50.3,55.4 L49.3,56.4 L48.3,57.4Z" fill="url(#bg)" fill-opacity="1"/>
<path d="M48.3,34.9 L49.3,33.0 L50.3,31.1 L51.3,29.3 L52.3,27.6 L53.3,26.1 L54.3,24.7 L55.3,23.4 L56.3,22.3 L57.3,21.4 L58.3,20.7 L59.3,20.2 L60.3,19.8 L61.3,19.6 L62.3,19.4 L63.3,19.4 L64.3,19.5 L65.3,19.8 L66.3,20.3 L67.3,20.7 L68.3,21.2 L69.3,21.6 L70.3,22.1 L71.3,22.5 L72.3,23.0 L73.3,23.4 L74.3,23.7 L75.3,23.9 L76.3,24.1 L77.3,24.2 L78.3,24.3 L79.3,24.3 L80.3,24.4 L81.3,24.4 L82.3,24.4 L83.3,24.4 L84.3,24.4 L85.3,24.5 L86.3,24.5 L87.3,24.4 L88.3,24.4 L89.3,24.4 L90.3,24.4 L91.3,24.4 L92.3,24.4 L93.3,24.4 L94.3,24.3 L95.3,24.3 L96.3,24.2 L97.3,24.2 L98.3,24.2 L99.3,24.1 L100.3,24.1 L101.3,24.0 L102.3,24.0 L103.3,23.9 L104.3,23.9 L105.3,23.9 L106.3,23.9 L107.3,23.8 L108.3,23.8 L109.3,23.8 L110.3,23.8 L111.3,23.8 L112.3,23.9 L113.3,23.9 L114.3,23.9 L115.3,23.9 L116.3,24.0 L117.3,24.0 L118.3,24.0 L119.3,24.1 L120.3,24.1 L121.3,24.1 L122.3,24.2 L123.3,24.2 L124.3,24.3 L125.3,24.3 L126.3,24.4 L127.3,24.4 L128.3,24.5 L129.3,24.6 L130.3,24.6 L131.3,24.7 L132.3,24.7 L133.3,24.8 L134.3,24.9 L135.3,24.9 L136.3,25.0 L137.3,25.1 L138.3,25.2 L139.3,25.3 L140.3,25.4 L141.3,25.6 L142.3,25.7 L143.3,25.9 L144.3,26.1 L145.3,26.3 L146.3,26.5 L147.3,26.8 L148.3,27.0 L149.3,27.2 L150.3,27.5 L151.3,27.7 L152.3,27.9 L153.3,28.2 L154.3,28.4 L155.3,28.6 L156.3,28.8 L157.3,29.0 L158.3,29.2 L159.3,29.3 L160.3,29.5 L161.3,29.6 L162.3,29.8 L163.3,29.9 L164.3,30.0 L165.3,30.2 L166.3,30.3 L167.3,30.4 L168.3,30.6 L169.3,30.7 L170.3,30.8 L171.3,31.0 L172.3,31.1 L173.3,31.2 L174.3,31.4 L175.3,31.5 L176.3,31.6 L177.3,31.8 L178.3,31.9 L179.3,32.1 L180.3,32.2 L181.3,32.4 L182.3,32.6 L183.3,32.7 L184.3,32.9 L185.3,33.1 L186.3,33.2 L187.3,33.4 L188.3,33.6 L189.3,33.8 L190.3,33.9 L191.3,34.1 L192.3,34.3 L193.3,34.5 L194.3,34.7 L195.3,34.9 L196.3,35.0 L197.3,35.2 L198.3,35.4 L199.3,35.6 L200.3,35.8 L201.3,36.0 L202.3,36.2 L203.3,36.4 L204.3,36.6 L205.3,36.8 L206.3,37.0 L207.3,37.2 L208.3,37.4 L209.3,37.6 L210.3,37.8 L211.3,38.0 L212.3,38.2 L213.3,38.4 L214.3,38.7 L215.3,38.9 L216.3,39.1 L217.3,39.4 L218.3,39.6 L219.3,39.9 L220.3,40.2 L221.3,40.4 L222.3,40.7 L223.3,41.0 L224.3,41.3 L225.3,41.6 L226.3,41.9 L227.3,42.2 L228.3,42.5 L229.3,42.8 L230.3,43.2 L231.3,43.5 L232.3,43.8 L233.3,44.2 L234.3,44.5 L235.3,44.9 L236.3,45.2 L237.3,45.5 L238.3,45.9 L239.3,46.3 L240.3,46.6 L241.3,47.0 L242.3,47.4 L243.3,47.8 L244.3,48.1 L245.3,48.5 L246.3,48.8 L247.3,49.2 L248.3,49.5 L249.3,49.8 L250.3,50.1 L251.3,50.4 L252.3,50.6 L253.3,50.9 L254.3,51.2 L255.3,51.5 L256.3,51.7 L257.3,52.0 L258.3,52.4 L259.3,52.7 L260.3,53.0 L261.3,53.4 L262.3,53.8 L263.3,54.2 L264.3,54.6 L265.3,55.0 L266.3,55.4 L267.3,55.8 L268.3,56.3 L269.3,56.7 L270.3,57.1 L271.3,57.6 L272.3,58.0 L273.3,58.4 L274.3,58.8 L275.3,59.2 L276.3,59.6 L277.3,60.0 L278.3,60.4 L279.3,60.7 L280.3,61.1 L281.3,61.4 L282.3,61.8 L283.3,62.1 L284.3,62.4 L285.3,62.7 L286.3,63.1 L287.3,63.4 L288.3,63.7 L289.3,64.1 L290.3,64.4 L291.3,64.7 L292.3,65.1 L293.3,65.4 L294.3,65.8 L295.3,66.1 L296.3,66.5 L297.3,66.8 L298.3,67.2 L299.3,67.5 L300.3,67.9 L301.3,68.3 L302.3,68.7 L303.3,69.1 L304.3,69.5 L305.3,70.0 L306.3,70.4 L307.3,70.9 L308.3,71.4 L309.3,71.9 L310.3,72.4 L311.3,73.0 L312.3,73.6 L313.3,74.2 L314.3,74.8 L315.3,75.4 L316.3,76.1 L317.3,76.8 L318.3,77.5 L319.3,78.2 L320.3,78.9 L321.3,79.7 L322.3,80.4 L323.3,81.2 L324.3,81.9 L325.3,82.7 L326.3,83.6 L327.3,84.4 L328.3,85.2 L329.3,86.1 L330.3,87.0 L331.3,87.8 L332.3,88.7 L333.3,89.6 L334.3,90.5 L335.3,91.4 L336.3,92.3 L337.3,93.3 L338.3,94.3 L339.3,95.4 L340.3,96.5 L341.3,97.6 L342.3,98.8 L343.3,100.1 L344.3,101.4 L345.3,102.7 L346.3,104.0 L347.3,105.4 L348.3,106.8 L349.3,108.2 L350.3,109.7 L351.3,111.1 L352.3,112.6 L353.3,114.2 L354.3,115.7 L355.3,117.3 L356.3,118.9 L357.3,120.6 L358.3,122.3 L359.3,124.0 L360.3,125.8 L361.3,127.5 L362.3,129.4 L363.3,131.2 L364.3,133.1 L365.3,134.9 L366.3,136.8 L367.3,138.7 L368.3,140.6 L369.3,142.5 L370.3,144.4 L371.3,146.3 L372.3,148.2 L373.3,150.1 L374.3,152.1 L375.3,154.0 L376.3,156.0 L377.3,158.0 L378.3,159.9 L379.3,161.9 L380.3,163.9 L381.3,165.8 L382.3,167.8 L383.3,169.8 L384.3,171.7 L385.3,173.7 L386.3,175.7 L387.3,177.7 L388.3,179.7 L389.3,181.6 L390.3,183.7 L391.3,185.7 L392.3,187.7 L393.3,189.7 L394.3,191.7 L395.3,193.8 L396.3,195.8 L397.3,197.8 L398.3,199.8 L399.3,201.8 L400.3,203.8 L401.3,205.7 L402.3,207.6 L403.3,209.4 L404.3,211.2 L405.3,213.0 L406.3,214.7 L407.3,216.4 L408.3,217.9 L409.3,219.4 L410.3,220.8 L411.3,222.2 L412.3,223.5 L413.3,224.9 L414.3,226.2 L415.3,227.5 L416.3,228.7 L417.3,229.8 L418.3,230.8 L419.3,231.6 L420.3,232.2 L421.3,232.7 L422.3,233.1 L423.3,233.5 L424.3,233.9 L425.3,234.3 L426.3,234.6 L427.3,234.8 L428.3,234.9 L429.3,234.8 L430.3,234.6 L431.3,234.4 L432.3,234.1 L433.3,234.0 L434.3,233.8 L435.3,233.6 L436.3,233.5 L437.3,233.3 L438.3,233.1 L439.3,232.8 L440.3,232.4 L441.3,231.3 L442.3,229.6 L443.3,227.2 L444.3,224.6 L444.3,273.9 L443.3,272.1 L442.3,270.6 L441.3,269.8 L440.3,269.6 L439.3,269.8 L438.3,270.0 L437.3,270.3 L436.3,270.4 L435.3,270.6 L434.3,270.7 L433.3,270.7 L432.3,270.7 L431.3,270.7 L430.3,270.5 L429.3,270.3 L428.3,270.0 L427.3,269.5 L426.3,268.8 L425.3,268.0 L424.3,267.0 L423.3,265.8 L422.3,264.5 L421.3,263.2 L420.3,261.7 L419.3,260.0 L418.3,258.3 L417.3,256.6 L416.3,254.9 L415.3,253.4 L414.3,252.0 L413.3,250.7 L412.3,249.4 L411.3,248.2 L410.3,246.9 L409.3,245.7 L408.3,244.3 L407.3,242.9 L406.3,241.4 L405.3,239.8 L404.3,238.2 L403.3,236.5 L402.3,234.9 L401.3,233.1 L400.3,231.3 L399.3,229.5 L398.3,227.6 L397.3,225.7 L396.3,223.8 L395.3,221.7 L394.3,219.7 L393.3,217.6 L392.3,215.4 L391.3,213.3 L390.3,211.0 L389.3,208.8 L388.3,206.6 L387.3,204.3 L386.3,202.0 L385.3,199.7 L384.3,197.5 L383.3,195.2 L382.3,193.0 L381.3,190.8 L380.3,188.6 L379.3,186.4 L378.3,184.3 L377.3,182.1 L376.3,180.0 L375.3,177.8 L374.3,175.7 L373.3,173.6 L372.3,171.5 L371.3,169.5 L370.3,167.4 L369.3,165.4 L368.3,163.3 L367.3,161.3 L366.3,159.2 L365.3,157.2 L364.3,155.1 L363.3,153.1 L362.3,151.1 L361.3,149.1 L360.3,147.1 L359.3,145.1 L358.3,143.1 L357.3,141.2 L356.3,139.2 L355.3,137.3 L354.3,135.4 L353.3,133.6 L352.3,131.7 L351.3,129.9 L350.3,128.1 L349.3,126.3 L348.3,124.6 L347.3,122.8 L346.3,121.2 L345.3,119.5 L344.3,117.9 L343.3,116.4 L342.3,114.9 L341.3,113.5 L340.3,112.2 L339.3,111.0 L338.3,109.8 L337.3,108.6 L336.3,107.5 L335.3,106.5 L334.3,105.4 L333.3,104.4 L332.3,103.4 L331.3,102.4 L330.3,101.4 L329.3,100.5 L328.3,99.5 L327.3,98.6 L326.3,97.7 L325.3,96.8 L324.3,96.0 L323.3,95.1 L322.3,94.3 L321.3,93.6 L320.3,92.8 L319.3,92.1 L318.3,91.4 L317.3,90.7 L316.3,90.0 L315.3,89.3 L314.3,88.7 L313.3,88.1 L312.3,87.5 L311.3,86.9 L310.3,86.3 L309.3,85.8 L308.3,85.3 L307.3,84.8 L306.3,84.3 L305.3,83.9 L304.3,83.4 L303.3,83.0 L302.3,82.6 L301.3,82.2 L300.3,81.8 L299.3,81.4 L298.3,81.1 L297.3,80.7 L296.3,80.4 L295.3,80.0 L294.3,79.7 L293.3,79.3 L292.3,79.0 L291.3,78.7 L290.3,78.3 L289.3,78.0 L288.3,77.7 L287.3,77.4 L286.3,77.1 L285.3,76.8 L284.3,76.5 L283.3,76.1 L282.3,75.8 L281.3,75.5 L280.3,75.2 L279.3,74.9 L278.3,74.5 L277.3,74.2 L276.3,73.8 L275.3,73.5 L274.3,73.1 L273.3,72.7 L272.3,72.3 L271.3,71.9 L270.3,71.5 L269.3,71.0 L268.3,70.6 L267.3,70.2 L266.3,69.8 L265.3,69.4 L264.3,69.0 L263.3,68.6 L262.3,68.3 L261.3,67.9 L260.3,67.6 L259.3,67.3 L258.3,67.0 L257.3,66.7 L256.3,66.4 L255.3,66.1 L254.3,65.9 L253.3,65.7 L252.3,65.4 L251.3,65.2 L250.3,65.0 L249.3,64.7 L248.3,64.4 L247.3,64.2 L246.3,63.9 L245.3,63.6 L244.3,63.2 L243.3,62.9 L242.3,62.6 L241.3,62.2 L240.3,61.9 L239.3,61.6 L238.3,61.3 L237.3,61.0 L236.3,60.7 L235.3,60.4 L234.3,60.1 L233.3,59.8 L232.3,59.5 L231.3,59.2 L230.3,58.9 L229.3,58.7 L228.3,58.4 L227.3,58.1 L226.3,57.9 L225.3,57.6 L224.3,57.4 L223.3,57.1 L222.3,56.9 L221.3,56.6 L220.3,56.4 L219.3,56.2 L218.3,56.0 L217.3,55.8 L216.3,55.6 L215.3,55.4 L214.3,55.2 L213.3,55.0 L212.3,54.8 L211.3,54.6 L210.3,54.5 L209.3,54.3 L208.3,54.1 L207.3,54.0 L206.3,53.8 L205.3,53.6 L204.3,53.5 L203.3,53.3 L202.3,53.1 L201.3,53.0 L200.3,52.8 L199.3,52.6 L198.3,52.5 L197.3,52.3 L196.3,52.2 L195.3,52.0 L194.3,51.8 L193.3,51.7 L192.3,51.5 L191.3,51.3 L190.3,51.2 L189.3,51.0 L188.3,50.9 L187.3,50.7 L186.3,50.6 L185.3,50.4 L184.3,50.2 L183.3,50.1 L182.3,49.9 L181.3,49.8 L180.3,49.7 L179.3,49.5 L178.3,49.4 L177.3,49.2 L176.3,49.1 L175.3,49.0 L174.3,48.9 L173.3,48.7 L172.3,48.6 L171.3,48.5 L170.3,48.4 L169.3,48.3 L168.3,48.2 L167.3,48.0 L166.3,47.9 L165.3,47.8 L164.3,47.7 L163.3,47.6 L162.3,47.4 L161.3,47.3 L160.3,47.2 L159.3,47.0 L158.3,46.9 L157.3,46.7 L156.3,46.5 L155.3,46.3 L154.3,46.1 L153.3,45.9 L152.3,45.7 L151.3,45.5 L150.3,45.3 L149.3,45.0 L148.3,44.8 L147.3,44.6 L146.3,44.4 L145.3,44.2 L144.3,44.0 L143.3,43.8 L142.3,43.6 L141.3,43.5 L140.3,43.4 L139.3,43.3 L138.3,43.2 L137.3,43.1 L136.3,43.0 L135.3,43.0 L134.3,42.9 L133.3,42.9 L132.3,42.8 L131.3,42.8 L130.3,42.7 L129.3,42.7 L128.3,42.6 L127.3,42.6 L126.3,42.6 L125.3,42.5 L124.3,42.5 L123.3,42.5 L122.3,42.5 L121.3,42.4 L120.3,42.4 L119.3,42.4 L118.3,42.4 L117.3,42.4 L116.3,42.4 L115.3,42.4 L114.3,42.4 L113.3,42.4 L112.3,42.4 L111.3,42.4 L110.3,42.4 L109.3,42.4 L108.3,42.5 L107.3,42.5 L106.3,42.6 L105.3,42.6 L104.3,42.7 L103.3,42.8 L102.3,42.8 L101.3,42.9 L100.3,43.0 L99.3,43.1 L98.3,43.2 L97.3,43.3 L96.3,43.4 L95.3,43.5 L94.3,43.6 L93.3,43.7 L92.3,43.8 L91.3,43.9 L90.3,44.0 L89.3,44.1 L88.3,44.3 L87.3,44.4 L86.3,44.5 L85.3,44.6 L84.3,44.8 L83.3,45.0 L82.3,45.3 L81.3,45.6 L80.3,46.0 L79.3,46.4 L78.3,46.9 L77.3,47.4 L76.3,47.9 L75.3,48.4 L74.3,49.0 L73.3,49.7 L72.3,50.4 L71.3,51.2 L70.3,52.0 L69.3,52.7 L68.3,53.5 L67.3,54.3 L66.3,55.1 L65.3,55.9 L64.3,56.6 L63.3,57.2 L62.3,57.8 L61.3,58.3 L60.3,58.9 L59.3,59.4 L58.3,60.0 L57.3,60.5 L56.3,61.0 L55.3,61.4 L54.3,61.9 L53.3,62.3 L52.3,62.7 L51.3,62.9 L50.3,62.9 L49.3,62.7 L48.3,62.5Z" fill="url(#bg)" fill-opacity="1"/>
<path d="M48.3,38.5 L49.3,37.5 L50.3,36.5 L51.3,35.6 L52.3,34.6 L53.3,33.7 L54.3,32.7 L55.3,31.9 L56.3,31.0 L57.3,30.3 L58.3,29.7 L59.3,29.2 L60.3,28.7 L61.3,28.4 L62.3,28.1 L63.3,27.9 L64.3,27.9 L65.3,27.9 L66.3,28.0 L67.3,28.1 L68.3,28.3 L69.3,28.4 L70.3,28.6 L71.3,28.7 L72.3,28.9 L73.3,29.0 L74.3,29.1 L75.3,29.2 L76.3,29.2 L77.3,29.2 L78.3,29.3 L79.3,29.3 L80.3,29.3 L81.3,29.3 L82.3,29.3 L83.3,29.3 L84.3,29.2 L85.3,29.2 L86.3,29.2 L87.3,29.2 L88.3,29.2 L89.3,29.2 L90.3,29.1 L91.3,29.1 L92.3,29.1 L93.3,29.0 L94.3,28.9 L95.3,28.9 L96.3,28.8 L97.3,28.8 L98.3,28.7 L99.3,28.6 L100.3,28.5 L101.3,28.5 L102.3,28.4 L103.3,28.3 L104.3,28.3 L105.3,28.2 L106.3,28.2 L107.3,28.1 L108.3,28.1 L109.3,28.1 L110.3,28.1 L111.3,28.1 L112.3,28.1 L113.3,28.1 L114.3,28.1 L115.3,28.1 L116.3,28.2 L117.3,28.2 L118.3,28.2 L119.3,28.2 L120.3,28.3 L121.3,28.3 L122.3,28.4 L123.3,28.4 L124.3,28.4 L125.3,28.5 L126.3,28.5 L127.3,28.6 L128.3,28.6 L129.3,28.7 L130.3,28.7 L131.3,28.8 L132.3,28.8 L133.3,28.9 L134.3,29.0 L135.3,29.0 L136.3,29.1 L137.3,29.2 L138.3,29.2 L139.3,29.3 L140.3,29.4 L141.3,29.5 L142.3,29.7 L143.3,29.8 L144.3,29.9 L145.3,30.1 L146.3,30.2 L147.3,30.4 L148.3,30.6 L149.3,30.8 L150.3,30.9 L151.3,31.1 L152.3,31.3 L153.3,31.5 L154.3,31.6 L155.3,31.8 L156.3,32.0 L157.3,32.1 L158.3,32.3 L159.3,32.4 L160.3,32.6 L161.3,32.7 L162.3,32.8 L163.3,33.0 L164.3,33.1 L165.3,33.2 L166.3,33.4 L167.3,33.5 L168.3,33.6 L169.3,33.8 L170.3,33.9 L171.3,34.0 L172.3,34.2 L173.3,34.3 L174.3,34.4 L175.3,34.6 L176.3,34.7 L177.3,34.8 L178.3,34.9 L179.3,35.1 L180.3,35.2 L181.3,35.3 L182.3,35.4 L183.3,35.6 L184.3,35.7 L185.3,35.8 L186.3,35.9 L187.3,36.1 L188.3,36.2 L189.3,36.3 L190.3,36.4 L191.3,36.6 L192.3,36.7 L193.3,36.8 L194.3,36.9 L195.3,37.1 L196.3,37.2 L197.3,37.3 L198.3,37.4 L199.3,37.5 L200.3,37.7 L201.3,37.8 L202.3,37.9 L203.3,38.0 L204.3,38.1 L205.3,38.2 L206.3,38.4 L207.3,38.5 L208.3,38.6 L209.3,38.7 L210.3,38.8 L211.3,39.0 L212.3,39.1 L213.3,39.2 L214.3,39.3 L215.3,39.5 L216.3,39.6 L217.3,39.8 L218.3,39.9 L219.3,40.1 L220.3,40.3 L221.3,40.5 L222.3,40.7 L223.3,40.9 L224.3,41.1 L225.3,41.3 L226.3,41.5 L227.3,41.7 L228.3,42.0 L229.3,42.2 L230.3,42.4 L231.3,42.7 L232.3,42.9 L233.3,43.2 L234.3,43.4 L235.3,43.6 L236.3,43.9 L237.3,44.1 L238.3,44.4 L239.3,44.7 L240.3,44.9 L241.3,45.2 L242.3,45.4 L243.3,45.7 L244.3,45.9 L245.3,46.2 L246.3,46.5 L247.3,46.7 L248.3,47.0 L249.3,47.3 L250.3,47.6 L251.3,47.9 L252.3,48.1 L253.3,48.4 L254.3,48.7 L255.3,49.0 L256.3,49.3 L257.3,49.6 L258.3,50.0 L259.3,50.3 L260.3,50.6 L261.3,50.9 L262.3,51.3 L263.3,51.6 L264.3,52.0 L265.3,52.3 L266.3,52.7 L267.3,53.1 L268.3,53.4 L269.3,53.8 L270.3,54.2 L271.3,54.5 L272.3,54.9 L273.3,55.3 L274.3,55.7 L275.3,56.0 L276.3,56.4 L277.3,56.8 L278.3,57.1 L279.3,57.5 L280.3,57.9 L281.3,58.2 L282.3,58.6 L283.3,59.0 L284.3,59.3 L285.3,59.7 L286.3,60.1 L287.3,60.5 L288.3,60.8 L289.3,61.2 L290.3,61.6 L291.3,62.0 L292.3,62.4 L293.3,62.8 L294.3,63.3 L295.3,63.7 L296.3,64.1 L297.3,64.6 L298.3,65.0 L299.3,65.4 L300.3,65.9 L301.3,66.3 L302.3,66.7 L303.3,67.2 L304.3,67.6 L305.3,68.0 L306.3,68.4 L307.3,68.8 L308.3,69.2 L309.3,69.6 L310.3,70.0 L311.3,70.4 L312.3,70.8 L313.3,71.1 L314.3,71.5 L315.3,71.9 L316.3,72.4 L317.3,72.8 L318.3,73.3 L319.3,73.7 L320.3,74.3 L321.3,74.8 L322.3,75.4 L323.3,76.0 L324.3,76.7 L325.3,77.4 L326.3,78.2 L327.3,79.0 L328.3,79.9 L329.3,80.8 L330.3,81.7 L331.3,82.7 L332.3,83.7 L333.3,84.7 L334.3,85.7 L335.3,86.8 L336.3,87.8 L337.3,88.9 L338.3,89.9 L339.3,91.0 L340.3,92.1 L341.3,93.2 L342.3,94.4 L343.3,95.5 L344.3,96.6 L345.3,97.8 L346.3,99.0 L347.3,100.2 L348.3,101.4 L349.3,102.7 L350.3,104.0 L351.3,105.3 L352.3,106.6 L353.3,108.0 L354.3,109.4 L355.3,110.9 L356.3,112.4 L357.3,113.9 L358.3,115.4 L359.3,117.0 L360.3,118.7 L361.3,120.3 L362.3,122.1 L363.3,123.8 L364.3,125.6 L365.3,127.4 L366.3,129.2 L367.3,131.1 L368.3,133.0 L369.3,134.9 L370.3,136.9 L371.3,138.9 L372.3,140.9 L373.3,142.9 L374.3,145.0 L375.3,147.1 L376.3,149.3 L377.3,151.5 L378.3,153.7 L379.3,155.9 L380.3,158.2 L381.3,160.5 L382.3,162.8 L383.3,165.1 L384.3,167.4 L385.3,169.8 L386.3,172.2 L387.3,174.6 L388.3,177.1 L389.3,179.5 L390.3,182.0 L391.3,184.5 L392.3,187.0 L393.3,189.6 L394.3,192.2 L395.3,194.7 L396.3,197.3 L397.3,199.9 L398.3,202.4 L399.3,204.9 L400.3,207.4 L401.3,209.9 L402.3,212.3 L403.3,214.6 L404.3,216.7 L405.3,218.6 L406.3,220.3 L407.3,221.9 L408.3,223.4 L409.3,224.8 L410.3,226.2 L411.3,227.4 L412.3,228.5 L413.3,229.6 L414.3,230.6 L415.3,231.5 L416.3,232.3 L417.3,233.0 L418.3,233.5 L419.3,233.8 L420.3,234.0 L421.3,234.1 L422.3,234.2 L423.3,234.3 L424.3,234.4 L425.3,234.5 L426.3,234.6 L427.3,234.6 L428.3,234.6 L429.3,234.5 L430.3,234.2 L431.3,233.9 L432.3,233.5 L433.3,233.2 L434.3,232.9 L435.3,232.7 L436.3,232.7 L437.3,232.9 L438.3,233.1 L439.3,233.4 L440.3,233.7 L441.3,234.0 L442.3,234.2 L443.3,234.4 L444.3,234.4 L444.3,256.4 L443.3,254.4 L442.3,252.6 L441.3,251.2 L440.3,250.3 L439.3,249.9 L438.3,249.6 L437.3,249.4 L436.3,249.2 L435.3,249.2 L434.3,249.4 L433.3,249.6 L432.3,249.9 L431.3,250.1 L430.3,250.3 L429.3,250.4 L428.3,250.3 L427.3,250.1 L426.3,249.9 L425.3,249.6 L424.3,249.2 L423.3,248.8 L422.3,248.3 L421.3,247.7 L420.3,247.1 L419.3,246.5 L418.3,245.7 L417.3,244.9 L416.3,244.0 L415.3,243.1 L414.3,242.1 L413.3,241.1 L412.3,240.1 L411.3,239.0 L410.3,237.8 L409.3,236.6 L408.3,235.2 L407.3,233.8 L406.3,232.2 L405.3,230.6 L404.3,228.7 L403.3,226.7 L402.3,224.5 L401.3,222.1 L400.3,219.7 L399.3,217.3 L398.3,214.8 L397.3,212.3 L396.3,209.8 L395.3,207.2 L394.3,204.6 L393.3,202.0 L392.3,199.4 L391.3,196.8 L390.3,194.2 L389.3,191.6 L388.3,189.1 L387.3,186.5 L386.3,184.0 L385.3,181.4 L384.3,178.9 L383.3,176.5 L382.3,174.0 L381.3,171.6 L380.3,169.2 L379.3,166.9 L378.3,164.5 L377.3,162.3 L376.3,160.0 L375.3,157.8 L374.3,155.6 L373.3,153.4 L372.3,151.3 L371.3,149.2 L370.3,147.2 L369.3,145.1 L368.3,143.1 L367.3,141.2 L366.3,139.2 L365.3,137.3 L364.3,135.4 L363.3,133.6 L362.3,131.8 L361.3,130.0 L360.3,128.2 L359.3,126.5 L358.3,124.8 L357.3,123.1 L356.3,121.4 L355.3,119.8 L354.3,118.2 L353.3,116.7 L352.3,115.2 L351.3,113.7 L350.3,112.2 L349.3,110.8 L348.3,109.3 L347.3,108.0 L346.3,106.6 L345.3,105.3 L344.3,104.0 L343.3,102.8 L342.3,101.5 L341.3,100.3 L340.3,99.1 L339.3,98.0 L338.3,96.8 L337.3,95.7 L336.3,94.6 L335.3,93.5 L334.3,92.4 L333.3,91.3 L332.3,90.2 L331.3,89.2 L330.3,88.2 L329.3,87.2 L328.3,86.2 L327.3,85.3 L326.3,84.5 L325.3,83.7 L324.3,82.9 L323.3,82.3 L322.3,81.6 L321.3,81.0 L320.3,80.5 L319.3,79.9 L318.3,79.5 L317.3,79.0 L316.3,78.6 L315.3,78.1 L314.3,77.7 L313.3,77.3 L312.3,77.0 L311.3,76.6 L310.3,76.2 L309.3,75.8 L308.3,75.4 L307.3,75.0 L306.3,74.6 L305.3,74.2 L304.3,73.8 L303.3,73.4 L302.3,72.9 L301.3,72.5 L300.3,72.1 L299.3,71.6 L298.3,71.2 L297.3,70.8 L296.3,70.3 L295.3,69.9 L294.3,69.5 L293.3,69.1 L292.3,68.6 L291.3,68.2 L290.3,67.8 L289.3,67.5 L288.3,67.1 L287.3,66.7 L286.3,66.3 L285.3,66.0 L284.3,65.6 L283.3,65.2 L282.3,64.9 L281.3,64.5 L280.3,64.2 L279.3,63.8 L278.3,63.5 L277.3,63.1 L276.3,62.7 L275.3,62.4 L274.3,62.0 L273.3,61.6 L272.3,61.3 L271.3,60.9 L270.3,60.6 L269.3,60.2 L268.3,59.8 L267.3,59.5 L266.3,59.1 L265.3,58.8 L264.3,58.4 L263.3,58.1 L262.3,57.7 L261.3,57.4 L260.3,57.1 L259.3,56.8 L258.3,56.5 L257.3,56.2 L256.3,55.9 L255.3,55.6 L254.3,55.3 L253.3,55.0 L252.3,54.7 L251.3,54.5 L250.3,54.2 L249.3,53.9 L248.3,53.7 L247.3,53.4 L246.3,53.2 L245.3,52.9 L244.3,52.7 L243.3,52.4 L242.3,52.2 L241.3,52.0 L240.3,51.7 L239.3,51.5 L238.3,51.3 L237.3,51.0 L236.3,50.8 L235.3,50.6 L234.3,50.3 L233.3,50.1 L232.3,49.9 L231.3,49.7 L230.3,49.5 L229.3,49.2 L228.3,49.0 L227.3,48.8 L226.3,48.6 L225.3,48.4 L224.3,48.2 L223.3,48.1 L222.3,47.9 L221.3,47.7 L220.3,47.5 L219.3,47.4 L218.3,47.2 L217.3,47.1 L216.3,47.0 L215.3,46.8 L214.3,46.7 L213.3,46.6 L212.3,46.5 L211.3,46.4 L210.3,46.3 L209.3,46.2 L208.3,46.1 L207.3,46.0 L206.3,45.9 L205.3,45.8 L204.3,45.7 L203.3,45.6 L202.3,45.5 L201.3,45.4 L200.3,45.3 L199.3,45.1 L198.3,45.0 L197.3,44.9 L196.3,44.8 L195.3,44.7 L194.3,44.6 L193.3,44.5 L192.3,44.4 L191.3,44.3 L190.3,44.1 L189.3,44.0 L188.3,43.9 L187.3,43.8 L186.3,43.7 L185.3,43.6 L184.3,43.4 L183.3,43.3 L182.3,43.2 L181.3,43.1 L180.3,43.0 L179.3,42.9 L178.3,42.7 L177.3,42.6 L176.3,42.5 L175.3,42.4 L174.3,42.2 L173.3,42.1 L172.3,42.0 L171.3,41.9 L170.3,41.7 L169.3,41.6 L168.3,41.5 L167.3,41.4 L166.3,41.2 L165.3,41.1 L164.3,41.0 L163.3,40.9 L162.3,40.7 L161.3,40.6 L160.3,40.5 L159.3,40.3 L158.3,40.2 L157.3,40.0 L156.3,39.9 L155.3,39.7 L154.3,39.6 L153.3,39.4 L152.3,39.2 L151.3,39.1 L150.3,38.9 L149.3,38.7 L148.3,38.5 L147.3,38.4 L146.3,38.2 L145.3,38.1 L144.3,37.9 L143.3,37.8 L142.3,37.7 L141.3,37.5 L140.3,37.4 L139.3,37.3 L138.3,37.3 L137.3,37.2 L136.3,37.1 L135.3,37.1 L134.3,37.0 L133.3,37.0 L132.3,36.9 L131.3,36.9 L130.3,36.8 L129.3,36.8 L128.3,36.7 L127.3,36.7 L126.3,36.7 L125.3,36.6 L124.3,36.6 L123.3,36.5 L122.3,36.5 L121.3,36.5 L120.3,36.5 L119.3,36.4 L118.3,36.4 L117.3,36.4 L116.3,36.4 L115.3,36.4 L114.3,36.4 L113.3,36.4 L112.3,36.4 L111.3,36.4 L110.3,36.4 L109.3,36.4 L108.3,36.4 L107.3,36.5 L106.3,36.5 L105.3,36.6 L104.3,36.6 L103.3,36.7 L102.3,36.8 L101.3,36.9 L100.3,37.0 L99.3,37.1 L98.3,37.2 L97.3,37.3 L96.3,37.4 L95.3,37.5 L94.3,37.6 L93.3,37.7 L92.3,37.8 L91.3,37.8 L90.3,37.9 L89.3,38.0 L88.3,38.0 L87.3,38.1 L86.3,38.2 L85.3,38.2 L84.3,38.3 L83.3,38.3 L82.3,38.4 L81.3,38.5 L80.3,38.6 L79.3,38.7 L78.3,38.8 L77.3,38.9 L76.3,39.0 L75.3,39.2 L74.3,39.3 L73.3,39.6 L72.3,39.9 L71.3,40.2 L70.3,40.5 L69.3,40.8 L68.3,41.2 L67.3,41.5 L66.3,42.0 L65.3,42.4 L64.3,42.9 L63.3,43.3 L62.3,43.7 L61.3,44.1 L60.3,44.6 L59.3,45.1 L58.3,45.6 L57.3,46.2 L56.3,46.7 L55.3,47.2 L54.3,47.8 L53.3,48.3 L52.3,48.8 L51.3,49.3 L50.3,49.8 L49.3,50.3 L48.3,50.7Z" fill="url(#bg)" fill-opacity="1"/>
<path d="M48.3,38.6 L49.3,36.8 L50.3,35.0 L51.3,33.3 L52.3,31.7 L53.3,30.2 L54.3,28.9 L55.3,27.7 L56.3,26.7 L57.3,25.8 L58.3,25.2 L59.3,24.6 L60.3,24.2 L61.3,23.9 L62.3,23.7 L63.3,23.6 L64.3,23.7 L65.3,23.8 L66.3,24.1 L67.3,24.5 L68.3,24.8 L69.3,25.1 L70.3,25.4 L71.3,25.7 L72.3,26.0 L73.3,26.3 L74.3,26.5 L75.3,26.7 L76.3,26.8 L77.3,26.9 L78.3,26.9 L79.3,26.9 L80.3,27.0 L81.3,27.0 L82.3,27.0 L83.3,27.0 L84.3,27.0 L85.3,27.0 L86.3,27.0 L87.3,26.9 L88.3,26.9 L89.3,26.9 L90.3,26.9 L91.3,26.8 L92.3,26.8 L93.3,26.8 L94.3,26.7 L95.3,26.7 L96.3,26.6 L97.3,26.6 L98.3,26.5 L99.3,26.5 L100.3,26.4 L101.3,26.4 L102.3,26.3 L103.3,26.3 L104.3,26.3 L105.3,26.2 L106.3,26.2 L107.3,26.2 L108.3,26.2 L109.3,26.2 L110.3,26.2 L111.3,26.2 L112.3,26.2 L113.3,26.2 L114.3,26.2 L115.3,26.3 L116.3,26.3 L117.3,26.3 L118.3,26.3 L119.3,26.4 L120.3,26.4 L121.3,26.5 L122.3,26.5 L123.3,26.5 L124.3,26.6 L125.3,26.6 L126.3,26.7 L127.3,26.7 L128.3,26.8 L129.3,26.8 L130.3,26.9 L131.3,27.0 L132.3,27.0 L133.3,27.1 L134.3,27.1 L135.3,27.2 L136.3,27.3 L137.3,27.4 L138.3,27.5 L139.3,27.6 L140.3,27.7 L141.3,27.8 L142.3,28.0 L143.3,28.2 L144.3,28.4 L145.3,28.6 L146.3,28.8 L147.3,29.0 L148.3,29.3 L149.3,29.5 L150.3,29.8 L151.3,30.0 L152.3,30.3 L153.3,30.5 L154.3,30.7 L155.3,30.9 L156.3,31.1 L157.3,31.3 L158.3,31.5 L159.3,31.7 L160.3,31.8 L161.3,32.0 L162.3,32.1 L163.3,32.2 L164.3,32.4 L165.3,32.5 L166.3,32.6 L167.3,32.8 L168.3,32.9 L169.3,33.0 L170.3,33.1 L171.3,33.3 L172.3,33.4 L173.3,33.5 L174.3,33.7 L175.3,33.8 L176.3,33.9 L177.3,34.1 L178.3,34.2 L179.3,34.4 L180.3,34.5 L181.3,34.7 L182.3,34.9 L183.3,35.0 L184.3,35.2 L185.3,35.4 L186.3,35.6 L187.3,35.7 L188.3,35.9 L189.3,36.1 L190.3,36.3 L191.3,36.5 L192.3,36.6 L193.3,36.8 L194.3,37.0 L195.3,37.2 L196.3,37.4 L197.3,37.6 L198.3,37.8 L199.3,38.0 L200.3,38.2 L201.3,38.4 L202.3,38.6 L203.3,38.8 L204.3,38.9 L205.3,39.1 L206.3,39.4 L207.3,39.6 L208.3,39.8 L209.3,40.0 L210.3,40.2 L211.3,40.4 L212.3,40.6 L213.3,40.9 L214.3,41.1 L215.3,41.3 L216.3,41.6 L217.3,41.8 L218.3,42.1 L219.3,42.3 L220.3,42.6 L221.3,42.9 L222.3,43.2 L223.3,43.5 L224.3,43.7 L225.3,44.1 L226.3,44.4 L227.3,44.7 L228.3,45.0 L229.3,45.3 L230.3,45.6 L231.3,46.0 L232.3,46.3 L233.3,46.6 L234.3,47.0 L235.3,47.3 L236.3,47.7 L237.3,48.0 L238.3,48.4 L239.3,48.8 L240.3,49.1 L241.3,49.5 L242.3,49.9 L243.3,50.3 L244.3,50.7 L245.3,51.0 L246.3,51.4 L247.3,51.7 L248.3,52.0 L249.3,52.3 L250.3,52.6 L251.3,52.9 L252.3,53.2 L253.3,53.4 L254.3,53.7 L255.3,54.0 L256.3,54.2 L257.3,54.5 L258.3,54.8 L259.3,55.2 L260.3,55.5 L261.3,55.9 L262.3,56.2 L263.3,56.6 L264.3,57.0 L265.3,57.5 L266.3,57.9 L267.3,58.3 L268.3,58.8 L269.3,59.2 L270.3,59.6 L271.3,60.1 L272.3,60.5 L273.3,60.9 L274.3,61.3 L275.3,61.8 L276.3,62.1 L277.3,62.5 L278.3,62.9 L279.3,63.2 L280.3,63.6 L281.3,63.9 L282.3,64.2 L283.3,64.6 L284.3,64.9 L285.3,65.2 L286.3,65.5 L287.3,65.8 L288.3,66.2 L289.3,66.5 L290.3,66.8 L291.3,67.1 L292.3,67.5 L293.3,67.8 L294.3,68.1 L295.3,68.5 L296.3,68.8 L297.3,69.2 L298.3,69.5 L299.3,69.9 L300.3,70.2 L301.3,70.6 L302.3,71.0 L303.3,71.4 L304.3,71.8 L305.3,72.3 L306.3,72.7 L307.3,73.2 L308.3,73.7 L309.3,74.2 L310.3,74.7 L311.3,75.3 L312.3,75.9 L313.3,76.5 L314.3,77.2 L315.3,77.8 L316.3,78.5 L317.3,79.2 L318.3,80.0 L319.3,80.7 L320.3,81.4 L321.3,82.2 L322.3,83.0 L323.3,83.8 L324.3,84.6 L325.3,85.4 L326.3,86.2 L327.3,87.0 L328.3,87.9 L329.3,88.8 L330.3,89.7 L331.3,90.5 L332.3,91.4 L333.3,92.3 L334.3,93.2 L335.3,94.2 L336.3,95.1 L337.3,96.1 L338.3,97.1 L339.3,98.2 L340.3,99.3 L341.3,100.5 L342.3,101.7 L343.3,103.0 L344.3,104.4 L345.3,105.8 L346.3,107.2 L347.3,108.6 L348.3,110.1 L349.3,111.6 L350.3,113.1 L351.3,114.6 L352.3,116.2 L353.3,117.8 L354.3,119.4 L355.3,121.0 L356.3,122.7 L357.3,124.4 L358.3,126.2 L359.3,128.0 L360.3,129.8 L361.3,131.6 L362.3,133.5 L363.3,135.3 L364.3,137.2 L365.3,139.1 L366.3,141.0 L367.3,142.9 L368.3,144.8 L369.3,146.8 L370.3,148.7 L371.3,150.6 L372.3,152.5 L373.3,154.5 L374.3,156.4 L375.3,158.4 L376.3,160.4 L377.3,162.3 L378.3,164.3 L379.3,166.3 L380.3,168.2 L381.3,170.2 L382.3,172.2 L383.3,174.2 L384.3,176.1 L385.3,178.1 L386.3,180.1 L387.3,182.0 L388.3,184.0 L389.3,186.0 L390.3,188.0 L391.3,190.0 L392.3,191.9 L393.3,193.9 L394.3,195.9 L395.3,197.9 L396.3,199.9 L397.3,201.8 L398.3,203.8 L399.3,205.7 L400.3,207.6 L401.3,209.4 L402.3,211.2 L403.3,213.0 L404.3,214.7 L405.3,216.3 L406.3,217.9 L407.3,219.5 L408.3,220.9 L409.3,222.4 L410.3,223.7 L411.3,224.9 L412.3,226.1 L413.3,227.1 L414.3,228.1 L415.3,228.9 L416.3,229.5 L417.3,229.9 L418.3,230.2 L419.3,230.4 L420.3,230.4 L421.3,230.4 L422.3,230.4 L423.3,230.3 L424.3,230.3 L425.3,230.2 L426.3,230.2 L427.3,230.2 L428.3,230.1 L429.3,230.0 L430.3,229.8 L431.3,229.7 L432.3,229.6 L433.3,229.4 L434.3,229.4 L435.3,229.3 L436.3,229.4 L437.3,229.4 L438.3,229.6 L439.3,229.8 L440.3,229.9 L441.3,229.8 L442.3,229.2 L443.3,228.1 L444.3,226.9 L444.3,264.3 L443.3,262.2 L442.3,260.3 L441.3,259.0 L440.3,258.2 L439.3,257.8 L438.3,257.6 L437.3,257.5 L436.3,257.4 L435.3,257.4 L434.3,257.4 L433.3,257.3 L432.3,257.3 L431.3,257.2 L430.3,257.1 L429.3,257.0 L428.3,256.7 L427.3,256.5 L426.3,256.2 L425.3,255.8 L424.3,255.4 L423.3,254.9 L422.3,254.2 L421.3,253.5 L420.3,252.7 L419.3,251.9 L418.3,251.1 L417.3,250.2 L416.3,249.4 L415.3,248.5 L414.3,247.6 L413.3,246.7 L412.3,245.7 L411.3,244.7 L410.3,243.5 L409.3,242.3 L408.3,241.0 L407.3,239.6 L406.3,238.2 L405.3,236.7 L404.3,235.1 L403.3,233.5 L402.3,231.9 L401.3,230.2 L400.3,228.5 L399.3,226.7 L398.3,224.9 L397.3,223.0 L396.3,221.1 L395.3,219.1 L394.3,217.1 L393.3,215.1 L392.3,213.0 L391.3,210.9 L390.3,208.8 L389.3,206.6 L388.3,204.4 L387.3,202.2 L386.3,200.0 L385.3,197.8 L384.3,195.7 L383.3,193.5 L382.3,191.3 L381.3,189.1 L380.3,187.0 L379.3,184.9 L378.3,182.8 L377.3,180.7 L376.3,178.6 L375.3,176.5 L374.3,174.4 L373.3,172.3 L372.3,170.3 L371.3,168.2 L370.3,166.2 L369.3,164.1 L368.3,162.1 L367.3,160.1 L366.3,158.0 L365.3,156.0 L364.3,154.0 L363.3,152.0 L362.3,150.0 L361.3,148.0 L360.3,146.0 L359.3,144.0 L358.3,142.0 L357.3,140.1 L356.3,138.1 L355.3,136.2 L354.3,134.4 L353.3,132.5 L352.3,130.7 L351.3,128.8 L350.3,127.0 L349.3,125.3 L348.3,123.6 L347.3,121.9 L346.3,120.2 L345.3,118.5 L344.3,117.0 L343.3,115.4 L342.3,114.0 L341.3,112.6 L340.3,111.3 L339.3,110.0 L338.3,108.8 L337.3,107.7 L336.3,106.6 L335.3,105.6 L334.3,104.6 L333.3,103.6 L332.3,102.6 L331.3,101.6 L330.3,100.6 L329.3,99.7 L328.3,98.8 L327.3,97.8 L326.3,96.9 L325.3,96.0 L324.3,95.2 L323.3,94.4 L322.3,93.5 L321.3,92.8 L320.3,92.0 L319.3,91.2 L318.3,90.5 L317.3,89.8 L316.3,89.1 L315.3,88.4 L314.3,87.7 L313.3,87.1 L312.3,86.4 L311.3,85.9 L310.3,85.3 L309.3,84.7 L308.3,84.2 L307.3,83.7 L306.3,83.3 L305.3,82.8 L304.3,82.4 L303.3,81.9 L302.3,81.5 L301.3,81.2 L300.3,80.8 L299.3,80.4 L298.3,80.1 L297.3,79.7 L296.3,79.4 L295.3,79.0 L294.3,78.7 L293.3,78.4 L292.3,78.0 L291.3,77.7 L290.3,77.4 L289.3,77.1 L288.3,76.8 L287.3,76.5 L286.3,76.1 L285.3,75.8 L284.3,75.5 L283.3,75.2 L282.3,74.9 L281.3,74.6 L280.3,74.3 L279.3,74.0 L278.3,73.6 L277.3,73.3 L276.3,72.9 L275.3,72.5 L274.3,72.1 L273.3,71.7 L272.3,71.3 L271.3,70.9 L270.3,70.5 L269.3,70.1 L268.3,69.7 L267.3,69.2 L266.3,68.8 L265.3,68.4 L264.3,68.0 L263.3,67.6 L262.3,67.2 L261.3,66.9 L260.3,66.5 L259.3,66.2 L258.3,65.9 L257.3,65.6 L256.3,65.4 L255.3,65.1 L254.3,64.9 L253.3,64.6 L252.3,64.4 L251.3,64.1 L250.3,63.9 L249.3,63.6 L248.3,63.4 L247.3,63.1 L246.3,62.8 L245.3,62.5 L244.3,62.1 L243.3,61.8 L242.3,61.4 L241.3,61.1 L240.3,60.7 L239.3,60.4 L238.3,60.1 L237.3,59.7 L236.3,59.4 L235.3,59.1 L234.3,58.8 L233.3,58.5 L232.3,58.2 L231.3,57.9 L230.3,57.6 L229.3,57.3 L228.3,57.0 L227.3,56.7 L226.3,56.5 L225.3,56.2 L224.3,55.9 L223.3,55.7 L222.3,55.4 L221.3,55.2 L220.3,54.9 L219.3,54.7 L218.3,54.5 L217.3,54.3 L216.3,54.0 L215.3,53.8 L214.3,53.6 L213.3,53.4 L212.3,53.2 L211.3,53.0 L210.3,52.9 L209.3,52.7 L208.3,52.5 L207.3,52.3 L206.3,52.1 L205.3,52.0 L204.3,51.8 L203.3,51.6 L202.3,51.4 L201.3,51.3 L200.3,51.1 L199.3,50.9 L198.3,50.7 L197.3,50.6 L196.3,50.4 L195.3,50.2 L194.3,50.0 L193.3,49.9 L192.3,49.7 L191.3,49.5 L190.3,49.4 L189.3,49.2 L188.3,49.0 L187.3,48.9 L186.3,48.7 L185.3,48.5 L184.3,48.4 L183.3,48.2 L182.3,48.1 L181.3,47.9 L180.3,47.8 L179.3,47.6 L178.3,47.5 L177.3,47.3 L176.3,47.2 L175.3,47.1 L174.3,46.9 L173.3,46.8 L172.3,46.7 L171.3,46.6 L170.3,46.5 L169.3,46.3 L168.3,46.2 L167.3,46.1 L166.3,46.0 L165.3,45.9 L164.3,45.8 L163.3,45.6 L162.3,45.5 L161.3,45.4 L160.3,45.2 L159.3,45.1 L158.3,44.9 L157.3,44.8 L156.3,44.6 L155.3,44.4 L154.3,44.2 L153.3,44.0 L152.3,43.7 L151.3,43.5 L150.3,43.3 L149.3,43.1 L148.3,42.8 L147.3,42.6 L146.3,42.4 L145.3,42.2 L144.3,42.0 L143.3,41.8 L142.3,41.6 L141.3,41.4 L140.3,41.3 L139.3,41.2 L138.3,41.1 L137.3,41.0 L136.3,40.9 L135.3,40.9 L134.3,40.8 L133.3,40.8 L132.3,40.7 L131.3,40.7 L130.3,40.6 L129.3,40.6 L128.3,40.6 L127.3,40.5 L126.3,40.5 L125.3,40.4 L124.3,40.4 L123.3,40.4 L122.3,40.4 L121.3,40.3 L120.3,40.3 L119.3,40.3 L118.3,40.3 L117.3,40.3 L116.3,40.3 L115.3,40.3 L114.3,40.2 L113.3,40.2 L112.3,40.3 L111.3,40.3 L110.3,40.3 L109.3,40.3 L108.3,40.3 L107.3,40.4 L106.3,40.4 L105.3,40.5 L104.3,40.5 L103.3,40.6 L102.3,40.7 L101.3,40.8 L100.3,40.9 L99.3,40.9 L98.3,41.0 L97.3,41.1 L96.3,41.2 L95.3,41.3 L94.3,41.4 L93.3,41.5 L92.3,41.6 L91.3,41.7 L90.3,41.8 L89.3,41.9 L88.3,42.0 L87.3,42.1 L86.3,42.2 L85.3,42.2 L84.3,42.3 L83.3,42.4 L82.3,42.6 L81.3,42.7 L80.3,42.8 L79.3,42.9 L78.3,43.1 L77.3,43.2 L76.3,43.4 L75.3,43.7 L74.3,43.9 L73.3,44.3 L72.3,44.7 L71.3,45.2 L70.3,45.7 L69.3,46.1 L68.3,46.7 L67.3,47.2 L66.3,47.9 L65.3,48.5 L64.3,49.1 L63.3,49.7 L62.3,50.2 L61.3,50.7 L60.3,51.2 L59.3,51.7 L58.3,52.3 L57.3,52.8 L56.3,53.3 L55.3,53.8 L54.3,54.4 L53.3,55.1 L52.3,55.8 L51.3,56.6 L50.3,57.5 L49.3,58.4 L48.3,59.4Z" fill="url(#bg)" fill-opacity="1"/>
<path d="M48.3,32.4 L49.3,31.2 L50.3,29.9 L51.3,28.7 L52.3,27.5 L53.3,26.4 L54.3,25.2 L55.3,24.2 L56.3,23.2 L57.3,22.4 L58.3,21.7 L59.3,21.2 L60.3,20.8 L61.3,20.5 L62.3,20.3 L63.3,20.3 L64.3,20.4 L65.3,20.7 L66.3,21.0 L67.3,21.4 L68.3,21.8 L69.3,22.2 L70.3,22.6 L71.3,23.0 L72.3,23.4 L73.3,23.7 L74.3,24.0 L75.3,24.2 L76.3,24.3 L77.3,24.4 L78.3,24.5 L79.3,24.6 L80.3,24.6 L81.3,24.6 L82.3,24.7 L83.3,24.7 L84.3,24.7 L85.3,24.7 L86.3,24.7 L87.3,24.8 L88.3,24.8 L89.3,24.7 L90.3,24.7 L91.3,24.7 L92.3,24.7 L93.3,24.7 L94.3,24.6 L95.3,24.6 L96.3,24.5 L97.3,24.5 L98.3,24.4 L99.3,24.4 L100.3,24.3 L101.3,24.2 L102.3,24.2 L103.3,24.1 L104.3,24.1 L105.3,24.0 L106.3,24.0 L107.3,24.0 L108.3,23.9 L109.3,23.9 L110.3,23.9 L111.3,23.9 L112.3,24.0 L113.3,24.0 L114.3,24.0 L115.3,24.0 L116.3,24.1 L117.3,24.1 L118.3,24.1 L119.3,24.2 L120.3,24.2 L121.3,24.2 L122.3,24.3 L123.3,24.3 L124.3,24.4 L125.3,24.4 L126.3,24.5 L127.3,24.5 L128.3,24.6 L129.3,24.6 L130.3,24.7 L131.3,24.8 L132.3,24.8 L133.3,24.9 L134.3,24.9 L135.3,25.0 L136.3,25.1 L137.3,25.1 L138.3,25.2 L139.3,25.3 L140.3,25.4 L141.3,25.5 L142.3,25.7 L143.3,25.8 L144.3,25.9 L145.3,26.1 L146.3,26.3 L147.3,26.4 L148.3,26.6 L149.3,26.8 L150.3,27.0 L151.3,27.1 L152.3,27.3 L153.3,27.5 L154.3,27.7 L155.3,27.8 L156.3,28.0 L157.3,28.2 L158.3,28.3 L159.3,28.5 L160.3,28.6 L161.3,28.8 L162.3,28.9 L163.3,29.0 L164.3,29.2 L165.3,29.3 L166.3,29.5 L167.3,29.6 L168.3,29.7 L169.3,29.9 L170.3,30.0 L171.3,30.1 L172.3,30.3 L173.3,30.4 L174.3,30.5 L175.3,30.7 L176.3,30.8 L177.3,30.9 L178.3,31.0 L179.3,31.2 L180.3,31.3 L181.3,31.4 L182.3,31.6 L183.3,31.7 L184.3,31.8 L185.3,32.0 L186.3,32.1 L187.3,32.2 L188.3,32.3 L189.3,32.5 L190.3,32.6 L191.3,32.7 L192.3,32.8 L193.3,33.0 L194.3,33.1 L195.3,33.2 L196.3,33.4 L197.3,33.5 L198.3,33.6 L199.3,33.7 L200.3,33.9 L201.3,34.0 L202.3,34.1 L203.3,34.2 L204.3,34.3 L205.3,34.5 L206.3,34.6 L207.3,34.7 L208.3,34.8 L209.3,35.0 L210.3,35.1 L211.3,35.2 L212.3,35.4 L213.3,35.5 L214.3,35.7 L215.3,35.8 L216.3,36.0 L217.3,36.1 L218.3,36.3 L219.3,36.5 L220.3,36.7 L221.3,36.9 L222.3,37.1 L223.3,37.3 L224.3,37.5 L225.3,37.7 L226.3,37.9 L227.3,38.2 L228.3,38.4 L229.3,38.7 L230.3,38.9 L231.3,39.2 L232.3,39.4 L233.3,39.7 L234.3,39.9 L235.3,40.2 L236.3,40.4 L237.3,40.7 L238.3,41.0 L239.3,41.2 L240.3,41.5 L241.3,41.8 L242.3,42.0 L243.3,42.3 L244.3,42.6 L245.3,42.8 L246.3,43.1 L247.3,43.4 L248.3,43.7 L249.3,44.0 L250.3,44.3 L251.3,44.5 L252.3,44.8 L253.3,45.1 L254.3,45.4 L255.3,45.8 L256.3,46.1 L257.3,46.4 L258.3,46.7 L259.3,47.0 L260.3,47.4 L261.3,47.7 L262.3,48.0 L263.3,48.4 L264.3,48.7 L265.3,49.1 L266.3,49.5 L267.3,49.8 L268.3,50.2 L269.3,50.6 L270.3,51.0 L271.3,51.3 L272.3,51.7 L273.3,52.1 L274.3,52.5 L275.3,52.9 L276.3,53.2 L277.3,53.6 L278.3,54.0 L279.3,54.4 L280.3,54.7 L281.3,55.1 L282.3,55.5 L283.3,55.8 L284.3,56.2 L285.3,56.6 L286.3,57.0 L287.3,57.3 L288.3,57.7 L289.3,58.1 L290.3,58.5 L291.3,58.9 L292.3,59.4 L293.3,59.8 L294.3,60.2 L295.3,60.7 L296.3,61.1 L297.3,61.5 L298.3,62.0 L299.3,62.5 L300.3,62.9 L301.3,63.4 L302.3,63.8 L303.3,64.3 L304.3,64.8 L305.3,65.2 L306.3,65.7 L307.3,66.1 L308.3,66.5 L309.3,67.0 L310.3,67.4 L311.3,67.8 L312.3,68.3 L313.3,68.7 L314.3,69.1 L315.3,69.6 L316.3,70.1 L317.3,70.5 L318.3,71.0 L319.3,71.5 L320.3,72.0 L321.3,72.6 L322.3,73.2 L323.3,73.8 L324.3,74.4 L325.3,75.1 L326.3,75.9 L327.3,76.6 L328.3,77.4 L329.3,78.3 L330.3,79.2 L331.3,80.1 L332.3,81.0 L333.3,81.9 L334.3,82.9 L335.3,83.8 L336.3,84.8 L337.3,85.8 L338.3,86.8 L339.3,87.8 L340.3,88.9 L341.3,89.9 L342.3,90.9 L343.3,92.0 L344.3,93.1 L345.3,94.2 L346.3,95.3 L347.3,96.4 L348.3,97.5 L349.3,98.7 L350.3,99.9 L351.3,101.1 L352.3,102.4 L353.3,103.7 L354.3,105.1 L355.3,106.4 L356.3,107.8 L357.3,109.3 L358.3,110.8 L359.3,112.3 L360.3,113.9 L361.3,115.5 L362.3,117.2 L363.3,118.9 L364.3,120.6 L365.3,122.4 L366.3,124.2 L367.3,126.0 L368.3,127.9 L369.3,129.8 L370.3,131.7 L371.3,133.7 L372.3,135.7 L373.3,137.7 L374.3,139.7 L375.3,141.8 L376.3,143.9 L377.3,146.1 L378.3,148.3 L379.3,150.4 L380.3,152.7 L381.3,154.9 L382.3,157.1 L383.3,159.4 L384.3,161.7 L385.3,164.0 L386.3,166.3 L387.3,168.7 L388.3,171.1 L389.3,173.5 L390.3,175.9 L391.3,178.4 L392.3,180.8 L393.3,183.4 L394.3,185.9 L395.3,188.5 L396.3,191.1 L397.3,193.6 L398.3,196.2 L399.3,198.8 L400.3,201.3 L401.3,203.8 L402.3,206.2 L403.3,208.6 L404.3,210.9 L405.3,213.2 L406.3,215.4 L407.3,217.5 L408.3,219.6 L409.3,221.5 L410.3,223.5 L411.3,225.3 L412.3,227.1 L413.3,228.8 L414.3,230.4 L415.3,232.0 L416.3,233.3 L417.3,234.5 L418.3,235.5 L419.3,236.4 L420.3,237.2 L421.3,237.8 L422.3,238.4 L423.3,238.9 L424.3,239.4 L425.3,239.9 L426.3,240.3 L427.3,240.6 L428.3,240.9 L429.3,241.1 L430.3,241.2 L431.3,241.2 L432.3,241.2 L433.3,241.1 L434.3,240.9 L435.3,240.7 L436.3,240.4 L437.3,240.1 L438.3,239.8 L439.3,239.4 L440.3,238.9 L441.3,237.9 L442.3,236.3 L443.3,234.1 L444.3,231.7 L444.3,275.7 L443.3,274.2 L442.3,273.0 L441.3,272.2 L440.3,272.1 L439.3,272.4 L438.3,272.8 L437.3,273.1 L436.3,273.4 L435.3,273.7 L434.3,273.8 L433.3,273.9 L432.3,273.8 L431.3,273.6 L430.3,273.3 L429.3,272.8 L428.3,272.3 L427.3,271.6 L426.3,270.8 L425.3,270.0 L424.3,269.0 L423.3,267.8 L422.3,266.5 L421.3,265.0 L420.3,263.4 L419.3,261.8 L418.3,260.1 L417.3,258.4 L416.3,256.7 L415.3,255.1 L414.3,253.5 L413.3,251.9 L412.3,250.2 L411.3,248.5 L410.3,246.8 L409.3,245.0 L408.3,243.2 L407.3,241.2 L406.3,239.2 L405.3,237.2 L404.3,235.0 L403.3,232.8 L402.3,230.6 L401.3,228.3 L400.3,225.9 L399.3,223.5 L398.3,221.0 L397.3,218.5 L396.3,216.0 L395.3,213.5 L394.3,210.9 L393.3,208.3 L392.3,205.6 L391.3,203.0 L390.3,200.4 L389.3,197.7 L388.3,195.1 L387.3,192.4 L386.3,189.8 L385.3,187.2 L384.3,184.7 L383.3,182.1 L382.3,179.6 L381.3,177.2 L380.3,174.7 L379.3,172.3 L378.3,170.0 L377.3,167.6 L376.3,165.4 L375.3,163.1 L374.3,160.9 L373.3,158.7 L372.3,156.5 L371.3,154.4 L370.3,152.3 L369.3,150.2 L368.3,148.2 L367.3,146.2 L366.3,144.2 L365.3,142.3 L364.3,140.4 L363.3,138.5 L362.3,136.6 L361.3,134.8 L360.3,133.0 L359.3,131.2 L358.3,129.4 L357.3,127.7 L356.3,126.0 L355.3,124.3 L354.3,122.7 L353.3,121.0 L352.3,119.4 L351.3,117.9 L350.3,116.3 L349.3,114.8 L348.3,113.4 L347.3,111.9 L346.3,110.5 L345.3,109.2 L344.3,107.9 L343.3,106.6 L342.3,105.3 L341.3,104.1 L340.3,102.9 L339.3,101.7 L338.3,100.6 L337.3,99.5 L336.3,98.4 L335.3,97.3 L334.3,96.2 L333.3,95.2 L332.3,94.1 L331.3,93.1 L330.3,92.1 L329.3,91.1 L328.3,90.2 L327.3,89.3 L326.3,88.5 L325.3,87.7 L324.3,87.0 L323.3,86.3 L322.3,85.6 L321.3,85.0 L320.3,84.5 L319.3,83.9 L318.3,83.4 L317.3,82.9 L316.3,82.5 L315.3,82.0 L314.3,81.5 L313.3,81.1 L312.3,80.7 L311.3,80.2 L310.3,79.8 L309.3,79.4 L308.3,78.9 L307.3,78.5 L306.3,78.1 L305.3,77.6 L304.3,77.2 L303.3,76.7 L302.3,76.2 L301.3,75.8 L300.3,75.3 L299.3,74.9 L298.3,74.4 L297.3,74.0 L296.3,73.5 L295.3,73.1 L294.3,72.6 L293.3,72.2 L292.3,71.8 L291.3,71.4 L290.3,71.0 L289.3,70.6 L288.3,70.2 L287.3,69.8 L286.3,69.5 L285.3,69.1 L284.3,68.7 L283.3,68.4 L282.3,68.0 L281.3,67.7 L280.3,67.3 L279.3,67.0 L278.3,66.6 L277.3,66.3 L276.3,65.9 L275.3,65.5 L274.3,65.2 L273.3,64.8 L272.3,64.5 L271.3,64.1 L270.3,63.8 L269.3,63.4 L268.3,63.0 L267.3,62.7 L266.3,62.3 L265.3,62.0 L264.3,61.7 L263.3,61.3 L262.3,61.0 L261.3,60.7 L260.3,60.3 L259.3,60.0 L258.3,59.7 L257.3,59.4 L256.3,59.1 L255.3,58.9 L254.3,58.6 L253.3,58.3 L252.3,58.0 L251.3,57.8 L250.3,57.5 L249.3,57.3 L248.3,57.0 L247.3,56.8 L246.3,56.5 L245.3,56.3 L244.3,56.1 L243.3,55.8 L242.3,55.6 L241.3,55.4 L240.3,55.1 L239.3,54.9 L238.3,54.7 L237.3,54.5 L236.3,54.3 L235.3,54.0 L234.3,53.8 L233.3,53.6 L232.3,53.4 L231.3,53.2 L230.3,53.0 L229.3,52.8 L228.3,52.6 L227.3,52.4 L226.3,52.2 L225.3,52.0 L224.3,51.8 L223.3,51.6 L222.3,51.5 L221.3,51.3 L220.3,51.2 L219.3,51.0 L218.3,50.9 L217.3,50.8 L216.3,50.6 L215.3,50.5 L214.3,50.4 L213.3,50.3 L212.3,50.2 L211.3,50.1 L210.3,50.0 L209.3,49.9 L208.3,49.8 L207.3,49.7 L206.3,49.6 L205.3,49.5 L204.3,49.4 L203.3,49.3 L202.3,49.2 L201.3,49.2 L200.3,49.1 L199.3,49.0 L198.3,48.8 L197.3,48.7 L196.3,48.6 L195.3,48.5 L194.3,48.4 L193.3,48.3 L192.3,48.2 L191.3,48.1 L190.3,48.0 L189.3,47.9 L188.3,47.8 L187.3,47.7 L186.3,47.5 L185.3,47.4 L184.3,47.3 L183.3,47.2 L182.3,47.1 L181.3,47.0 L180.3,46.9 L179.3,46.7 L178.3,46.6 L177.3,46.5 L176.3,46.4 L175.3,46.3 L174.3,46.2 L173.3,46.0 L172.3,45.9 L171.3,45.8 L170.3,45.7 L169.3,45.5 L168.3,45.4 L167.3,45.3 L166.3,45.2 L165.3,45.0 L164.3,44.9 L163.3,44.8 L162.3,44.7 L161.3,44.5 L160.3,44.4 L159.3,44.3 L158.3,44.1 L157.3,44.0 L156.3,43.8 L155.3,43.7 L154.3,43.5 L153.3,43.4 L152.3,43.2 L151.3,43.0 L150.3,42.9 L149.3,42.7 L148.3,42.5 L147.3,42.4 L146.3,42.2 L145.3,42.1 L144.3,41.9 L143.3,41.8 L142.3,41.7 L141.3,41.5 L140.3,41.4 L139.3,41.4 L138.3,41.3 L137.3,41.2 L136.3,41.1 L135.3,41.1 L134.3,41.0 L133.3,41.0 L132.3,40.9 L131.3,40.9 L130.3,40.9 L129.3,40.8 L128.3,40.8 L127.3,40.7 L126.3,40.7 L125.3,40.7 L124.3,40.6 L123.3,40.6 L122.3,40.6 L121.3,40.6 L120.3,40.5 L119.3,40.5 L118.3,40.5 L117.3,40.5 L116.3,40.5 L115.3,40.5 L114.3,40.5 L113.3,40.5 L112.3,40.5 L111.3,40.5 L110.3,40.5 L109.3,40.6 L108.3,40.6 L107.3,40.6 L106.3,40.7 L105.3,40.8 L104.3,40.8 L103.3,40.9 L102.3,41.0 L101.3,41.1 L100.3,41.2 L99.3,41.4 L98.3,41.5 L97.3,41.6 L96.3,41.7 L95.3,41.8 L94.3,41.9 L93.3,42.0 L92.3,42.1 L91.3,42.2 L90.3,42.3 L89.3,42.4 L88.3,42.5 L87.3,42.5 L86.3,42.6 L85.3,42.7 L84.3,42.8 L83.3,42.9 L82.3,43.0 L81.3,43.1 L80.3,43.2 L79.3,43.4 L78.3,43.5 L77.3,43.7 L76.3,43.9 L75.3,44.1 L74.3,44.5 L73.3,44.9 L72.3,45.4 L71.3,45.9 L70.3,46.4 L69.3,47.0 L68.3,47.6 L67.3,48.2 L66.3,48.9 L65.3,49.7 L64.3,50.4 L63.3,51.0 L62.3,51.5 L61.3,52.0 L60.3,52.5 L59.3,53.1 L58.3,53.6 L57.3,54.1 L56.3,54.6 L55.3,54.9 L54.3,55.3 L53.3,55.6 L52.3,55.9 L51.3,56.2 L50.3,56.4 L49.3,56.6 L48.3,56.8Z" fill="url(#bg)" fill-opacity="1"/>
</g>
<g fill="none" stroke-linejoin="round" stroke-linecap="butt">
<path d="M48.0,80.2 L49.0,78.0 L50.0,75.9 L51.0,73.9 L52.0,72.0 L53.0,70.3 L54.0,68.8 L55.0,67.5 L56.0,66.3 L57.0,65.3 L58.0,64.4 L59.0,63.7 L60.0,63.0 L61.0,62.4 L62.0,61.9 L63.0,61.5 L64.0,61.1 L65.0,60.8 L66.0,60.6 L67.0,60.3 L68.0,60.1 L69.0,60.0 L70.0,59.9 L71.0,59.8 L72.0,59.7 L73.0,59.7 L74.0,59.7 L75.0,59.8 L76.0,59.8 L77.0,59.9 L78.0,60.0 L79.0,60.1 L80.0,60.2 L81.0,60.3 L82.0,60.4 L83.0,60.5 L84.0,60.6 L85.0,60.7 L86.0,60.8 L87.0,60.9 L88.0,61.0 L89.0,61.1 L90.0,61.2 L91.0,61.4 L92.0,61.5 L93.0,61.7 L94.0,61.8 L95.0,62.0 L96.0,62.1 L97.0,62.3 L98.0,62.5 L99.0,62.7 L100.0,62.8 L101.0,63.0 L102.0,63.2 L103.0,63.4 L104.0,63.5 L105.0,63.7 L106.0,63.9 L107.0,64.0 L108.0,64.2 L109.0,64.4 L110.0,64.5 L111.0,64.7 L112.0,64.8 L113.0,64.9 L114.0,65.1 L115.0,65.2 L116.0,65.3 L117.0,65.5 L118.0,65.6 L119.0,65.7 L120.0,65.9 L121.0,66.0 L122.0,66.1 L123.0,66.3 L124.0,66.4 L125.0,66.6 L126.0,66.8 L127.0,66.9 L128.0,67.1 L129.0,67.3 L130.0,67.5 L131.0,67.8 L132.0,68.0 L133.0,68.2 L134.0,68.5 L135.0,68.8 L136.0,69.0 L137.0,69.3 L138.0,69.6 L139.0,69.9 L140.0,70.3 L141.0,70.6 L142.0,71.0 L143.0,71.3 L144.0,71.7 L145.0,72.1 L146.0,72.5 L147.0,72.9 L148.0,73.2 L149.0,73.7 L150.0,74.1 L151.0,74.5 L152.0,74.9 L153.0,75.3 L154.0,75.7 L155.0,76.0 L156.0,76.4 L157.0,76.8 L158.0,77.2 L159.0,77.5 L160.0,77.9 L161.0,78.3 L162.0,78.6 L163.0,79.0 L164.0,79.3 L165.0,79.7 L166.0,80.0 L167.0,80.4 L168.0,80.7 L169.0,81.0 L170.0,81.4 L171.0,81.7 L172.0,82.1 L173.0,82.4 L174.0,82.8 L175.0,83.1 L176.0,83.4 L177.0,83.8 L178.0,84.1 L179.0,84.5 L180.0,84.8 L181.0,85.2 L182.0,85.5 L183.0,85.9 L184.0,86.2 L185.0,86.6 L186.0,86.9 L187.0,87.2 L188.0,87.6 L189.0,87.9 L190.0,88.3 L191.0,88.6 L192.0,89.0 L193.0,89.3 L194.0,89.7 L195.0,90.0 L196.0,90.4 L197.0,90.7 L198.0,91.1 L199.0,91.4 L200.0,91.8 L201.0,92.1 L202.0,92.5 L203.0,92.8 L204.0,93.2 L205.0,93.5 L206.0,93.9 L207.0,94.2 L208.0,94.6 L209.0,94.9 L210.0,95.3 L211.0,95.7 L212.0,96.0 L213.0,96.4 L214.0,96.7 L215.0,97.1 L216.0,97.4 L217.0,97.8 L218.0,98.1 L219.0,98.5 L220.0,98.8 L221.0,99.2 L222.0,99.5 L223.0,99.9 L224.0,100.2 L225.0,100.6 L226.0,101.0 L227.0,101.3 L228.0,101.7 L229.0,102.0 L230.0,102.4 L231.0,102.7 L232.0,103.1 L233.0,103.4 L234.0,103.8 L235.0,104.1 L236.0,104.4 L237.0,104.8 L238.0,105.1 L239.0,105.4 L240.0,105.7 L241.0,106.0 L242.0,106.3 L243.0,106.6 L244.0,106.9 L245.0,107.3 L246.0,107.6 L247.0,107.9 L248.0,108.3 L249.0,108.6 L250.0,109.0 L251.0,109.4 L252.0,109.8 L253.0,110.2 L254.0,110.6 L255.0,111.1 L256.0,111.5 L257.0,112.0 L258.0,112.4 L259.0,112.9 L260.0,113.4 L261.0,113.8 L262.0,114.3 L263.0,114.8 L264.0,115.3 L265.0,115.7 L266.0,116.2 L267.0,116.6 L268.0,117.1 L269.0,117.5 L270.0,118.0 L271.0,118.4 L272.0,118.9 L273.0,119.3 L274.0,119.7 L275.0,120.2 L276.0,120.6 L277.0,121.0 L278.0,121.5 L279.0,121.9 L280.0,122.3 L281.0,122.8 L282.0,123.2 L283.0,123.7 L284.0,124.1 L285.0,124.6 L286.0,125.1 L287.0,125.5 L288.0,126.0 L289.0,126.5 L290.0,127.0 L291.0,127.5 L292.0,128.1 L293.0,128.6 L294.0,129.1 L295.0,129.6 L296.0,130.2 L297.0,130.7 L298.0,131.3 L299.0,131.9 L300.0,132.4 L301.0,133.0 L302.0,133.6 L303.0,134.1 L304.0,134.7 L305.0,135.3 L306.0,135.9 L307.0,136.4 L308.0,137.0 L309.0,137.6 L310.0,138.2 L311.0,138.7 L312.0,139.3 L313.0,139.9 L314.0,140.5 L315.0,141.1 L316.0,141.7 L317.0,142.4 L318.0,143.0 L319.0,143.7 L320.0,144.4 L321.0,145.1 L322.0,145.8 L323.0,146.6 L324.0,147.3 L325.0,148.1 L326.0,148.8 L327.0,149.6 L328.0,150.3 L329.0,151.1 L330.0,151.9 L331.0,152.6 L332.0,153.4 L333.0,154.1 L334.0,154.9 L335.0,155.7 L336.0,156.5 L337.0,157.2 L338.0,158.0 L339.0,158.8 L340.0,159.5 L341.0,160.3 L342.0,161.1 L343.0,161.8 L344.0,162.6 L345.0,163.5 L346.0,164.3 L347.0,165.2 L348.0,166.2 L349.0,167.2 L350.0,168.2 L351.0,169.3 L352.0,170.4 L353.0,171.5 L354.0,172.7 L355.0,173.9 L356.0,175.2 L357.0,176.4 L358.0,177.6 L359.0,178.9 L360.0,180.2 L361.0,181.4 L362.0,182.7 L363.0,184.0 L364.0,185.3 L365.0,186.6 L366.0,187.9 L367.0,189.2 L368.0,190.5 L369.0,191.8 L370.0,193.0 L371.0,194.3 L372.0,195.6 L373.0,196.8 L374.0,198.1 L375.0,199.3 L376.0,200.5 L377.0,201.7 L378.0,202.9 L379.0,204.1 L380.0,205.3 L381.0,206.4 L382.0,207.5 L383.0,208.6 L384.0,209.7 L385.0,210.8 L386.0,211.9 L387.0,212.9 L388.0,214.0 L389.0,215.0 L390.0,216.1 L391.0,217.1 L392.0,218.1 L393.0,219.1 L394.0,220.1 L395.0,221.1 L396.0,222.1 L397.0,223.0 L398.0,223.9 L399.0,224.8 L400.0,225.7 L401.0,226.5 L402.0,227.4" stroke="#f4c2cb" stroke-width="1.9"/>
<path d="M252.3,60.9 L253.3,61.4 L254.3,61.9 L255.3,62.5 L256.3,63.0 L257.3,63.6 L258.3,64.3 L259.3,64.9 L260.3,65.6 L261.3,66.4 L262.3,67.1 L263.3,68.0 L264.3,68.8 L265.3,69.7 L266.3,70.6 L267.3,71.6 L268.3,72.5 L269.3,73.5 L270.3,74.5 L271.3,75.5 L272.3,76.5 L273.3,77.5 L274.3,78.5 L275.3,79.5 L276.3,80.5 L277.3,81.5 L278.3,82.5 L279.3,83.5 L280.3,84.5 L281.3,85.5 L282.3,86.5 L283.3,87.5 L284.3,88.5 L285.3,89.5 L286.3,90.6 L287.3,91.7 L288.3,92.7 L289.3,93.8 L290.3,95.0 L291.3,96.1 L292.3,97.2 L293.3,98.3 L294.3,99.4 L295.3,100.5 L296.3,101.6 L297.3,102.7 L298.3,103.8 L299.3,105.0 L300.3,106.2 L301.3,107.4 L302.3,108.7 L303.3,110.1 L304.3,111.5 L305.3,112.9 L306.3,114.4 L307.3,115.8 L308.3,117.3 L309.3,118.8 L310.3,120.3 L311.3,121.8 L312.3,123.4 L313.3,124.9 L314.3,126.5 L315.3,128.1 L316.3,129.7 L317.3,131.3 L318.3,132.8 L319.3,134.4 L320.3,136.0 L321.3,137.5 L322.3,139.0 L323.3,140.5 L324.3,141.9 L325.3,143.4 L326.3,144.9 L327.3,146.3 L328.3,147.7 L329.3,149.2 L330.3,150.6 L331.3,152.0 L332.3,153.4 L333.3,154.7 L334.3,156.0 L335.3,157.3 L336.3,158.6 L337.3,159.9 L338.3,161.1 L339.3,162.3 L340.3,163.5 L341.3,164.7 L342.3,165.9 L343.3,167.1 L344.3,168.3 L345.3,169.5 L346.3,170.7 L347.3,171.9 L348.3,173.1 L349.3,174.3 L350.3,175.5 L351.3,176.7 L352.3,177.9 L353.3,179.1 L354.3,180.4 L355.3,181.6 L356.3,182.9 L357.3,184.2 L358.3,185.4 L359.3,186.7 L360.3,187.9 L361.3,189.2 L362.3,190.4 L363.3,191.6 L364.3,192.7 L365.3,193.9 L366.3,195.0 L367.3,196.0 L368.3,197.1 L369.3,198.1 L370.3,199.1 L371.3,200.1 L372.3,201.0 L373.3,202.0 L374.3,202.9 L375.3,203.8 L376.3,204.7 L377.3,205.6 L378.3,206.5 L379.3,207.4 L380.3,208.3 L381.3,209.1 L382.3,210.0 L383.3,210.8 L384.3,211.7 L385.3,212.5 L386.3,213.4 L387.3,214.2 L388.3,215.1 L389.3,215.9 L390.3,216.7 L391.3,217.6 L392.3,218.4 L393.3,219.2 L394.3,220.0 L395.3,220.8 L396.3,221.7 L397.3,222.5 L398.3,223.3" stroke="#111111" stroke-width="1.2"/>
<path d="M48.0,144.5 L49.0,144.6 L50.0,144.7 L51.0,144.8 L52.0,144.9 L53.0,145.1 L54.0,145.4 L55.0,145.7 L56.0,146.0 L57.0,146.4 L58.0,146.9 L59.0,147.4 L60.0,147.9 L61.0,148.5 L62.0,149.2 L63.0,149.9 L64.0,150.7 L65.0,151.5 L66.0,152.3 L67.0,153.2 L68.0,154.1 L69.0,155.0 L70.0,156.0 L71.0,156.9 L72.0,157.9 L73.0,158.9 L74.0,159.9 L75.0,161.0 L76.0,162.0 L77.0,163.0 L78.0,164.0 L79.0,164.9 L80.0,165.9 L81.0,166.9 L82.0,167.8 L83.0,168.8 L84.0,169.7 L85.0,170.6 L86.0,171.6 L87.0,172.5 L88.0,173.4 L89.0,174.3 L90.0,175.1 L91.0,176.0 L92.0,176.9 L93.0,177.7 L94.0,178.6 L95.0,179.5 L96.0,180.4 L97.0,181.3 L98.0,182.2 L99.0,183.2 L100.0,184.2 L101.0,185.2 L102.0,186.2 L103.0,187.3 L104.0,188.3 L105.0,189.3 L106.0,190.2 L107.0,191.2 L108.0,192.0 L109.0,192.9 L110.0,193.7 L111.0,194.4 L112.0,195.2 L113.0,195.9 L114.0,196.5 L115.0,197.2 L116.0,197.8 L117.0,198.4 L118.0,199.0 L119.0,199.6 L120.0,200.2 L121.0,200.7 L122.0,201.3 L123.0,201.8 L124.0,202.3 L125.0,202.8 L126.0,203.3 L127.0,203.7 L128.0,204.2 L129.0,204.6 L130.0,205.0 L131.0,205.4 L132.0,205.8 L133.0,206.1 L134.0,206.5 L135.0,206.8 L136.0,207.2 L137.0,207.5 L138.0,207.8 L139.0,208.1 L140.0,208.3 L141.0,208.6 L142.0,208.8 L143.0,209.1 L144.0,209.3 L145.0,209.5 L146.0,209.8 L147.0,210.0 L148.0,210.2 L149.0,210.4 L150.0,210.6 L151.0,210.8 L152.0,211.0 L153.0,211.2 L154.0,211.4 L155.0,211.6 L156.0,211.8 L157.0,212.0 L158.0,212.1 L159.0,212.3 L160.0,212.5 L161.0,212.7 L162.0,212.9 L163.0,213.1 L164.0,213.3 L165.0,213.5 L166.0,213.7 L167.0,214.0 L168.0,214.2 L169.0,214.5 L170.0,214.7 L171.0,215.0 L172.0,215.3 L173.0,215.5 L174.0,215.8 L175.0,216.1 L176.0,216.4 L177.0,216.8 L178.0,217.1 L179.0,217.4 L180.0,217.8 L181.0,218.1 L182.0,218.5 L183.0,218.8 L184.0,219.2 L185.0,219.6 L186.0,219.9 L187.0,220.3 L188.0,220.7 L189.0,221.2 L190.0,221.6 L191.0,222.0 L192.0,222.5 L193.0,222.9 L194.0,223.4 L195.0,223.9 L196.0,224.3 L197.0,224.7 L198.0,225.1 L199.0,225.5 L200.0,225.9 L201.0,226.2 L202.0,226.6 L203.0,226.9 L204.0,227.2 L205.0,227.5 L206.0,227.7 L207.0,228.0 L208.0,228.3 L209.0,228.5 L210.0,228.7 L211.0,229.0 L212.0,229.2 L213.0,229.4 L214.0,229.6 L215.0,229.8 L216.0,229.9 L217.0,230.1 L218.0,230.3 L219.0,230.4 L220.0,230.5 L221.0,230.7 L222.0,230.8 L223.0,230.9 L224.0,231.0 L225.0,231.1 L226.0,231.2 L227.0,231.2 L228.0,231.2 L229.0,231.3 L230.0,231.3 L231.0,231.3 L232.0,231.3 L233.0,231.3 L234.0,231.3 L235.0,231.3 L236.0,231.3 L237.0,231.3 L238.0,231.3 L239.0,231.3 L240.0,231.3 L241.0,231.2 L242.0,231.2 L243.0,231.2 L244.0,231.1 L245.0,231.1 L246.0,231.0 L247.0,231.0 L248.0,230.9 L249.0,230.8 L250.0,230.7 L251.0,230.6 L252.0,230.4 L253.0,230.3 L254.0,230.1 L255.0,229.9 L256.0,229.7 L257.0,229.6 L258.0,229.4 L259.0,229.2 L260.0,229.0 L261.0,228.9 L262.0,228.7 L263.0,228.5 L264.0,228.4 L265.0,228.2 L266.0,228.1 L267.0,227.9 L268.0,227.8 L269.0,227.7 L270.0,227.6 L271.0,227.5 L272.0,227.4 L273.0,227.3 L274.0,227.2 L275.0,227.1 L276.0,227.1 L277.0,227.0 L278.0,226.9 L279.0,226.9 L280.0,226.9 L281.0,226.8 L282.0,226.8 L283.0,226.8 L284.0,226.8 L285.0,226.7 L286.0,226.7 L287.0,226.7 L288.0,226.7 L289.0,226.8 L290.0,226.8 L291.0,226.9 L292.0,226.9 L293.0,227.0 L294.0,227.1 L295.0,227.2 L296.0,227.4 L297.0,227.5 L298.0,227.7 L299.0,227.9 L300.0,228.2 L301.0,228.5 L302.0,228.8 L303.0,229.1 L304.0,229.5 L305.0,229.9 L306.0,230.4 L307.0,230.8 L308.0,231.2 L309.0,231.7 L310.0,232.2 L311.0,232.6 L312.0,233.1 L313.0,233.6 L314.0,234.1 L315.0,234.6 L316.0,235.1 L317.0,235.6 L318.0,236.1 L319.0,236.5 L320.0,237.0 L321.0,237.4 L322.0,237.8 L323.0,238.2 L324.0,238.6 L325.0,239.0 L326.0,239.4 L327.0,239.7 L328.0,240.1 L329.0,240.4 L330.0,240.7 L331.0,241.0 L332.0,241.3 L333.0,241.5 L334.0,241.8 L335.0,242.0 L336.0,242.2 L337.0,242.4 L338.0,242.6 L339.0,242.8 L340.0,243.0 L341.0,243.1 L342.0,243.3 L343.0,243.4 L344.0,243.5 L345.0,243.6 L346.0,243.7 L347.0,243.8 L348.0,243.8 L349.0,243.8 L350.0,243.8 L351.0,243.8 L352.0,243.8 L353.0,243.7 L354.0,243.7 L355.0,243.6 L356.0,243.5 L357.0,243.4 L358.0,243.3 L359.0,243.1 L360.0,242.9 L361.0,242.7 L362.0,242.5 L363.0,242.2 L364.0,241.9 L365.0,241.5 L366.0,241.1 L367.0,240.8 L368.0,240.3 L369.0,239.9 L370.0,239.4 L371.0,238.9 L372.0,238.4 L373.0,237.9 L374.0,237.3 L375.0,236.8 L376.0,236.2 L377.0,235.7 L378.0,235.1 L379.0,234.5 L380.0,234.0 L381.0,233.5 L382.0,232.9 L383.0,232.4 L384.0,231.9 L385.0,231.4 L386.0,230.9 L387.0,230.5 L388.0,230.0 L389.0,229.6 L390.0,229.2 L391.0,228.9 L392.0,228.5 L393.0,228.2 L394.0,227.9 L395.0,227.6 L396.0,227.3 L397.0,227.0 L398.0,226.8 L399.0,226.6 L400.0,226.4" stroke="#f7a81b" stroke-width="1.4"/>
<path d="M48.0,134.0 L49.0,134.5 L50.0,135.0 L51.0,135.5 L52.0,135.9 L53.0,136.4 L54.0,136.9 L55.0,137.4 L56.0,137.9 L57.0,138.4 L58.0,138.9 L59.0,139.4 L60.0,139.9 L61.0,140.4 L62.0,140.9 L63.0,141.4 L64.0,141.9 L65.0,142.4 L66.0,143.0 L67.0,143.5 L68.0,144.1 L69.0,144.7 L70.0,145.3 L71.0,145.9 L72.0,146.6 L73.0,147.2 L74.0,147.9 L75.0,148.4 L76.0,149.0 L77.0,149.5 L78.0,149.9 L79.0,150.3 L80.0,150.6 L81.0,150.9 L82.0,151.2 L83.0,151.4 L84.0,151.6 L85.0,151.8 L86.0,151.9 L87.0,152.0 L88.0,152.1 L89.0,152.1 L90.0,152.2 L91.0,152.2 L92.0,152.2 L93.0,152.1 L94.0,152.1 L95.0,152.1 L96.0,152.1 L97.0,152.0 L98.0,152.0 L99.0,152.0 L100.0,152.0 L101.0,151.9 L102.0,151.9 L103.0,151.9 L104.0,151.9 L105.0,151.8 L106.0,151.8 L107.0,151.8 L108.0,151.8 L109.0,151.9 L110.0,151.9 L111.0,152.0 L112.0,152.0 L113.0,152.1 L114.0,152.3 L115.0,152.4 L116.0,152.6 L117.0,152.7 L118.0,152.9 L119.0,153.1 L120.0,153.3 L121.0,153.5 L122.0,153.7 L123.0,154.0 L124.0,154.2 L125.0,154.4 L126.0,154.6 L127.0,154.8 L128.0,155.0 L129.0,155.2 L130.0,155.4 L131.0,155.6 L132.0,155.8 L133.0,156.0 L134.0,156.2 L135.0,156.4 L136.0,156.6 L137.0,156.9 L138.0,157.2 L139.0,157.5 L140.0,157.8 L141.0,158.2 L142.0,158.5 L143.0,158.9 L144.0,159.4 L145.0,159.8 L146.0,160.2 L147.0,160.7 L148.0,161.1 L149.0,161.6 L150.0,162.0 L151.0,162.5 L152.0,163.0 L153.0,163.5 L154.0,164.0 L155.0,164.5 L156.0,165.0 L157.0,165.6 L158.0,166.1 L159.0,166.7 L160.0,167.2 L161.0,167.8 L162.0,168.4 L163.0,169.0 L164.0,169.6 L165.0,170.2 L166.0,170.8 L167.0,171.5 L168.0,172.1 L169.0,172.8 L170.0,173.4 L171.0,174.1 L172.0,174.8 L173.0,175.5 L174.0,176.2 L175.0,176.9 L176.0,177.6 L177.0,178.3 L178.0,179.0 L179.0,179.7 L180.0,180.3 L181.0,181.0 L182.0,181.7 L183.0,182.3 L184.0,183.0 L185.0,183.6 L186.0,184.2 L187.0,184.8 L188.0,185.4 L189.0,186.0 L190.0,186.5 L191.0,187.1 L192.0,187.6 L193.0,188.1 L194.0,188.6 L195.0,189.1 L196.0,189.6 L197.0,190.1 L198.0,190.6 L199.0,191.1 L200.0,191.7 L201.0,192.2 L202.0,192.7 L203.0,193.2 L204.0,193.8 L205.0,194.3 L206.0,194.8 L207.0,195.3 L208.0,195.8 L209.0,196.3 L210.0,196.8 L211.0,197.3 L212.0,197.8 L213.0,198.3 L214.0,198.8 L215.0,199.3 L216.0,199.7 L217.0,200.2 L218.0,200.7 L219.0,201.1 L220.0,201.6 L221.0,202.0 L222.0,202.5 L223.0,202.9 L224.0,203.3 L225.0,203.8 L226.0,204.2 L227.0,204.6 L228.0,205.0 L229.0,205.4 L230.0,205.8 L231.0,206.2 L232.0,206.6 L233.0,207.0 L234.0,207.4 L235.0,207.8 L236.0,208.2 L237.0,208.5 L238.0,208.9 L239.0,209.2 L240.0,209.5 L241.0,209.9 L242.0,210.2 L243.0,210.5 L244.0,210.8 L245.0,211.1 L246.0,211.3 L247.0,211.6 L248.0,211.9 L249.0,212.1 L250.0,212.4 L251.0,212.6 L252.0,212.8 L253.0,213.1 L254.0,213.3 L255.0,213.5 L256.0,213.7 L257.0,213.9 L258.0,214.1 L259.0,214.3 L260.0,214.5 L261.0,214.7 L262.0,214.9 L263.0,215.1 L264.0,215.3 L265.0,215.5 L266.0,215.7 L267.0,215.9 L268.0,216.1 L269.0,216.3 L270.0,216.5 L271.0,216.7 L272.0,216.9 L273.0,217.1 L274.0,217.3 L275.0,217.5 L276.0,217.7 L277.0,217.9 L278.0,218.1 L279.0,218.4 L280.0,218.6 L281.0,218.9 L282.0,219.1 L283.0,219.4 L284.0,219.7 L285.0,219.9 L286.0,220.2 L287.0,220.4 L288.0,220.7 L289.0,220.9 L290.0,221.1 L291.0,221.4 L292.0,221.6 L293.0,221.7 L294.0,221.9 L295.0,222.1 L296.0,222.3 L297.0,222.5 L298.0,222.7 L299.0,222.8 L300.0,223.0 L301.0,223.2 L302.0,223.4 L303.0,223.6 L304.0,223.7 L305.0,223.9 L306.0,224.1 L307.0,224.3 L308.0,224.5 L309.0,224.7 L310.0,224.9 L311.0,225.2 L312.0,225.4 L313.0,225.6 L314.0,225.8 L315.0,226.1 L316.0,226.3 L317.0,226.5 L318.0,226.8 L319.0,227.0 L320.0,227.2 L321.0,227.5 L322.0,227.7 L323.0,227.9 L324.0,228.2 L325.0,228.4 L326.0,228.7 L327.0,228.9 L328.0,229.2 L329.0,229.4 L330.0,229.6 L331.0,229.9 L332.0,230.1 L333.0,230.4 L334.0,230.6 L335.0,230.9 L336.0,231.1 L337.0,231.4 L338.0,231.6 L339.0,231.9 L340.0,232.1 L341.0,232.4 L342.0,232.6 L343.0,232.9 L344.0,233.1 L345.0,233.4 L346.0,233.6 L347.0,233.9 L348.0,234.1 L349.0,234.4 L350.0,234.6 L351.0,234.9 L352.0,235.2 L353.0,235.4 L354.0,235.7 L355.0,236.0 L356.0,236.3 L357.0,236.6 L358.0,236.8 L359.0,237.1 L360.0,237.4 L361.0,237.6 L362.0,237.9 L363.0,238.1 L364.0,238.3 L365.0,238.5 L366.0,238.7 L367.0,238.9 L368.0,239.1 L369.0,239.2 L370.0,239.4 L371.0,239.5 L372.0,239.7 L373.0,239.8 L374.0,239.9 L375.0,240.0 L376.0,240.1 L377.0,240.2 L378.0,240.3 L379.0,240.4 L380.0,240.5 L381.0,240.6 L382.0,240.7 L383.0,240.8 L384.0,240.9 L385.0,241.0 L386.0,241.0 L387.0,241.1 L388.0,241.2 L389.0,241.2 L390.0,241.3 L391.0,241.3 L392.0,241.4 L393.0,241.4 L394.0,241.5 L395.0,241.5 L396.0,241.5 L397.0,241.6 L398.0,241.6 L399.0,241.6 L400.0,241.6 L401.0,241.5 L402.0,241.5 L403.0,241.5 L404.0,241.4 L405.0,241.4 L406.0,241.3" stroke="#ffffff" stroke-width="1.5"/>
<path d="M48.3,49.5 L49.3,48.1 L50.3,46.7 L51.3,45.4 L52.3,44.2 L53.3,43.1 L54.3,42.1 L55.3,41.2 L56.3,40.5 L57.3,39.8 L58.3,39.2 L59.3,38.6 L60.3,38.2 L61.3,37.8 L62.3,37.4 L63.3,37.1 L64.3,36.9 L65.3,36.7 L66.3,36.5 L67.3,36.3 L68.3,36.2 L69.3,36.1 L70.3,36.0 L71.3,35.9 L72.3,35.9 L73.3,35.8 L74.3,35.7 L75.3,35.7 L76.3,35.6 L77.3,35.6 L78.3,35.5 L79.3,35.4 L80.3,35.4 L81.3,35.3 L82.3,35.3 L83.3,35.2 L84.3,35.2 L85.3,35.1 L86.3,35.1 L87.3,35.0 L88.3,34.9 L89.3,34.9 L90.3,34.8 L91.3,34.8 L92.3,34.7 L93.3,34.6 L94.3,34.6 L95.3,34.5 L96.3,34.4 L97.3,34.4 L98.3,34.3 L99.3,34.2 L100.3,34.1 L101.3,34.1 L102.3,34.0 L103.3,33.9 L104.3,33.9 L105.3,33.8 L106.3,33.8 L107.3,33.8 L108.3,33.7 L109.3,33.7 L110.3,33.7 L111.3,33.7 L112.3,33.7 L113.3,33.7 L114.3,33.7 L115.3,33.8 L116.3,33.8 L117.3,33.8 L118.3,33.8 L119.3,33.8 L120.3,33.9 L121.3,33.9 L122.3,33.9 L123.3,34.0 L124.3,34.0 L125.3,34.0 L126.3,34.1 L127.3,34.1 L128.3,34.2 L129.3,34.2 L130.3,34.3 L131.3,34.3 L132.3,34.4 L133.3,34.4 L134.3,34.5 L135.3,34.5 L136.3,34.6 L137.3,34.7 L138.3,34.8 L139.3,34.9 L140.3,35.0 L141.3,35.1 L142.3,35.3 L143.3,35.5 L144.3,35.7 L145.3,35.9 L146.3,36.1 L147.3,36.3 L148.3,36.5 L149.3,36.8 L150.3,37.0 L151.3,37.3 L152.3,37.5 L153.3,37.7 L154.3,38.0 L155.3,38.2 L156.3,38.4 L157.3,38.5 L158.3,38.7 L159.3,38.9 L160.3,39.0 L161.3,39.2 L162.3,39.3 L163.3,39.4 L164.3,39.6 L165.3,39.7 L166.3,39.8 L167.3,39.9 L168.3,40.1 L169.3,40.2 L170.3,40.3 L171.3,40.4 L172.3,40.5 L173.3,40.7 L174.3,40.8 L175.3,40.9 L176.3,41.1 L177.3,41.2 L178.3,41.4 L179.3,41.5 L180.3,41.7 L181.3,41.8 L182.3,42.0 L183.3,42.1 L184.3,42.3 L185.3,42.5 L186.3,42.6 L187.3,42.8 L188.3,43.0 L189.3,43.1 L190.3,43.3 L191.3,43.5 L192.3,43.7 L193.3,43.8 L194.3,44.0 L195.3,44.2 L196.3,44.4 L197.3,44.6 L198.3,44.8 L199.3,44.9 L200.3,45.1 L201.3,45.3 L202.3,45.5 L203.3,45.7 L204.3,45.9 L205.3,46.0 L206.3,46.2 L207.3,46.4 L208.3,46.6 L209.3,46.8 L210.3,47.0 L211.3,47.2 L212.3,47.4 L213.3,47.6 L214.3,47.9 L215.3,48.1 L216.3,48.3 L217.3,48.5 L218.3,48.8 L219.3,49.0 L220.3,49.3 L221.3,49.5 L222.3,49.8 L223.3,50.1 L224.3,50.3 L225.3,50.6 L226.3,50.9 L227.3,51.2 L228.3,51.5 L229.3,51.8 L230.3,52.1 L231.3,52.4 L232.3,52.8 L233.3,53.1 L234.3,53.4 L235.3,53.7 L236.3,54.0 L237.3,54.4 L238.3,54.7 L239.3,55.1 L240.3,55.4 L241.3,55.8 L242.3,56.2 L243.3,56.5 L244.3,56.9 L245.3,57.3 L246.3,57.6 L247.3,57.9 L248.3,58.2 L249.3,58.5 L250.3,58.8 L251.3,59.1 L252.3,59.4 L253.3,59.6 L254.3,59.9 L255.3,60.2 L256.3,60.5 L257.3,60.8 L258.3,61.1 L259.3,61.5 L260.3,61.9 L261.3,62.4 L262.3,62.8 L263.3,63.3 L264.3,63.9 L265.3,64.4 L266.3,65.0 L267.3,65.6 L268.3,66.2 L269.3,66.8 L270.3,67.5 L271.3,68.1 L272.3,68.8 L273.3,69.5 L274.3,70.1 L275.3,70.8 L276.3,71.4 L277.3,72.0 L278.3,72.6 L279.3,73.2 L280.3,73.7 L281.3,74.2 L282.3,74.7 L283.3,75.2 L284.3,75.6 L285.3,76.0 L286.3,76.3 L287.3,76.6 L288.3,76.9 L289.3,77.2 L290.3,77.4 L291.3,77.6 L292.3,77.8 L293.3,77.9 L294.3,78.1 L295.3,78.2 L296.3,78.3 L297.3,78.4 L298.3,78.5 L299.3,78.6 L300.3,78.7 L301.3,78.8 L302.3,79.0 L303.3,79.2 L304.3,79.4 L305.3,79.6 L306.3,79.9 L307.3,80.2 L308.3,80.5 L309.3,80.9 L310.3,81.3 L311.3,81.7 L312.3,82.2 L313.3,82.7 L314.3,83.3 L315.3,83.9 L316.3,84.5 L317.3,85.2 L318.3,85.9 L319.3,86.6 L320.3,87.3 L321.3,88.1 L322.3,88.8 L323.3,89.6 L324.3,90.4 L325.3,91.2 L326.3,92.1 L327.3,92.9 L328.3,93.8 L329.3,94.7 L330.3,95.7 L331.3,96.6 L332.3,97.5 L333.3,98.5 L334.3,99.4 L335.3,100.4 L336.3,101.3 L337.3,102.4 L338.3,103.4 L339.3,104.6 L340.3,105.8 L341.3,107.0 L342.3,108.3 L343.3,109.7 L344.3,111.1 L345.3,112.6 L346.3,114.2 L347.3,115.7 L348.3,117.3 L349.3,118.9 L350.3,120.6 L351.3,122.2 L352.3,123.9 L353.3,125.6 L354.3,127.4 L355.3,129.1 L356.3,130.9 L357.3,132.7 L358.3,134.6 L359.3,136.5 L360.3,138.4 L361.3,140.3 L362.3,142.2 L363.3,144.2 L364.3,146.1 L365.3,148.1 L366.3,150.0 L367.3,152.0 L368.3,154.0 L369.3,155.9 L370.3,157.9 L371.3,159.9 L372.3,161.9 L373.3,163.9 L374.3,165.9 L375.3,167.9 L376.3,170.0 L377.3,172.0 L378.3,174.0 L379.3,176.1 L380.3,178.1 L381.3,180.2 L382.3,182.2 L383.3,184.3 L384.3,186.4 L385.3,188.5 L386.3,190.5 L387.3,192.6 L388.3,194.7 L389.3,196.8 L390.3,198.9 L391.3,200.9 L392.3,203.0 L393.3,205.0 L394.3,207.0 L395.3,209.0 L396.3,211.0 L397.3,212.9 L398.3,214.8 L399.3,216.7 L400.3,218.5 L401.3,220.3 L402.3,222.1 L403.3,223.8 L404.3,225.4 L405.3,227.1 L406.3,228.8 L407.3,230.5 L408.3,232.1 L409.3,233.7 L410.3,235.3 L411.3,236.9 L412.3,238.4 L413.3,239.9 L414.3,241.1 L415.3,242.4 L416.3,243.6 L417.3,244.8 L418.3,245.9 L419.3,246.9 L420.3,247.9 L421.3,248.7 L422.3,249.6 L423.3,250.4 L424.3,251.3 L425.3,252.0 L426.3,252.7 L427.3,253.1 L428.3,253.4 L429.3,253.5 L430.3,253.5 L431.3,253.4 L432.3,253.3 L433.3,253.2 L434.3,253.0 L435.3,252.9 L436.3,252.7 L437.3,252.5 L438.3,252.3 L439.3,252.0 L440.3,251.7 L441.3,251.4 L442.3,251.0 L443.3,250.6 L444.3,250.1" stroke="#35c74a" stroke-width="1.2"/>
<path d="M48.3,48.6 L49.3,47.2 L50.3,45.9 L51.3,44.7 L52.3,43.5 L53.3,42.4 L54.3,41.5 L55.3,40.6 L56.3,39.8 L57.3,39.2 L58.3,38.6 L59.3,38.0 L60.3,37.6 L61.3,37.2 L62.3,36.8 L63.3,36.5 L64.3,36.3 L65.3,36.1 L66.3,35.9 L67.3,35.7 L68.3,35.6 L69.3,35.5 L70.3,35.4 L71.3,35.3 L72.3,35.3 L73.3,35.2 L74.3,35.1 L75.3,35.1 L76.3,35.0 L77.3,35.0 L78.3,34.9 L79.3,34.8 L80.3,34.8 L81.3,34.7 L82.3,34.7 L83.3,34.6 L84.3,34.6 L85.3,34.5 L86.3,34.5 L87.3,34.4 L88.3,34.4 L89.3,34.3 L90.3,34.3 L91.3,34.2 L92.3,34.1 L93.3,34.1 L94.3,34.0 L95.3,33.9 L96.3,33.9 L97.3,33.8 L98.3,33.7 L99.3,33.6 L100.3,33.6 L101.3,33.5 L102.3,33.4 L103.3,33.4 L104.3,33.3 L105.3,33.2 L106.3,33.2 L107.3,33.2 L108.3,33.1 L109.3,33.1 L110.3,33.1 L111.3,33.1 L112.3,33.1 L113.3,33.1 L114.3,33.1 L115.3,33.2 L116.3,33.2 L117.3,33.2 L118.3,33.2 L119.3,33.2 L120.3,33.3 L121.3,33.3 L122.3,33.3 L123.3,33.4 L124.3,33.4 L125.3,33.4 L126.3,33.5 L127.3,33.5 L128.3,33.6 L129.3,33.6 L130.3,33.7 L131.3,33.7 L132.3,33.8 L133.3,33.8 L134.3,33.9 L135.3,33.9 L136.3,34.0 L137.3,34.1 L138.3,34.2 L139.3,34.3 L140.3,34.4 L141.3,34.5 L142.3,34.7 L143.3,34.8 L144.3,35.0 L145.3,35.2 L146.3,35.4 L147.3,35.7 L148.3,35.9 L149.3,36.1 L150.3,36.4 L151.3,36.6 L152.3,36.8 L153.3,37.1 L154.3,37.3 L155.3,37.5 L156.3,37.7 L157.3,37.8 L158.3,38.0 L159.3,38.2 L160.3,38.3 L161.3,38.5 L162.3,38.6 L163.3,38.7 L164.3,38.9 L165.3,39.0 L166.3,39.1 L167.3,39.2 L168.3,39.4 L169.3,39.5 L170.3,39.6 L171.3,39.7 L172.3,39.9 L173.3,40.0 L174.3,40.1 L175.3,40.2 L176.3,40.4 L177.3,40.5 L178.3,40.7 L179.3,40.8 L180.3,40.9 L181.3,41.1 L182.3,41.3 L183.3,41.4 L184.3,41.6 L185.3,41.7 L186.3,41.9 L187.3,42.1 L188.3,42.2 L189.3,42.4 L190.3,42.6 L191.3,42.7 L192.3,42.9 L193.3,43.1 L194.3,43.3 L195.3,43.4 L196.3,43.6 L197.3,43.8 L198.3,44.0 L199.3,44.1 L200.3,44.3 L201.3,44.5 L202.3,44.7 L203.3,44.8 L204.3,45.0 L205.3,45.2 L206.3,45.4 L207.3,45.6 L208.3,45.7 L209.3,45.9 L210.3,46.1 L211.3,46.3 L212.3,46.5 L213.3,46.7 L214.3,46.9 L215.3,47.1 L216.3,47.4 L217.3,47.6 L218.3,47.8 L219.3,48.0 L220.3,48.3 L221.3,48.5 L222.3,48.8 L223.3,49.1 L224.3,49.3 L225.3,49.6 L226.3,49.9 L227.3,50.2 L228.3,50.5 L229.3,50.8 L230.3,51.1 L231.3,51.4 L232.3,51.7 L233.3,52.0 L234.3,52.3 L235.3,52.6 L236.3,52.9 L237.3,53.3 L238.3,53.6 L239.3,53.9 L240.3,54.3 L241.3,54.6 L242.3,55.0 L243.3,55.3 L244.3,55.7 L245.3,56.0 L246.3,56.4 L247.3,56.7 L248.3,57.0 L249.3,57.3 L250.3,57.5 L251.3,57.8 L252.3,58.0 L253.3,58.3 L254.3,58.5 L255.3,58.8 L256.3,59.1 L257.3,59.3 L258.3,59.6 L259.3,60.0 L260.3,60.3 L261.3,60.6 L262.3,61.0 L263.3,61.4 L264.3,61.8 L265.3,62.2 L266.3,62.6 L267.3,63.0 L268.3,63.5 L269.3,63.9 L270.3,64.3 L271.3,64.7 L272.3,65.1 L273.3,65.6 L274.3,66.0 L275.3,66.4 L276.3,66.7 L277.3,67.1 L278.3,67.5 L279.3,67.8 L280.3,68.2 L281.3,68.5 L282.3,68.8 L283.3,69.1 L284.3,69.4 L285.3,69.8 L286.3,70.1 L287.3,70.4 L288.3,70.7 L289.3,71.0 L290.3,71.4 L291.3,71.7 L292.3,72.0 L293.3,72.4 L294.3,72.7 L295.3,73.1 L296.3,73.4 L297.3,73.8 L298.3,74.1 L299.3,74.5 L300.3,74.9 L301.3,75.2 L302.3,75.6 L303.3,76.1 L304.3,76.5 L305.3,76.9 L306.3,77.4 L307.3,77.8 L308.3,78.3 L309.3,78.8 L310.3,79.4 L311.3,79.9 L312.3,80.5 L313.3,81.1 L314.3,81.7 L315.3,82.4 L316.3,83.0 L317.3,83.7 L318.3,84.4 L319.3,85.1 L320.3,85.9 L321.3,86.6 L322.3,87.4 L323.3,88.1 L324.3,88.9 L325.3,89.8 L326.3,90.6 L327.3,91.5 L328.3,92.4 L329.3,93.3 L330.3,94.2 L331.3,95.1 L332.3,96.1 L333.3,97.0 L334.3,98.0 L335.3,98.9 L336.3,99.9 L337.3,100.9 L338.3,102.0 L339.3,103.1 L340.3,104.3 L341.3,105.6 L342.3,106.9 L343.3,108.2 L344.3,109.6 L345.3,111.1 L346.3,112.6 L347.3,114.1 L348.3,115.7 L349.3,117.3 L350.3,118.9 L351.3,120.5 L352.3,122.2 L353.3,123.8 L354.3,125.6 L355.3,127.3 L356.3,129.1 L357.3,130.9 L358.3,132.7 L359.3,134.5 L360.3,136.4 L361.3,138.3 L362.3,140.2 L363.3,142.2 L364.3,144.1 L365.3,146.0 L366.3,148.0 L367.3,150.0 L368.3,151.9 L369.3,153.9 L370.3,155.9 L371.3,157.9 L372.3,159.9 L373.3,161.9 L374.3,163.9 L375.3,165.9 L376.3,168.0 L377.3,170.0 L378.3,172.1 L379.3,174.2 L380.3,176.2 L381.3,178.3 L382.3,180.4 L383.3,182.5 L384.3,184.6 L385.3,186.7 L386.3,188.8 L387.3,191.0 L388.3,193.1 L389.3,195.2 L390.3,197.4 L391.3,199.5 L392.3,201.6 L393.3,203.7 L394.3,205.7 L395.3,207.8 L396.3,209.8 L397.3,211.8 L398.3,213.8 L399.3,215.7 L400.3,217.6 L401.3,219.4 L402.3,221.3 L403.3,223.0 L404.3,224.7 L405.3,226.4 L406.3,228.1 L407.3,229.7 L408.3,231.2 L409.3,232.5 L410.3,233.9 L411.3,235.2 L412.3,236.5 L413.3,237.8 L414.3,239.1 L415.3,240.4 L416.3,241.8 L417.3,243.2 L418.3,244.6 L419.3,245.9 L420.3,247.0 L421.3,248.0 L422.3,248.8 L423.3,249.7 L424.3,250.5 L425.3,251.2 L426.3,251.8 L427.3,252.3 L428.3,252.5 L429.3,252.6 L430.3,252.6 L431.3,252.5 L432.3,252.4 L433.3,252.3 L434.3,252.2 L435.3,252.1 L436.3,252.0 L437.3,251.8 L438.3,251.6 L439.3,251.3 L440.3,251.0 L441.3,250.6 L442.3,250.1 L443.3,249.7 L444.3,249.2" stroke="#a24bc8" stroke-width="0.9"/>
<path d="M48.3,44.6 L49.3,43.9 L50.3,43.2 L51.3,42.4 L52.3,41.7 L53.3,41.0 L54.3,40.2 L55.3,39.5 L56.3,38.9 L57.3,38.2 L58.3,37.6 L59.3,37.1 L60.3,36.6 L61.3,36.2 L62.3,35.9 L63.3,35.6 L64.3,35.4 L65.3,35.1 L66.3,35.0 L67.3,34.8 L68.3,34.7 L69.3,34.6 L70.3,34.5 L71.3,34.4 L72.3,34.4 L73.3,34.3 L74.3,34.2 L75.3,34.2 L76.3,34.1 L77.3,34.1 L78.3,34.0 L79.3,34.0 L80.3,33.9 L81.3,33.9 L82.3,33.8 L83.3,33.8 L84.3,33.8 L85.3,33.7 L86.3,33.7 L87.3,33.7 L88.3,33.6 L89.3,33.6 L90.3,33.5 L91.3,33.5 L92.3,33.4 L93.3,33.3 L94.3,33.3 L95.3,33.2 L96.3,33.1 L97.3,33.0 L98.3,32.9 L99.3,32.9 L100.3,32.8 L101.3,32.7 L102.3,32.6 L103.3,32.5 L104.3,32.4 L105.3,32.4 L106.3,32.3 L107.3,32.3 L108.3,32.3 L109.3,32.2 L110.3,32.2 L111.3,32.2 L112.3,32.2 L113.3,32.2 L114.3,32.2 L115.3,32.3 L116.3,32.3 L117.3,32.3 L118.3,32.3 L119.3,32.3 L120.3,32.4 L121.3,32.4 L122.3,32.4 L123.3,32.5 L124.3,32.5 L125.3,32.5 L126.3,32.6 L127.3,32.6 L128.3,32.7 L129.3,32.7 L130.3,32.8 L131.3,32.8 L132.3,32.9 L133.3,32.9 L134.3,33.0 L135.3,33.0 L136.3,33.1 L137.3,33.2 L138.3,33.3 L139.3,33.3 L140.3,33.4 L141.3,33.5 L142.3,33.7 L143.3,33.8 L144.3,33.9 L145.3,34.1 L146.3,34.2 L147.3,34.4 L148.3,34.6 L149.3,34.7 L150.3,34.9 L151.3,35.1 L152.3,35.3 L153.3,35.4 L154.3,35.6 L155.3,35.8 L156.3,35.9 L157.3,36.1 L158.3,36.2 L159.3,36.4 L160.3,36.5 L161.3,36.6 L162.3,36.8 L163.3,36.9 L164.3,37.1 L165.3,37.2 L166.3,37.3 L167.3,37.4 L168.3,37.6 L169.3,37.7 L170.3,37.8 L171.3,38.0 L172.3,38.1 L173.3,38.2 L174.3,38.3 L175.3,38.5 L176.3,38.6 L177.3,38.7 L178.3,38.8 L179.3,39.0 L180.3,39.1 L181.3,39.2 L182.3,39.3 L183.3,39.4 L184.3,39.6 L185.3,39.7 L186.3,39.8 L187.3,39.9 L188.3,40.1 L189.3,40.2 L190.3,40.3 L191.3,40.4 L192.3,40.5 L193.3,40.6 L194.3,40.8 L195.3,40.9 L196.3,41.0 L197.3,41.1 L198.3,41.2 L199.3,41.3 L200.3,41.5 L201.3,41.6 L202.3,41.7 L203.3,41.8 L204.3,41.9 L205.3,42.0 L206.3,42.1 L207.3,42.2 L208.3,42.3 L209.3,42.4 L210.3,42.5 L211.3,42.7 L212.3,42.8 L213.3,42.9 L214.3,43.0 L215.3,43.2 L216.3,43.3 L217.3,43.4 L218.3,43.6 L219.3,43.7 L220.3,43.9 L221.3,44.1 L222.3,44.3 L223.3,44.5 L224.3,44.6 L225.3,44.9 L226.3,45.1 L227.3,45.3 L228.3,45.5 L229.3,45.7 L230.3,45.9 L231.3,46.2 L232.3,46.4 L233.3,46.6 L234.3,46.9 L235.3,47.1 L236.3,47.4 L237.3,47.6 L238.3,47.8 L239.3,48.1 L240.3,48.3 L241.3,48.6 L242.3,48.8 L243.3,49.1 L244.3,49.3 L245.3,49.6 L246.3,49.8 L247.3,50.1 L248.3,50.3 L249.3,50.6 L250.3,50.9 L251.3,51.2 L252.3,51.4 L253.3,51.7 L254.3,52.0 L255.3,52.3 L256.3,52.6 L257.3,52.9 L258.3,53.2 L259.3,53.5 L260.3,53.8 L261.3,54.2 L262.3,54.5 L263.3,54.8 L264.3,55.2 L265.3,55.5 L266.3,55.9 L267.3,56.3 L268.3,56.6 L269.3,57.0 L270.3,57.4 L271.3,57.7 L272.3,58.1 L273.3,58.5 L274.3,58.8 L275.3,59.2 L276.3,59.6 L277.3,59.9 L278.3,60.3 L279.3,60.7 L280.3,61.0 L281.3,61.4 L282.3,61.7 L283.3,62.1 L284.3,62.5 L285.3,62.8 L286.3,63.2 L287.3,63.6 L288.3,64.0 L289.3,64.3 L290.3,64.7 L291.3,65.1 L292.3,65.5 L293.3,65.9 L294.3,66.4 L295.3,66.8 L296.3,67.2 L297.3,67.7 L298.3,68.1 L299.3,68.5 L300.3,69.0 L301.3,69.4 L302.3,69.8 L303.3,70.3 L304.3,70.7 L305.3,71.1 L306.3,71.5 L307.3,71.9 L308.3,72.3 L309.3,72.7 L310.3,73.1 L311.3,73.5 L312.3,73.8 L313.3,74.2 L314.3,74.6 L315.3,75.0 L316.3,75.5 L317.3,75.9 L318.3,76.4 L319.3,76.8 L320.3,77.3 L321.3,77.9 L322.3,78.5 L323.3,79.1 L324.3,79.8 L325.3,80.5 L326.3,81.3 L327.3,82.1 L328.3,83.0 L329.3,84.0 L330.3,84.9 L331.3,85.9 L332.3,86.9 L333.3,88.0 L334.3,89.0 L335.3,90.1 L336.3,91.2 L337.3,92.3 L338.3,93.4 L339.3,94.5 L340.3,95.6 L341.3,96.8 L342.3,97.9 L343.3,99.1 L344.3,100.3 L345.3,101.5 L346.3,102.8 L347.3,104.1 L348.3,105.4 L349.3,106.7 L350.3,108.1 L351.3,109.5 L352.3,110.9 L353.3,112.3 L354.3,113.8 L355.3,115.3 L356.3,116.9 L357.3,118.5 L358.3,120.1 L359.3,121.7 L360.3,123.4 L361.3,125.1 L362.3,126.9 L363.3,128.7 L364.3,130.5 L365.3,132.3 L366.3,134.2 L367.3,136.1 L368.3,138.0 L369.3,140.0 L370.3,142.0 L371.3,144.0 L372.3,146.1 L373.3,148.2 L374.3,150.3 L375.3,152.4 L376.3,154.6 L377.3,156.8 L378.3,159.1 L379.3,161.4 L380.3,163.7 L381.3,166.0 L382.3,168.4 L383.3,170.8 L384.3,173.2 L385.3,175.6 L386.3,178.1 L387.3,180.5 L388.3,183.1 L389.3,185.6 L390.3,188.1 L391.3,190.7 L392.3,193.2 L393.3,195.8 L394.3,198.4 L395.3,201.0 L396.3,203.5 L397.3,206.1 L398.3,208.6 L399.3,211.1 L400.3,213.6 L401.3,216.0 L402.3,218.4 L403.3,220.7 L404.3,222.8 L405.3,224.7 L406.3,226.3 L407.3,227.8 L408.3,229.4 L409.3,230.8 L410.3,232.1 L411.3,233.2 L412.3,234.3 L413.3,235.3 L414.3,236.4 L415.3,237.3 L416.3,238.2 L417.3,239.0 L418.3,239.7 L419.3,240.2 L420.3,240.6 L421.3,240.9 L422.3,241.3 L423.3,241.6 L424.3,241.8 L425.3,242.1 L426.3,242.3 L427.3,242.4 L428.3,242.5 L429.3,242.5 L430.3,242.3 L431.3,242.1 L432.3,241.7 L433.3,241.3 L434.3,241.1 L435.3,240.9 L436.3,240.9 L437.3,241.1 L438.3,241.3 L439.3,241.6 L440.3,241.9 L441.3,242.4 L442.3,243.3 L443.3,244.4 L444.3,245.6" stroke="#ee3535" stroke-width="0.9"/>
<path d="M48.3,49.0 L49.3,47.6 L50.3,46.2 L51.3,44.9 L52.3,43.7 L53.3,42.6 L54.3,41.6 L55.3,40.7 L56.3,40.0 L57.3,39.3 L58.3,38.7 L59.3,38.1 L60.3,37.7 L61.3,37.3 L62.3,36.9 L63.3,36.6 L64.3,36.4 L65.3,36.2 L66.3,36.0 L67.3,35.8 L68.3,35.7 L69.3,35.6 L70.3,35.5 L71.3,35.4 L72.3,35.4 L73.3,35.3 L74.3,35.2 L75.3,35.2 L76.3,35.1 L77.3,35.1 L78.3,35.0 L79.3,34.9 L80.3,34.9 L81.3,34.8 L82.3,34.8 L83.3,34.7 L84.3,34.7 L85.3,34.6 L86.3,34.6 L87.3,34.5 L88.3,34.4 L89.3,34.4 L90.3,34.3 L91.3,34.3 L92.3,34.2 L93.3,34.1 L94.3,34.1 L95.3,34.0 L96.3,33.9 L97.3,33.9 L98.3,33.8 L99.3,33.7 L100.3,33.6 L101.3,33.6 L102.3,33.5 L103.3,33.4 L104.3,33.4 L105.3,33.3 L106.3,33.3 L107.3,33.3 L108.3,33.2 L109.3,33.2 L110.3,33.2 L111.3,33.2 L112.3,33.2 L113.3,33.2 L114.3,33.2 L115.3,33.3 L116.3,33.3 L117.3,33.3 L118.3,33.3 L119.3,33.3 L120.3,33.4 L121.3,33.4 L122.3,33.4 L123.3,33.5 L124.3,33.5 L125.3,33.5 L126.3,33.6 L127.3,33.6 L128.3,33.7 L129.3,33.7 L130.3,33.8 L131.3,33.8 L132.3,33.9 L133.3,33.9 L134.3,34.0 L135.3,34.0 L136.3,34.1 L137.3,34.2 L138.3,34.3 L139.3,34.4 L140.3,34.5 L141.3,34.6 L142.3,34.8 L143.3,35.0 L144.3,35.2 L145.3,35.4 L146.3,35.6 L147.3,35.8 L148.3,36.0 L149.3,36.3 L150.3,36.5 L151.3,36.8 L152.3,37.0 L153.3,37.2 L154.3,37.5 L155.3,37.7 L156.3,37.9 L157.3,38.0 L158.3,38.2 L159.3,38.4 L160.3,38.5 L161.3,38.7 L162.3,38.8 L163.3,38.9 L164.3,39.1 L165.3,39.2 L166.3,39.3 L167.3,39.4 L168.3,39.6 L169.3,39.7 L170.3,39.8 L171.3,39.9 L172.3,40.0 L173.3,40.2 L174.3,40.3 L175.3,40.4 L176.3,40.6 L177.3,40.7 L178.3,40.9 L179.3,41.0 L180.3,41.2 L181.3,41.3 L182.3,41.5 L183.3,41.6 L184.3,41.8 L185.3,42.0 L186.3,42.1 L187.3,42.3 L188.3,42.5 L189.3,42.6 L190.3,42.8 L191.3,43.0 L192.3,43.2 L193.3,43.3 L194.3,43.5 L195.3,43.7 L196.3,43.9 L197.3,44.1 L198.3,44.3 L199.3,44.4 L200.3,44.6 L201.3,44.8 L202.3,45.0 L203.3,45.2 L204.3,45.4 L205.3,45.5 L206.3,45.7 L207.3,45.9 L208.3,46.1 L209.3,46.3 L210.3,46.5 L211.3,46.7 L212.3,46.9 L213.3,47.1 L214.3,47.4 L215.3,47.6 L216.3,47.8 L217.3,48.0 L218.3,48.3 L219.3,48.5 L220.3,48.8 L221.3,49.0 L222.3,49.3 L223.3,49.6 L224.3,49.8 L225.3,50.1 L226.3,50.4 L227.3,50.7 L228.3,51.0 L229.3,51.3 L230.3,51.6 L231.3,51.9 L232.3,52.3 L233.3,52.6 L234.3,52.9 L235.3,53.2 L236.3,53.5 L237.3,53.9 L238.3,54.2 L239.3,54.6 L240.3,54.9 L241.3,55.3 L242.3,55.7 L243.3,56.0 L244.3,56.4 L245.3,56.7 L246.3,57.1 L247.3,57.4 L248.3,57.7 L249.3,58.0 L250.3,58.3 L251.3,58.5 L252.3,58.8 L253.3,59.0 L254.3,59.3 L255.3,59.5 L256.3,59.8 L257.3,60.1 L258.3,60.4 L259.3,60.7 L260.3,61.0 L261.3,61.4 L262.3,61.7 L263.3,62.1 L264.3,62.5 L265.3,62.9 L266.3,63.4 L267.3,63.8 L268.3,64.2 L269.3,64.6 L270.3,65.1 L271.3,65.5 L272.3,65.9 L273.3,66.3 L274.3,66.8 L275.3,67.1 L276.3,67.5 L277.3,67.9 L278.3,68.3 L279.3,68.6 L280.3,68.9 L281.3,69.3 L282.3,69.6 L283.3,69.9 L284.3,70.2 L285.3,70.5 L286.3,70.8 L287.3,71.1 L288.3,71.5 L289.3,71.8 L290.3,72.1 L291.3,72.4 L292.3,72.8 L293.3,73.1 L294.3,73.4 L295.3,73.8 L296.3,74.1 L297.3,74.4 L298.3,74.8 L299.3,75.1 L300.3,75.5 L301.3,75.9 L302.3,76.3 L303.3,76.7 L304.3,77.1 L305.3,77.5 L306.3,78.0 L307.3,78.5 L308.3,78.9 L309.3,79.5 L310.3,80.0 L311.3,80.6 L312.3,81.2 L313.3,81.8 L314.3,82.4 L315.3,83.1 L316.3,83.8 L317.3,84.5 L318.3,85.2 L319.3,86.0 L320.3,86.7 L321.3,87.5 L322.3,88.3 L323.3,89.0 L324.3,89.9 L325.3,90.7 L326.3,91.6 L327.3,92.4 L328.3,93.3 L329.3,94.2 L330.3,95.1 L331.3,96.1 L332.3,97.0 L333.3,98.0 L334.3,98.9 L335.3,99.9 L336.3,100.8 L337.3,101.9 L338.3,102.9 L339.3,104.1 L340.3,105.3 L341.3,106.5 L342.3,107.8 L343.3,109.2 L344.3,110.6 L345.3,112.1 L346.3,113.7 L347.3,115.2 L348.3,116.8 L349.3,118.4 L350.3,120.1 L351.3,121.7 L352.3,123.4 L353.3,125.1 L354.3,126.9 L355.3,128.6 L356.3,130.4 L357.3,132.2 L358.3,134.1 L359.3,136.0 L360.3,137.9 L361.3,139.8 L362.3,141.7 L363.3,143.7 L364.3,145.6 L365.3,147.6 L366.3,149.5 L367.3,151.5 L368.3,153.5 L369.3,155.4 L370.3,157.4 L371.3,159.4 L372.3,161.4 L373.3,163.4 L374.3,165.4 L375.3,167.4 L376.3,169.5 L377.3,171.5 L378.3,173.5 L379.3,175.6 L380.3,177.6 L381.3,179.7 L382.3,181.7 L383.3,183.8 L384.3,185.9 L385.3,188.0 L386.3,190.0 L387.3,192.1 L388.3,194.2 L389.3,196.3 L390.3,198.4 L391.3,200.4 L392.3,202.5 L393.3,204.5 L394.3,206.5 L395.3,208.5 L396.3,210.5 L397.3,212.4 L398.3,214.3 L399.3,216.2 L400.3,218.0 L401.3,219.8 L402.3,221.6 L403.3,223.3 L404.3,224.9 L405.3,226.5 L406.3,228.1 L407.3,229.6 L408.3,231.0 L409.3,232.4 L410.3,233.7 L411.3,234.9 L412.3,236.0 L413.3,237.0 L414.3,237.9 L415.3,238.7 L416.3,239.5 L417.3,240.1 L418.3,240.7 L419.3,241.2 L420.3,241.6 L421.3,242.0 L422.3,242.3 L423.3,242.6 L424.3,242.9 L425.3,243.1 L426.3,243.2 L427.3,243.3 L428.3,243.4 L429.3,243.5 L430.3,243.5 L431.3,243.5 L432.3,243.4 L433.3,243.4 L434.3,243.4 L435.3,243.3 L436.3,243.4 L437.3,243.4 L438.3,243.6 L439.3,243.8 L440.3,244.0 L441.3,244.3 L442.3,244.7 L443.3,245.1 L444.3,245.6" stroke="#2a2af0" stroke-width="1.2"/>
<path d="M48.3,44.6 L49.3,43.9 L50.3,43.2 L51.3,42.4 L52.3,41.7 L53.3,41.0 L54.3,40.2 L55.3,39.5 L56.3,38.9 L57.3,38.2 L58.3,37.6 L59.3,37.1 L60.3,36.6 L61.3,36.2 L62.3,35.9 L63.3,35.6 L64.3,35.4 L65.3,35.1 L66.3,35.0 L67.3,34.8 L68.3,34.7 L69.3,34.6 L70.3,34.5 L71.3,34.4 L72.3,34.4 L73.3,34.3 L74.3,34.2 L75.3,34.2 L76.3,34.1 L77.3,34.1 L78.3,34.0 L79.3,34.0 L80.3,33.9 L81.3,33.9 L82.3,33.8 L83.3,33.8 L84.3,33.8 L85.3,33.7 L86.3,33.7 L87.3,33.7 L88.3,33.6 L89.3,33.6 L90.3,33.5 L91.3,33.5 L92.3,33.4 L93.3,33.3 L94.3,33.3 L95.3,33.2 L96.3,33.1 L97.3,33.0 L98.3,32.9 L99.3,32.9 L100.3,32.8 L101.3,32.7 L102.3,32.6 L103.3,32.5 L104.3,32.4 L105.3,32.4 L106.3,32.3 L107.3,32.3 L108.3,32.3 L109.3,32.2 L110.3,32.2 L111.3,32.2 L112.3,32.2 L113.3,32.2 L114.3,32.2 L115.3,32.3 L116.3,32.3 L117.3,32.3 L118.3,32.3 L119.3,32.3 L120.3,32.4 L121.3,32.4 L122.3,32.4 L123.3,32.5 L124.3,32.5 L125.3,32.5 L126.3,32.6 L127.3,32.6 L128.3,32.7 L129.3,32.7 L130.3,32.8 L131.3,32.8 L132.3,32.9 L133.3,32.9 L134.3,33.0 L135.3,33.0 L136.3,33.1 L137.3,33.2 L138.3,33.3 L139.3,33.3 L140.3,33.4 L141.3,33.5 L142.3,33.7 L143.3,33.8 L144.3,33.9 L145.3,34.1 L146.3,34.2 L147.3,34.4 L148.3,34.6 L149.3,34.7 L150.3,34.9 L151.3,35.1 L152.3,35.3 L153.3,35.4 L154.3,35.6 L155.3,35.8 L156.3,35.9 L157.3,36.1 L158.3,36.2 L159.3,36.4 L160.3,36.5 L161.3,36.6 L162.3,36.8 L163.3,36.9 L164.3,37.1 L165.3,37.2 L166.3,37.3 L167.3,37.4 L168.3,37.6 L169.3,37.7 L170.3,37.8 L171.3,38.0 L172.3,38.1 L173.3,38.2 L174.3,38.3 L175.3,38.5 L176.3,38.6 L177.3,38.7 L178.3,38.8 L179.3,39.0 L180.3,39.1 L181.3,39.2 L182.3,39.3 L183.3,39.4 L184.3,39.6 L185.3,39.7 L186.3,39.8 L187.3,39.9 L188.3,40.1 L189.3,40.2 L190.3,40.3 L191.3,40.4 L192.3,40.5 L193.3,40.6 L194.3,40.8 L195.3,40.9 L196.3,41.0 L197.3,41.1 L198.3,41.2 L199.3,41.3 L200.3,41.5 L201.3,41.6 L202.3,41.7 L203.3,41.8 L204.3,41.9 L205.3,42.0 L206.3,42.1 L207.3,42.2 L208.3,42.3 L209.3,42.4 L210.3,42.5 L211.3,42.7 L212.3,42.8 L213.3,42.9 L214.3,43.0 L215.3,43.2 L216.3,43.3 L217.3,43.4 L218.3,43.6 L219.3,43.7 L220.3,43.9 L221.3,44.1 L222.3,44.3 L223.3,44.5 L224.3,44.6 L225.3,44.9 L226.3,45.1 L227.3,45.3 L228.3,45.5 L229.3,45.7 L230.3,45.9 L231.3,46.2 L232.3,46.4 L233.3,46.6 L234.3,46.9 L235.3,47.1 L236.3,47.4 L237.3,47.6 L238.3,47.8 L239.3,48.1 L240.3,48.3 L241.3,48.6 L242.3,48.8 L243.3,49.1 L244.3,49.3 L245.3,49.6 L246.3,49.8 L247.3,50.1 L248.3,50.3 L249.3,50.6 L250.3,50.9 L251.3,51.2 L252.3,51.4 L253.3,51.7 L254.3,52.0 L255.3,52.3 L256.3,52.6 L257.3,52.9 L258.3,53.2 L259.3,53.5 L260.3,53.8 L261.3,54.2 L262.3,54.5 L263.3,54.8 L264.3,55.2 L265.3,55.5 L266.3,55.9 L267.3,56.3 L268.3,56.6 L269.3,57.0 L270.3,57.4 L271.3,57.7 L272.3,58.1 L273.3,58.5 L274.3,58.8 L275.3,59.2 L276.3,59.6 L277.3,59.9 L278.3,60.3 L279.3,60.7 L280.3,61.0 L281.3,61.4 L282.3,61.7 L283.3,62.1 L284.3,62.5 L285.3,62.8 L286.3,63.2 L287.3,63.6 L288.3,64.0 L289.3,64.4 L290.3,64.7 L291.3,65.2 L292.3,65.6 L293.3,66.0 L294.3,66.4 L295.3,66.9 L296.3,67.3 L297.3,67.7 L298.3,68.2 L299.3,68.7 L300.3,69.1 L301.3,69.6 L302.3,70.0 L303.3,70.5 L304.3,71.0 L305.3,71.4 L306.3,71.9 L307.3,72.3 L308.3,72.7 L309.3,73.2 L310.3,73.6 L311.3,74.0 L312.3,74.5 L313.3,74.9 L314.3,75.3 L315.3,75.8 L316.3,76.2 L317.3,76.7 L318.3,77.2 L319.3,77.7 L320.3,78.2 L321.3,78.8 L322.3,79.4 L323.3,80.0 L324.3,80.7 L325.3,81.4 L326.3,82.1 L327.3,83.0 L328.3,83.8 L329.3,84.7 L330.3,85.6 L331.3,86.6 L332.3,87.5 L333.3,88.5 L334.3,89.5 L335.3,90.6 L336.3,91.6 L337.3,92.6 L338.3,93.7 L339.3,94.8 L340.3,95.9 L341.3,97.0 L342.3,98.1 L343.3,99.3 L344.3,100.4 L345.3,101.7 L346.3,102.9 L347.3,104.1 L348.3,105.4 L349.3,106.8 L350.3,108.1 L351.3,109.5 L352.3,110.9 L353.3,112.4 L354.3,113.8 L355.3,115.4 L356.3,116.9 L357.3,118.5 L358.3,120.1 L359.3,121.7 L360.3,123.4 L361.3,125.1 L362.3,126.9 L363.3,128.7 L364.3,130.5 L365.3,132.3 L366.3,134.2 L367.3,136.1 L368.3,138.0 L369.3,140.0 L370.3,142.0 L371.3,144.0 L372.3,146.1 L373.3,148.2 L374.3,150.3 L375.3,152.4 L376.3,154.6 L377.3,156.8 L378.3,159.1 L379.3,161.4 L380.3,163.7 L381.3,166.0 L382.3,168.4 L383.3,170.8 L384.3,173.2 L385.3,175.6 L386.3,178.1 L387.3,180.5 L388.3,183.1 L389.3,185.6 L390.3,188.1 L391.3,190.7 L392.3,193.2 L393.3,195.8 L394.3,198.4 L395.3,201.0 L396.3,203.5 L397.3,206.1 L398.3,208.6 L399.3,211.1 L400.3,213.6 L401.3,216.1 L402.3,218.4 L403.3,220.8 L404.3,223.0 L405.3,225.2 L406.3,227.3 L407.3,229.4 L408.3,231.4 L409.3,233.3 L410.3,235.2 L411.3,236.9 L412.3,238.7 L413.3,240.4 L414.3,242.0 L415.3,243.5 L416.3,245.1 L417.3,246.5 L418.3,247.9 L419.3,249.1 L420.3,250.3 L421.3,251.5 L422.3,252.5 L423.3,253.4 L424.3,254.2 L425.3,255.0 L426.3,255.6 L427.3,256.2 L428.3,256.6 L429.3,257.0 L430.3,257.3 L431.3,257.5 L432.3,257.5 L433.3,257.5 L434.3,257.4 L435.3,257.2 L436.3,257.0 L437.3,256.7 L438.3,256.3 L439.3,255.9 L440.3,255.5 L441.3,255.1 L442.3,254.6 L443.3,254.2 L444.3,253.7" stroke="#f5e800" stroke-width="1.35"/>
<path d="M48.3,43.9 L49.3,43.8 L50.3,43.7 L51.3,43.6 L52.3,43.5 L53.3,43.4 L54.3,43.3 L55.3,43.2 L56.3,43.1 L57.3,42.9 L58.3,42.8 L59.3,42.7 L60.3,42.5 L61.3,42.4 L62.3,42.3 L63.3,42.1 L64.3,41.9 L65.3,41.8 L66.3,41.6 L67.3,41.5 L68.3,41.3 L69.3,41.1 L70.3,41.0 L71.3,40.8 L72.3,40.6 L73.3,40.5 L74.3,40.3 L75.3,40.1 L76.3,39.9 L77.3,39.8 L78.3,39.6 L79.3,39.4 L80.3,39.2 L81.3,39.1 L82.3,38.9 L83.3,38.8 L84.3,38.7 L85.3,38.6 L86.3,38.4 L87.3,38.3 L88.3,38.2 L89.3,38.2 L90.3,38.1 L91.3,38.0 L92.3,38.0 L93.3,38.0 L94.3,38.0 L95.3,38.0 L96.3,38.0 L97.3,38.1 L98.3,38.1 L99.3,38.2 L100.3,38.3 L101.3,38.4 L102.3,38.5 L103.3,38.6 L104.3,38.7 L105.3,38.8 L106.3,38.9 L107.3,39.1 L108.3,39.2 L109.3,39.4 L110.3,39.6 L111.3,39.7 L112.3,39.9 L113.3,40.1 L114.3,40.3 L115.3,40.5 L116.3,40.7 L117.3,40.9 L118.3,41.1 L119.3,41.4 L120.3,41.6 L121.3,41.8 L122.3,42.0 L123.3,42.3 L124.3,42.5 L125.3,42.8 L126.3,43.0 L127.3,43.3 L128.3,43.5 L129.3,43.8 L130.3,44.1 L131.3,44.3 L132.3,44.6 L133.3,44.9 L134.3,45.1 L135.3,45.4 L136.3,45.7 L137.3,46.0 L138.3,46.3 L139.3,46.7 L140.3,47.0 L141.3,47.4 L142.3,47.7 L143.3,48.1 L144.3,48.4 L145.3,48.8 L146.3,49.1 L147.3,49.4 L148.3,49.7 L149.3,50.0 L150.3,50.2 L151.3,50.5 L152.3,50.7 L153.3,50.9 L154.3,51.1 L155.3,51.3 L156.3,51.4 L157.3,51.6 L158.3,51.7 L159.3,51.8 L160.3,51.9 L161.3,52.0 L162.3,52.1 L163.3,52.2 L164.3,52.3 L165.3,52.3 L166.3,52.4 L167.3,52.5 L168.3,52.5 L169.3,52.6 L170.3,52.7 L171.3,52.7 L172.3,52.8 L173.3,52.8 L174.3,52.8 L175.3,52.8 L176.3,52.9 L177.3,52.9 L178.3,52.9 L179.3,52.9 L180.3,52.9 L181.3,52.8 L182.3,52.8 L183.3,52.8 L184.3,52.7 L185.3,52.7 L186.3,52.7 L187.3,52.6 L188.3,52.6 L189.3,52.5 L190.3,52.5 L191.3,52.5 L192.3,52.4 L193.3,52.4 L194.3,52.4 L195.3,52.3 L196.3,52.3 L197.3,52.3 L198.3,52.3 L199.3,52.3 L200.3,52.3 L201.3,52.3 L202.3,52.3 L203.3,52.3 L204.3,52.4 L205.3,52.4 L206.3,52.4 L207.3,52.4 L208.3,52.4 L209.3,52.4 L210.3,52.5 L211.3,52.5 L212.3,52.5 L213.3,52.5 L214.3,52.6 L215.3,52.6 L216.3,52.6 L217.3,52.7 L218.3,52.7 L219.3,52.8 L220.3,52.8 L221.3,52.9 L222.3,52.9 L223.3,53.0 L224.3,53.1 L225.3,53.2 L226.3,53.3 L227.3,53.4 L228.3,53.6 L229.3,53.7 L230.3,53.8 L231.3,54.0 L232.3,54.1 L233.3,54.3 L234.3,54.5 L235.3,54.7 L236.3,54.9 L237.3,55.1 L238.3,55.3 L239.3,55.6 L240.3,55.9 L241.3,56.2 L242.3,56.6 L243.3,57.0 L244.3,57.4 L245.3,57.8 L246.3,58.2 L247.3,58.7 L248.3,59.1 L249.3,59.6 L250.3,60.0 L251.3,60.4 L252.3,60.8 L253.3,61.3 L254.3,61.7 L255.3,62.1 L256.3,62.5 L257.3,62.9 L258.3,63.2 L259.3,63.6 L260.3,63.9 L261.3,64.2 L262.3,64.6 L263.3,64.8 L264.3,65.1 L265.3,65.4 L266.3,65.7 L267.3,66.0 L268.3,66.2 L269.3,66.5 L270.3,66.8 L271.3,67.1 L272.3,67.4 L273.3,67.7 L274.3,68.0 L275.3,68.3 L276.3,68.6 L277.3,69.0 L278.3,69.4 L279.3,69.8 L280.3,70.3 L281.3,70.8 L282.3,71.3 L283.3,71.8 L284.3,72.3 L285.3,72.8 L286.3,73.3 L287.3,73.8 L288.3,74.2 L289.3,74.6 L290.3,75.0 L291.3,75.4 L292.3,75.7 L293.3,76.1 L294.3,76.4 L295.3,76.7 L296.3,77.0 L297.3,77.2 L298.3,77.5 L299.3,77.8 L300.3,78.0 L301.3,78.3 L302.3,78.5 L303.3,78.8 L304.3,79.0 L305.3,79.2 L306.3,79.4 L307.3,79.6 L308.3,79.8 L309.3,80.0 L310.3,80.3 L311.3,80.5 L312.3,80.8 L313.3,81.0 L314.3,81.3 L315.3,81.6 L316.3,82.0 L317.3,82.3 L318.3,82.7 L319.3,83.1 L320.3,83.5 L321.3,84.0 L322.3,84.5 L323.3,85.0 L324.3,85.5 L325.3,86.0 L326.3,86.6 L327.3,87.2 L328.3,87.8 L329.3,88.5 L330.3,89.1 L331.3,89.8 L332.3,90.6 L333.3,91.4 L334.3,92.2 L335.3,93.1 L336.3,94.0 L337.3,94.8 L338.3,95.8 L339.3,96.7 L340.3,97.6 L341.3,98.5 L342.3,99.5 L343.3,100.5 L344.3,101.5 L345.3,102.5 L346.3,103.6 L347.3,104.8 L348.3,106.0 L349.3,107.3 L350.3,108.7 L351.3,110.1 L352.3,111.5 L353.3,113.0 L354.3,114.6 L355.3,116.1 L356.3,117.8 L357.3,119.4 L358.3,121.1 L359.3,122.8 L360.3,124.5 L361.3,126.3 L362.3,128.1 L363.3,130.0 L364.3,131.8 L365.3,133.7 L366.3,135.7 L367.3,137.7 L368.3,139.7 L369.3,141.8 L370.3,143.9 L371.3,146.1 L372.3,148.3 L373.3,150.6 L374.3,152.9 L375.3,155.2 L376.3,157.5 L377.3,160.0 L378.3,162.4 L379.3,164.9 L380.3,167.5 L381.3,170.1 L382.3,172.7 L383.3,175.4 L384.3,178.1 L385.3,180.8 L386.3,183.6 L387.3,186.4 L388.3,189.3 L389.3,192.2 L390.3,195.2 L391.3,198.3 L392.3,201.4 L393.3,204.6 L394.3,207.8 L395.3,211.0 L396.3,214.2 L397.3,217.4 L398.3,220.5 L399.3,223.5 L400.3,226.4 L401.3,229.1 L402.3,231.8 L403.3,234.2 L404.3,236.5 L405.3,238.7 L406.3,240.7 L407.3,242.6 L408.3,244.4 L409.3,246.1 L410.3,247.7 L411.3,249.1 L412.3,250.5 L413.3,251.8 L414.3,252.9 L415.3,254.0 L416.3,255.0 L417.3,255.8 L418.3,256.6 L419.3,257.3 L420.3,257.9 L421.3,258.5 L422.3,258.9 L423.3,259.3 L424.3,259.6 L425.3,259.9 L426.3,260.1 L427.3,260.2 L428.3,260.2 L429.3,260.2 L430.3,260.0 L431.3,259.9 L432.3,259.6 L433.3,259.3 L434.3,258.9 L435.3,258.5 L436.3,258.1 L437.3,257.6 L438.3,257.1 L439.3,256.6 L440.3,256.1 L441.3,255.5 L442.3,255.0 L443.3,254.4 L444.3,253.8" stroke="#b5262a" stroke-width="1.3"/>
</g>
<circle cx="158" cy="57" r="0.7" fill="#b5262a"/><circle cx="180" cy="49.5" r="0.7" fill="#b5262a"/><circle cx="202.5" cy="52.5" r="0.7" fill="#b5262a"/><circle cx="224.5" cy="46.5" r="0.7" fill="#b5262a"/><circle cx="246" cy="68" r="0.7" fill="#dd4444"/><circle cx="268" cy="79.5" r="0.7" fill="#111"/><circle cx="290.5" cy="86" r="0.7" fill="#111"/><circle cx="312.5" cy="118" r="0.7" fill="#111"/><circle cx="334" cy="166" r="0.7" fill="#111"/><circle cx="356" cy="181" r="0.7" fill="#111"/><circle cx="378" cy="200.5" r="0.7" fill="#111"/><circle cx="290" cy="60" r="0.7" fill="#a24bc8"/><circle cx="290" cy="63" r="0.7" fill="#2a2af0"/><circle cx="334.5" cy="105.5" r="0.7" fill="#2a2af0"/><circle cx="334.5" cy="108" r="0.7" fill="#f5e800"/><circle cx="378.5" cy="145.7" r="0.7" fill="#35c74a"/><circle cx="92.4" cy="180.8" r="0.7" fill="#f7a81b"/><circle cx="114" cy="196" r="0.7" fill="#f7a81b"/><circle cx="136" cy="201.5" r="0.7" fill="#f7a81b"/><circle cx="158" cy="217.5" r="0.7" fill="#f7a81b"/><circle cx="202.5" cy="216.5" r="0.7" fill="#f7a81b"/><circle cx="246.5" cy="236" r="0.7" fill="#f7a81b"/><circle cx="268.5" cy="228.3" r="0.7" fill="#f7a81b"/><circle cx="312" cy="238" r="0.7" fill="#f7a81b"/><circle cx="356" cy="245" r="0.7" fill="#f7a81b"/><circle cx="421.5" cy="239.5" r="0.7" fill="#2a2af0"/><circle cx="444.3" cy="234" r="0.7" fill="#111"/><circle cx="444.3" cy="238" r="0.7" fill="#f7a81b"/><circle cx="444.3" cy="252" r="0.7" fill="#35c74a"/><circle cx="158" cy="80" r="0.7" fill="#f4c2cb"/><circle cx="224.5" cy="92.5" r="0.7" fill="#f4c2cb"/><circle cx="290.5" cy="121" r="0.7" fill="#f4c2cb"/><circle cx="398" cy="231" r="0.7" fill="#888"/>
</g>
<rect x="29" y="7" width="435.2" height="279.2" fill="none" stroke="#bdbdbd" stroke-width="1"/>
<g font-size="8.3" fill="#1c1c1c" stroke="#1c1c1c" stroke-width="0.15">
<text x="26.9" y="31.3" text-anchor="end">1.0</text><line x1="27.6" x2="29" y1="28.3" y2="28.3" stroke="#b8b8b8" stroke-width="0.8"/><text x="26.9" y="116.9" text-anchor="end">0.8</text><line x1="27.6" x2="29" y1="113.9" y2="113.9" stroke="#b8b8b8" stroke-width="0.8"/><text x="26.9" y="202.4" text-anchor="end">0.6</text><line x1="27.6" x2="29" y1="199.4" y2="199.4" stroke="#b8b8b8" stroke-width="0.8"/><text x="26.9" y="288.0" text-anchor="end">0.4</text><line x1="27.6" x2="29" y1="285.0" y2="285.0" stroke="#b8b8b8" stroke-width="0.8"/>
<text x="111.7" y="295.2" text-anchor="middle">5000</text><line x1="111.3" x2="111.3" y1="286.2" y2="287.6" stroke="#b8b8b8" stroke-width="0.8"/><text x="197.8" y="295.2" text-anchor="middle">10,000</text><line x1="195.6" x2="195.6" y1="286.2" y2="287.6" stroke="#b8b8b8" stroke-width="0.8"/><text x="281.7" y="295.2" text-anchor="middle">15,000</text><line x1="279.8" x2="279.8" y1="286.2" y2="287.6" stroke="#b8b8b8" stroke-width="0.8"/><text x="365.9" y="295.2" text-anchor="middle">20,000</text><line x1="364" x2="364" y1="286.2" y2="287.6" stroke="#b8b8b8" stroke-width="0.8"/><text x="450.8" y="295.2" text-anchor="middle">25,000</text><line x1="448.6" x2="448.6" y1="286.2" y2="287.6" stroke="#b8b8b8" stroke-width="0.8"/>
</g>
<text x="246.3" y="306" text-anchor="middle" font-size="10.4" fill="#1a1a1a">Number of markers</text>
<text transform="translate(12.6,146.5) rotate(-90)" text-anchor="middle" font-size="10.6" fill="#1a1a1a">AUC</text>
<rect x="499" y="89.6" width="43.2" height="86.4" fill="#bebebe"/>
<g font-size="7" fill="#262626" stroke="#262626" stroke-width="0.25" font-family="DejaVu Sans Condensed, DejaVu Sans, Liberation Sans, sans-serif">
<line x1="503.2" x2="515.7" y1="96.9" y2="96.9" stroke="#f9b9cd" stroke-width="1.5"/><text x="518.7" y="99.2" textLength="14.0" lengthAdjust="spacingAndGlyphs">SVM</text><line x1="503.2" x2="515.7" y1="104.9" y2="104.9" stroke="#8b1020" stroke-width="1.5"/><text x="518.3" y="107.2" textLength="14.3" lengthAdjust="spacingAndGlyphs">ANN</text><line x1="503.2" x2="515.7" y1="112.9" y2="112.9" stroke="#1a1a1a" stroke-width="1.5"/><text x="518.3" y="115.2" textLength="16.6" lengthAdjust="spacingAndGlyphs">RKHS</text><line x1="503.2" x2="515.7" y1="120.9" y2="120.9" stroke="#ff8a1f" stroke-width="1.5"/><text x="518.3" y="123.2" textLength="7.2" lengthAdjust="spacingAndGlyphs">RF</text><line x1="503.2" x2="515.7" y1="128.9" y2="128.9" stroke="#ffffff" stroke-width="1.5"/><text x="518.3" y="131.2" textLength="14.3" lengthAdjust="spacingAndGlyphs">GBM</text><line x1="503.2" x2="515.7" y1="136.9" y2="136.9" stroke="#22f04a" stroke-width="1.5"/><text x="518.3" y="139.2" textLength="21.3" lengthAdjust="spacingAndGlyphs">BayesB</text><line x1="503.2" x2="515.7" y1="144.9" y2="144.9" stroke="#a64cc4" stroke-width="1.5"/><text x="518.3" y="147.2" textLength="21.9" lengthAdjust="spacingAndGlyphs">BayesA</text><line x1="503.2" x2="515.7" y1="152.9" y2="152.9" stroke="#f03038" stroke-width="1.5"/><text x="518.3" y="155.2" textLength="21.4" lengthAdjust="spacingAndGlyphs">BayesC</text><line x1="503.2" x2="515.7" y1="160.9" y2="160.9" stroke="#4050e0" stroke-width="1.5"/><text x="519.0" y="163.2" textLength="6.8" lengthAdjust="spacingAndGlyphs">BL</text><line x1="503.2" x2="515.7" y1="168.9" y2="168.9" stroke="#f5e61a" stroke-width="1.5"/><text x="519.2" y="171.2" textLength="12.4" lengthAdjust="spacingAndGlyphs">BRR</text>
</g>
</svg>
</body></html>
